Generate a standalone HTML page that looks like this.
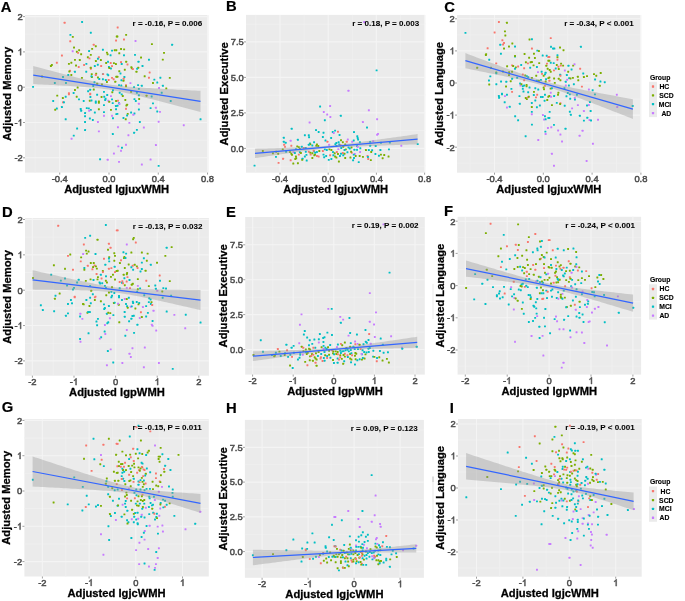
<!DOCTYPE html>
<html><head><meta charset="utf-8"><style>
html,body{margin:0;padding:0;background:#fff;width:685px;height:601px;overflow:hidden}
svg{display:block;font-family:"Liberation Sans",sans-serif;will-change:transform;-webkit-font-smoothing:antialiased}
</style></head><body>
<svg width="685" height="601" viewBox="0 0 685 601">
<rect width="685" height="601" fill="#ffffff"/>
<rect x="25" y="15" width="183.4" height="157.6" fill="#EBEBEB"/>
<line x1="35.08" y1="15" x2="35.08" y2="172.6" stroke="#F0F0F0" stroke-width="0.8"/>
<line x1="84.36" y1="15" x2="84.36" y2="172.6" stroke="#F0F0F0" stroke-width="0.8"/>
<line x1="133.64" y1="15" x2="133.64" y2="172.6" stroke="#F0F0F0" stroke-width="0.8"/>
<line x1="182.92" y1="15" x2="182.92" y2="172.6" stroke="#F0F0F0" stroke-width="0.8"/>
<line x1="25" y1="140.15" x2="208.4" y2="140.15" stroke="#F0F0F0" stroke-width="0.8"/>
<line x1="25" y1="104.85" x2="208.4" y2="104.85" stroke="#F0F0F0" stroke-width="0.8"/>
<line x1="25" y1="69.55" x2="208.4" y2="69.55" stroke="#F0F0F0" stroke-width="0.8"/>
<line x1="25" y1="34.25" x2="208.4" y2="34.25" stroke="#F0F0F0" stroke-width="0.8"/>
<line x1="59.72" y1="15" x2="59.72" y2="172.6" stroke="#F4F4F4" stroke-width="1.1"/>
<line x1="109" y1="15" x2="109" y2="172.6" stroke="#F4F4F4" stroke-width="1.1"/>
<line x1="158.28" y1="15" x2="158.28" y2="172.6" stroke="#F4F4F4" stroke-width="1.1"/>
<line x1="207.56" y1="15" x2="207.56" y2="172.6" stroke="#F4F4F4" stroke-width="1.1"/>
<line x1="25" y1="157.8" x2="208.4" y2="157.8" stroke="#F4F4F4" stroke-width="1.1"/>
<line x1="25" y1="122.5" x2="208.4" y2="122.5" stroke="#F4F4F4" stroke-width="1.1"/>
<line x1="25" y1="87.2" x2="208.4" y2="87.2" stroke="#F4F4F4" stroke-width="1.1"/>
<line x1="25" y1="51.9" x2="208.4" y2="51.9" stroke="#F4F4F4" stroke-width="1.1"/>
<line x1="25" y1="16.6" x2="208.4" y2="16.6" stroke="#F4F4F4" stroke-width="1.1"/>
<line x1="59.72" y1="172.6" x2="59.72" y2="174.6" stroke="#777" stroke-width="0.7"/>
<text x="59.72" y="182" font-size="9.4" fill="#4D4D4D" stroke="#4D4D4D" stroke-width="0.5" text-anchor="middle" font-family="Liberation Sans, sans-serif">-0.4</text>
<line x1="109" y1="172.6" x2="109" y2="174.6" stroke="#777" stroke-width="0.7"/>
<text x="109" y="182" font-size="9.4" fill="#4D4D4D" stroke="#4D4D4D" stroke-width="0.5" text-anchor="middle" font-family="Liberation Sans, sans-serif">0.0</text>
<line x1="158.28" y1="172.6" x2="158.28" y2="174.6" stroke="#777" stroke-width="0.7"/>
<text x="158.28" y="182" font-size="9.4" fill="#4D4D4D" stroke="#4D4D4D" stroke-width="0.5" text-anchor="middle" font-family="Liberation Sans, sans-serif">0.4</text>
<line x1="207.56" y1="172.6" x2="207.56" y2="174.6" stroke="#777" stroke-width="0.7"/>
<text x="207.56" y="182" font-size="9.4" fill="#4D4D4D" stroke="#4D4D4D" stroke-width="0.5" text-anchor="middle" font-family="Liberation Sans, sans-serif">0.8</text>
<line x1="23" y1="157.8" x2="25" y2="157.8" stroke="#777" stroke-width="0.7"/>
<text x="22.8" y="161.1" font-size="9.4" fill="#4D4D4D" stroke="#4D4D4D" stroke-width="0.5" text-anchor="end" font-family="Liberation Sans, sans-serif">-2</text>
<line x1="23" y1="122.5" x2="25" y2="122.5" stroke="#777" stroke-width="0.7"/>
<text x="22.8" y="125.8" font-size="9.4" fill="#4D4D4D" stroke="#4D4D4D" stroke-width="0.5" text-anchor="end" font-family="Liberation Sans, sans-serif">-&#8199;</text><path transform="translate(17.57,125.8) scale(9.4)" d="M0.283,0L0.373,0L0.373,-0.716L0.315,-0.716C0.29,-0.65 0.22,-0.57 0.109,-0.52L0.109,-0.445C0.18,-0.47 0.24,-0.51 0.283,-0.55Z" fill="#4D4D4D" stroke="#4D4D4D" stroke-width="0.0532"/>
<line x1="23" y1="87.2" x2="25" y2="87.2" stroke="#777" stroke-width="0.7"/>
<text x="22.8" y="90.5" font-size="9.4" fill="#4D4D4D" stroke="#4D4D4D" stroke-width="0.5" text-anchor="end" font-family="Liberation Sans, sans-serif">0</text>
<line x1="23" y1="51.9" x2="25" y2="51.9" stroke="#777" stroke-width="0.7"/>
<text x="22.8" y="55.2" font-size="9.4" fill="#4D4D4D" stroke="#4D4D4D" stroke-width="0.5" text-anchor="end" font-family="Liberation Sans, sans-serif">&#8199;</text><path transform="translate(17.57,55.2) scale(9.4)" d="M0.283,0L0.373,0L0.373,-0.716L0.315,-0.716C0.29,-0.65 0.22,-0.57 0.109,-0.52L0.109,-0.445C0.18,-0.47 0.24,-0.51 0.283,-0.55Z" fill="#4D4D4D" stroke="#4D4D4D" stroke-width="0.0532"/>
<line x1="23" y1="16.6" x2="25" y2="16.6" stroke="#777" stroke-width="0.7"/>
<text x="22.8" y="19.9" font-size="9.4" fill="#4D4D4D" stroke="#4D4D4D" stroke-width="0.5" text-anchor="end" font-family="Liberation Sans, sans-serif">2</text>
<g><rect x="56.26" y="94.64" width="1.94" height="1.94" rx="0.35" fill="#7CAE00"/><rect x="67.95" y="93.3" width="1.94" height="1.94" rx="0.35" fill="#F8766D"/><rect x="64.72" y="95.72" width="1.94" height="1.94" rx="0.35" fill="#00BFC4"/><rect x="61.9" y="97.06" width="1.94" height="1.94" rx="0.35" fill="#7CAE00"/><rect x="75.74" y="95.72" width="1.94" height="1.94" rx="0.35" fill="#7CAE00"/><rect x="78.02" y="98.4" width="1.94" height="1.94" rx="0.35" fill="#00BFC4"/><rect x="52.23" y="100.02" width="1.94" height="1.94" rx="0.35" fill="#00BFC4"/><rect x="62.04" y="101.36" width="1.94" height="1.94" rx="0.35" fill="#F8766D"/><rect x="62.98" y="101.36" width="1.94" height="1.94" rx="0.35" fill="#00BFC4"/><rect x="82.72" y="100.02" width="1.94" height="1.94" rx="0.35" fill="#00BFC4"/><rect x="89.17" y="93.43" width="1.94" height="1.94" rx="0.35" fill="#F8766D"/><rect x="89.44" y="95.99" width="1.94" height="1.94" rx="0.35" fill="#00BFC4"/><rect x="88.77" y="99.75" width="1.94" height="1.94" rx="0.35" fill="#7CAE00"/><rect x="90.51" y="99.48" width="1.94" height="1.94" rx="0.35" fill="#00BFC4"/><rect x="96.15" y="93.7" width="1.94" height="1.94" rx="0.35" fill="#00BFC4"/><rect x="100.58" y="95.99" width="1.94" height="1.94" rx="0.35" fill="#7CAE00"/><rect x="103.27" y="95.72" width="1.94" height="1.94" rx="0.35" fill="#00BFC4"/><rect x="104.61" y="97.73" width="1.94" height="1.94" rx="0.35" fill="#00BFC4"/><rect x="106.23" y="94.1" width="1.94" height="1.94" rx="0.35" fill="#00BFC4"/><rect x="109.99" y="95.18" width="1.94" height="1.94" rx="0.35" fill="#C77CFF"/><rect x="104.21" y="99.08" width="1.94" height="1.94" rx="0.35" fill="#00BFC4"/><rect x="107.3" y="99.75" width="1.94" height="1.94" rx="0.35" fill="#C77CFF"/><rect x="108.24" y="100.82" width="1.94" height="1.94" rx="0.35" fill="#7CAE00"/><rect x="111.06" y="98.4" width="1.94" height="1.94" rx="0.35" fill="#00BFC4"/><rect x="111.73" y="102.17" width="1.94" height="1.94" rx="0.35" fill="#00BFC4"/><rect x="115.09" y="100.02" width="1.94" height="1.94" rx="0.35" fill="#7CAE00"/><rect x="94.81" y="100.42" width="1.94" height="1.94" rx="0.35" fill="#00BFC4"/><rect x="94.81" y="101.76" width="1.94" height="1.94" rx="0.35" fill="#00BFC4"/><rect x="97.9" y="100.42" width="1.94" height="1.94" rx="0.35" fill="#7CAE00"/><rect x="97.9" y="101.76" width="1.94" height="1.94" rx="0.35" fill="#7CAE00"/><rect x="103" y="104.18" width="1.94" height="1.94" rx="0.35" fill="#00BFC4"/><rect x="55.86" y="107.54" width="1.94" height="1.94" rx="0.35" fill="#00BFC4"/><rect x="54.25" y="108.75" width="1.94" height="1.94" rx="0.35" fill="#7CAE00"/><rect x="60.96" y="106.06" width="1.94" height="1.94" rx="0.35" fill="#00BFC4"/><rect x="79.77" y="108.08" width="1.94" height="1.94" rx="0.35" fill="#00BFC4"/><rect x="80.17" y="109.82" width="1.94" height="1.94" rx="0.35" fill="#00BFC4"/><rect x="85.81" y="107.14" width="1.94" height="1.94" rx="0.35" fill="#00BFC4"/><rect x="87.83" y="107.41" width="1.94" height="1.94" rx="0.35" fill="#00BFC4"/><rect x="89.84" y="108.88" width="1.94" height="1.94" rx="0.35" fill="#00BFC4"/><rect x="88.23" y="109.82" width="1.94" height="1.94" rx="0.35" fill="#C77CFF"/><rect x="84.07" y="112.11" width="1.94" height="1.94" rx="0.35" fill="#00BFC4"/><rect x="93.87" y="111.57" width="1.94" height="1.94" rx="0.35" fill="#00BFC4"/><rect x="97.9" y="108.35" width="1.94" height="1.94" rx="0.35" fill="#7CAE00"/><rect x="103" y="111.17" width="1.94" height="1.94" rx="0.35" fill="#00BFC4"/><rect x="109.99" y="108.88" width="1.94" height="1.94" rx="0.35" fill="#7CAE00"/><rect x="114.96" y="105.12" width="1.94" height="1.94" rx="0.35" fill="#00BFC4"/><rect x="115.09" y="108.21" width="1.94" height="1.94" rx="0.35" fill="#00BFC4"/><rect x="84.07" y="115.2" width="1.94" height="1.94" rx="0.35" fill="#00BFC4"/><rect x="103" y="114.8" width="1.94" height="1.94" rx="0.35" fill="#C77CFF"/><rect x="111.06" y="114.8" width="1.94" height="1.94" rx="0.35" fill="#C77CFF"/><rect x="115.36" y="113.18" width="1.94" height="1.94" rx="0.35" fill="#00BFC4"/><rect x="112" y="117.21" width="1.94" height="1.94" rx="0.35" fill="#00BFC4"/><rect x="64.72" y="118.29" width="1.94" height="1.94" rx="0.35" fill="#00BFC4"/><rect x="88.9" y="117.48" width="1.94" height="1.94" rx="0.35" fill="#00BFC4"/><rect x="91.85" y="118.96" width="1.94" height="1.94" rx="0.35" fill="#00BFC4"/><rect x="84.07" y="120.98" width="1.94" height="1.94" rx="0.35" fill="#00BFC4"/><rect x="96.96" y="120.98" width="1.94" height="1.94" rx="0.35" fill="#C77CFF"/><rect x="76.14" y="127.56" width="1.94" height="1.94" rx="0.35" fill="#00BFC4"/><rect x="84.07" y="129.04" width="1.94" height="1.94" rx="0.35" fill="#00BFC4"/><rect x="97.9" y="130.38" width="1.94" height="1.94" rx="0.35" fill="#C77CFF"/><rect x="72.78" y="134.68" width="1.94" height="1.94" rx="0.35" fill="#00BFC4"/><rect x="70.63" y="137.77" width="1.94" height="1.94" rx="0.35" fill="#C77CFF"/><rect x="111.87" y="133.07" width="1.94" height="1.94" rx="0.35" fill="#00BFC4"/><rect x="112.94" y="152.55" width="1.94" height="1.94" rx="0.35" fill="#C77CFF"/><rect x="99.11" y="158.33" width="1.94" height="1.94" rx="0.35" fill="#00BFC4"/><rect x="106.76" y="158.86" width="1.94" height="1.94" rx="0.35" fill="#C77CFF"/><rect x="120.73" y="93.43" width="1.94" height="1.94" rx="0.35" fill="#00BFC4"/><rect x="121.81" y="95.05" width="1.94" height="1.94" rx="0.35" fill="#7CAE00"/><rect x="124.36" y="98.94" width="1.94" height="1.94" rx="0.35" fill="#7CAE00"/><rect x="116.97" y="99.75" width="1.94" height="1.94" rx="0.35" fill="#F8766D"/><rect x="118.04" y="102.17" width="1.94" height="1.94" rx="0.35" fill="#00BFC4"/><rect x="118.45" y="103.11" width="1.94" height="1.94" rx="0.35" fill="#C77CFF"/><rect x="116.43" y="104.85" width="1.94" height="1.94" rx="0.35" fill="#00BFC4"/><rect x="125.43" y="104.45" width="1.94" height="1.94" rx="0.35" fill="#7CAE00"/><rect x="126.1" y="103.78" width="1.94" height="1.94" rx="0.35" fill="#7CAE00"/><rect x="125.03" y="107.81" width="1.94" height="1.94" rx="0.35" fill="#F8766D"/><rect x="133.49" y="98.14" width="1.94" height="1.94" rx="0.35" fill="#00BFC4"/><rect x="134.83" y="100.02" width="1.94" height="1.94" rx="0.35" fill="#00BFC4"/><rect x="138.19" y="98" width="1.94" height="1.94" rx="0.35" fill="#7CAE00"/><rect x="137.92" y="94.37" width="1.94" height="1.94" rx="0.35" fill="#00BFC4"/><rect x="145.58" y="94.78" width="1.94" height="1.94" rx="0.35" fill="#7CAE00"/><rect x="150.68" y="95.45" width="1.94" height="1.94" rx="0.35" fill="#00BFC4"/><rect x="169.75" y="100.02" width="1.94" height="1.94" rx="0.35" fill="#00BFC4"/><rect x="137.92" y="102.84" width="1.94" height="1.94" rx="0.35" fill="#C77CFF"/><rect x="152.02" y="102.43" width="1.94" height="1.94" rx="0.35" fill="#00BFC4"/><rect x="137.92" y="108.48" width="1.94" height="1.94" rx="0.35" fill="#00BFC4"/><rect x="149.61" y="107.14" width="1.94" height="1.94" rx="0.35" fill="#00BFC4"/><rect x="154.98" y="106.87" width="1.94" height="1.94" rx="0.35" fill="#C77CFF"/><rect x="156.32" y="110.5" width="1.94" height="1.94" rx="0.35" fill="#00BFC4"/><rect x="159.01" y="110.9" width="1.94" height="1.94" rx="0.35" fill="#C77CFF"/><rect x="130.13" y="111.57" width="1.94" height="1.94" rx="0.35" fill="#00BFC4"/><rect x="133.49" y="112.51" width="1.94" height="1.94" rx="0.35" fill="#00BFC4"/><rect x="132.42" y="113.85" width="1.94" height="1.94" rx="0.35" fill="#C77CFF"/><rect x="126.77" y="112.91" width="1.94" height="1.94" rx="0.35" fill="#7CAE00"/><rect x="126.1" y="114.53" width="1.94" height="1.94" rx="0.35" fill="#00BFC4"/><rect x="116.43" y="112.91" width="1.94" height="1.94" rx="0.35" fill="#00BFC4"/><rect x="122.48" y="116.94" width="1.94" height="1.94" rx="0.35" fill="#00BFC4"/><rect x="124.76" y="118.29" width="1.94" height="1.94" rx="0.35" fill="#7CAE00"/><rect x="199.57" y="118.29" width="1.94" height="1.94" rx="0.35" fill="#00BFC4"/><rect x="128.39" y="121.92" width="1.94" height="1.94" rx="0.35" fill="#C77CFF"/><rect x="138.86" y="120.98" width="1.94" height="1.94" rx="0.35" fill="#00BFC4"/><rect x="157.67" y="120.71" width="1.94" height="1.94" rx="0.35" fill="#C77CFF"/><rect x="182.78" y="124.2" width="1.94" height="1.94" rx="0.35" fill="#C77CFF"/><rect x="116.97" y="126.22" width="1.94" height="1.94" rx="0.35" fill="#C77CFF"/><rect x="142.89" y="126.62" width="1.94" height="1.94" rx="0.35" fill="#C77CFF"/><rect x="135.91" y="128.9" width="1.94" height="1.94" rx="0.35" fill="#00BFC4"/><rect x="133.09" y="131.86" width="1.94" height="1.94" rx="0.35" fill="#00BFC4"/><rect x="127.45" y="134.28" width="1.94" height="1.94" rx="0.35" fill="#C77CFF"/><rect x="125.03" y="143.82" width="1.94" height="1.94" rx="0.35" fill="#C77CFF"/><rect x="154.98" y="144.08" width="1.94" height="1.94" rx="0.35" fill="#C77CFF"/><rect x="117.37" y="145.43" width="1.94" height="1.94" rx="0.35" fill="#C77CFF"/><rect x="121" y="146.77" width="1.94" height="1.94" rx="0.35" fill="#00BFC4"/><rect x="120.06" y="149.86" width="1.94" height="1.94" rx="0.35" fill="#C77CFF"/><rect x="149.61" y="158.59" width="1.94" height="1.94" rx="0.35" fill="#C77CFF"/><rect x="118.04" y="160.88" width="1.94" height="1.94" rx="0.35" fill="#C77CFF"/><rect x="140.88" y="163.57" width="1.94" height="1.94" rx="0.35" fill="#C77CFF"/><rect x="157.67" y="164.91" width="1.94" height="1.94" rx="0.35" fill="#00BFC4"/><rect x="63.65" y="21.82" width="1.94" height="1.94" rx="0.35" fill="#F8766D"/><rect x="81.11" y="21.02" width="1.94" height="1.94" rx="0.35" fill="#00BFC4"/><rect x="89.84" y="31.76" width="1.94" height="1.94" rx="0.35" fill="#00BFC4"/><rect x="69.43" y="33.91" width="1.94" height="1.94" rx="0.35" fill="#00BFC4"/><rect x="71.84" y="35.93" width="1.94" height="1.94" rx="0.35" fill="#7CAE00"/><rect x="69.29" y="40.36" width="1.94" height="1.94" rx="0.35" fill="#F8766D"/><rect x="92.79" y="43.86" width="1.94" height="1.94" rx="0.35" fill="#F8766D"/><rect x="94.81" y="45.2" width="1.94" height="1.94" rx="0.35" fill="#7CAE00"/><rect x="73.05" y="46.54" width="1.94" height="1.94" rx="0.35" fill="#7CAE00"/><rect x="91.18" y="47.89" width="1.94" height="1.94" rx="0.35" fill="#7CAE00"/><rect x="71.71" y="50.31" width="1.94" height="1.94" rx="0.35" fill="#C77CFF"/><rect x="75.87" y="50.71" width="1.94" height="1.94" rx="0.35" fill="#7CAE00"/><rect x="77.08" y="51.92" width="1.94" height="1.94" rx="0.35" fill="#F8766D"/><rect x="78.16" y="49.23" width="1.94" height="1.94" rx="0.35" fill="#7CAE00"/><rect x="80.17" y="53.26" width="1.94" height="1.94" rx="0.35" fill="#7CAE00"/><rect x="88.09" y="50.04" width="1.94" height="1.94" rx="0.35" fill="#00BFC4"/><rect x="101.93" y="48.69" width="1.94" height="1.94" rx="0.35" fill="#00BFC4"/><rect x="105.96" y="51.65" width="1.94" height="1.94" rx="0.35" fill="#7CAE00"/><rect x="106.63" y="53.26" width="1.94" height="1.94" rx="0.35" fill="#7CAE00"/><rect x="111.06" y="49.63" width="1.94" height="1.94" rx="0.35" fill="#00BFC4"/><rect x="113.75" y="49.23" width="1.94" height="1.94" rx="0.35" fill="#7CAE00"/><rect x="115.36" y="49.23" width="1.94" height="1.94" rx="0.35" fill="#7CAE00"/><rect x="115.09" y="39.56" width="1.94" height="1.94" rx="0.35" fill="#F8766D"/><rect x="115.76" y="35.53" width="1.94" height="1.94" rx="0.35" fill="#7CAE00"/><rect x="60.96" y="54.6" width="1.94" height="1.94" rx="0.35" fill="#F8766D"/><rect x="89.84" y="53.93" width="1.94" height="1.94" rx="0.35" fill="#7CAE00"/><rect x="86.89" y="56.35" width="1.94" height="1.94" rx="0.35" fill="#7CAE00"/><rect x="88.5" y="57.43" width="1.94" height="1.94" rx="0.35" fill="#F8766D"/><rect x="97.9" y="56.35" width="1.94" height="1.94" rx="0.35" fill="#F8766D"/><rect x="96.96" y="57.69" width="1.94" height="1.94" rx="0.35" fill="#00BFC4"/><rect x="99.91" y="59.04" width="1.94" height="1.94" rx="0.35" fill="#7CAE00"/><rect x="94.94" y="60.11" width="1.94" height="1.94" rx="0.35" fill="#7CAE00"/><rect x="109.58" y="54.34" width="1.94" height="1.94" rx="0.35" fill="#00BFC4"/><rect x="55.86" y="61.73" width="1.94" height="1.94" rx="0.35" fill="#F8766D"/><rect x="50.89" y="64.01" width="1.94" height="1.94" rx="0.35" fill="#7CAE00"/><rect x="49.95" y="65.08" width="1.94" height="1.94" rx="0.35" fill="#7CAE00"/><rect x="67.95" y="62.93" width="1.94" height="1.94" rx="0.35" fill="#7CAE00"/><rect x="70.37" y="61.73" width="1.94" height="1.94" rx="0.35" fill="#7CAE00"/><rect x="73.99" y="58.9" width="1.94" height="1.94" rx="0.35" fill="#7CAE00"/><rect x="78.83" y="59.04" width="1.94" height="1.94" rx="0.35" fill="#7CAE00"/><rect x="75.07" y="64.55" width="1.94" height="1.94" rx="0.35" fill="#7CAE00"/><rect x="77.75" y="66.02" width="1.94" height="1.94" rx="0.35" fill="#F8766D"/><rect x="83.12" y="64.01" width="1.94" height="1.94" rx="0.35" fill="#F8766D"/><rect x="85.41" y="62.93" width="1.94" height="1.94" rx="0.35" fill="#00BFC4"/><rect x="93.87" y="65.08" width="1.94" height="1.94" rx="0.35" fill="#00BFC4"/><rect x="96.82" y="63.74" width="1.94" height="1.94" rx="0.35" fill="#00BFC4"/><rect x="100.18" y="65.08" width="1.94" height="1.94" rx="0.35" fill="#F8766D"/><rect x="105.15" y="61.99" width="1.94" height="1.94" rx="0.35" fill="#7CAE00"/><rect x="107.03" y="60.79" width="1.94" height="1.94" rx="0.35" fill="#00BFC4"/><rect x="109.72" y="61.99" width="1.94" height="1.94" rx="0.35" fill="#F8766D"/><rect x="112.94" y="62.13" width="1.94" height="1.94" rx="0.35" fill="#7CAE00"/><rect x="114.96" y="63.07" width="1.94" height="1.94" rx="0.35" fill="#7CAE00"/><rect x="107.97" y="66.02" width="1.94" height="1.94" rx="0.35" fill="#00BFC4"/><rect x="109.99" y="67.5" width="1.94" height="1.94" rx="0.35" fill="#00BFC4"/><rect x="108.37" y="67.1" width="1.94" height="1.94" rx="0.35" fill="#7CAE00"/><rect x="111.06" y="65.08" width="1.94" height="1.94" rx="0.35" fill="#F8766D"/><rect x="69.02" y="69.79" width="1.94" height="1.94" rx="0.35" fill="#F8766D"/><rect x="73.99" y="70.86" width="1.94" height="1.94" rx="0.35" fill="#00BFC4"/><rect x="68.35" y="70.46" width="1.94" height="1.94" rx="0.35" fill="#7CAE00"/><rect x="67.28" y="74.09" width="1.94" height="1.94" rx="0.35" fill="#00BFC4"/><rect x="70.37" y="73.95" width="1.94" height="1.94" rx="0.35" fill="#7CAE00"/><rect x="89.84" y="67.77" width="1.94" height="1.94" rx="0.35" fill="#F8766D"/><rect x="89.84" y="66.83" width="1.94" height="1.94" rx="0.35" fill="#7CAE00"/><rect x="85.27" y="70.73" width="1.94" height="1.94" rx="0.35" fill="#00BFC4"/><rect x="90.78" y="73.15" width="1.94" height="1.94" rx="0.35" fill="#7CAE00"/><rect x="95.21" y="72.74" width="1.94" height="1.94" rx="0.35" fill="#7CAE00"/><rect x="101.93" y="73.15" width="1.94" height="1.94" rx="0.35" fill="#00BFC4"/><rect x="102.2" y="73.15" width="1.94" height="1.94" rx="0.35" fill="#F8766D"/><rect x="106.49" y="73.41" width="1.94" height="1.94" rx="0.35" fill="#00BFC4"/><rect x="107.3" y="74.22" width="1.94" height="1.94" rx="0.35" fill="#00BFC4"/><rect x="115.36" y="75.83" width="1.94" height="1.94" rx="0.35" fill="#7CAE00"/><rect x="90.91" y="76.1" width="1.94" height="1.94" rx="0.35" fill="#7CAE00"/><rect x="90.51" y="75.3" width="1.94" height="1.94" rx="0.35" fill="#00BFC4"/><rect x="94.81" y="74.09" width="1.94" height="1.94" rx="0.35" fill="#F8766D"/><rect x="96.96" y="76.5" width="1.94" height="1.94" rx="0.35" fill="#7CAE00"/><rect x="98.3" y="78.12" width="1.94" height="1.94" rx="0.35" fill="#00BFC4"/><rect x="101.93" y="78.25" width="1.94" height="1.94" rx="0.35" fill="#00BFC4"/><rect x="104.88" y="79.06" width="1.94" height="1.94" rx="0.35" fill="#00BFC4"/><rect x="107.7" y="79.06" width="1.94" height="1.94" rx="0.35" fill="#F8766D"/><rect x="111.06" y="76.91" width="1.94" height="1.94" rx="0.35" fill="#F8766D"/><rect x="112.67" y="78.25" width="1.94" height="1.94" rx="0.35" fill="#F8766D"/><rect x="105.96" y="80.94" width="1.94" height="1.94" rx="0.35" fill="#7CAE00"/><rect x="114.28" y="80.8" width="1.94" height="1.94" rx="0.35" fill="#7CAE00"/><rect x="93.47" y="81.21" width="1.94" height="1.94" rx="0.35" fill="#00BFC4"/><rect x="96.15" y="82.82" width="1.94" height="1.94" rx="0.35" fill="#7CAE00"/><rect x="100.99" y="83.49" width="1.94" height="1.94" rx="0.35" fill="#7CAE00"/><rect x="92.26" y="84.97" width="1.94" height="1.94" rx="0.35" fill="#00BFC4"/><rect x="80.98" y="76.91" width="1.94" height="1.94" rx="0.35" fill="#7CAE00"/><rect x="62.04" y="75.97" width="1.94" height="1.94" rx="0.35" fill="#00BFC4"/><rect x="53.85" y="82.01" width="1.94" height="1.94" rx="0.35" fill="#00BFC4"/><rect x="64.99" y="82.01" width="1.94" height="1.94" rx="0.35" fill="#00BFC4"/><rect x="41.09" y="75.56" width="1.94" height="1.94" rx="0.35" fill="#7CAE00"/><rect x="32.09" y="85.91" width="1.94" height="1.94" rx="0.35" fill="#00BFC4"/><rect x="76.68" y="86.58" width="1.94" height="1.94" rx="0.35" fill="#7CAE00"/><rect x="73.99" y="89" width="1.94" height="1.94" rx="0.35" fill="#7CAE00"/><rect x="92.79" y="88.6" width="1.94" height="1.94" rx="0.35" fill="#7CAE00"/><rect x="89.17" y="88.87" width="1.94" height="1.94" rx="0.35" fill="#00BFC4"/><rect x="87.15" y="90.21" width="1.94" height="1.94" rx="0.35" fill="#00BFC4"/><rect x="67.95" y="92.22" width="1.94" height="1.94" rx="0.35" fill="#F8766D"/><rect x="72.65" y="91.96" width="1.94" height="1.94" rx="0.35" fill="#00BFC4"/><rect x="89.3" y="92.63" width="1.94" height="1.94" rx="0.35" fill="#F8766D"/><rect x="103" y="90.88" width="1.94" height="1.94" rx="0.35" fill="#00BFC4"/><rect x="111.33" y="91.28" width="1.94" height="1.94" rx="0.35" fill="#7CAE00"/><rect x="112" y="89.27" width="1.94" height="1.94" rx="0.35" fill="#00BFC4"/><rect x="116.7" y="26.52" width="1.94" height="1.94" rx="0.35" fill="#F8766D"/><rect x="125.16" y="33.91" width="1.94" height="1.94" rx="0.35" fill="#7CAE00"/><rect x="116.43" y="35.53" width="1.94" height="1.94" rx="0.35" fill="#7CAE00"/><rect x="123.01" y="38.48" width="1.94" height="1.94" rx="0.35" fill="#F8766D"/><rect x="134.56" y="39.96" width="1.94" height="1.94" rx="0.35" fill="#C77CFF"/><rect x="150.95" y="43.18" width="1.94" height="1.94" rx="0.35" fill="#7CAE00"/><rect x="171.1" y="43.86" width="1.94" height="1.94" rx="0.35" fill="#00BFC4"/><rect x="120.06" y="48.02" width="1.94" height="1.94" rx="0.35" fill="#7CAE00"/><rect x="123.15" y="48.42" width="1.94" height="1.94" rx="0.35" fill="#7CAE00"/><rect x="118.31" y="52.32" width="1.94" height="1.94" rx="0.35" fill="#7CAE00"/><rect x="123.01" y="54.34" width="1.94" height="1.94" rx="0.35" fill="#00BFC4"/><rect x="134.03" y="53.93" width="1.94" height="1.94" rx="0.35" fill="#00BFC4"/><rect x="163.04" y="51.92" width="1.94" height="1.94" rx="0.35" fill="#7CAE00"/><rect x="140.07" y="56.62" width="1.94" height="1.94" rx="0.35" fill="#7CAE00"/><rect x="147.99" y="58.77" width="1.94" height="1.94" rx="0.35" fill="#00BFC4"/><rect x="161.83" y="58.64" width="1.94" height="1.94" rx="0.35" fill="#7CAE00"/><rect x="120.06" y="61.05" width="1.94" height="1.94" rx="0.35" fill="#F8766D"/><rect x="125.16" y="60.79" width="1.94" height="1.94" rx="0.35" fill="#7CAE00"/><rect x="120.73" y="63.07" width="1.94" height="1.94" rx="0.35" fill="#00BFC4"/><rect x="126.51" y="63.47" width="1.94" height="1.94" rx="0.35" fill="#F8766D"/><rect x="137.52" y="60.79" width="1.94" height="1.94" rx="0.35" fill="#00BFC4"/><rect x="141.55" y="65.08" width="1.94" height="1.94" rx="0.35" fill="#00BFC4"/><rect x="130.4" y="66.16" width="1.94" height="1.94" rx="0.35" fill="#7CAE00"/><rect x="130.8" y="67.37" width="1.94" height="1.94" rx="0.35" fill="#7CAE00"/><rect x="131.88" y="68.04" width="1.94" height="1.94" rx="0.35" fill="#F8766D"/><rect x="137.25" y="66.83" width="1.94" height="1.94" rx="0.35" fill="#7CAE00"/><rect x="136.18" y="67.77" width="1.94" height="1.94" rx="0.35" fill="#00BFC4"/><rect x="118.31" y="70.19" width="1.94" height="1.94" rx="0.35" fill="#7CAE00"/><rect x="123.82" y="68.71" width="1.94" height="1.94" rx="0.35" fill="#7CAE00"/><rect x="119.52" y="72.47" width="1.94" height="1.94" rx="0.35" fill="#00BFC4"/><rect x="135.5" y="70.86" width="1.94" height="1.94" rx="0.35" fill="#7CAE00"/><rect x="148.67" y="71.53" width="1.94" height="1.94" rx="0.35" fill="#F8766D"/><rect x="116.43" y="75.83" width="1.94" height="1.94" rx="0.35" fill="#7CAE00"/><rect x="123.42" y="76.1" width="1.94" height="1.94" rx="0.35" fill="#00BFC4"/><rect x="122.75" y="77.85" width="1.94" height="1.94" rx="0.35" fill="#F8766D"/><rect x="122.48" y="79.86" width="1.94" height="1.94" rx="0.35" fill="#7CAE00"/><rect x="120.46" y="79.19" width="1.94" height="1.94" rx="0.35" fill="#00BFC4"/><rect x="143.7" y="75.3" width="1.94" height="1.94" rx="0.35" fill="#7CAE00"/><rect x="147.99" y="76.77" width="1.94" height="1.94" rx="0.35" fill="#F8766D"/><rect x="153.37" y="78.65" width="1.94" height="1.94" rx="0.35" fill="#00BFC4"/><rect x="159.41" y="76.77" width="1.94" height="1.94" rx="0.35" fill="#00BFC4"/><rect x="168.81" y="76.91" width="1.94" height="1.94" rx="0.35" fill="#7CAE00"/><rect x="156.32" y="81.61" width="1.94" height="1.94" rx="0.35" fill="#00BFC4"/><rect x="152.02" y="82.01" width="1.94" height="1.94" rx="0.35" fill="#7CAE00"/><rect x="129.46" y="82.15" width="1.94" height="1.94" rx="0.35" fill="#C77CFF"/><rect x="118.04" y="84.16" width="1.94" height="1.94" rx="0.35" fill="#00BFC4"/><rect x="120.33" y="84.57" width="1.94" height="1.94" rx="0.35" fill="#00BFC4"/><rect x="125.03" y="84.16" width="1.94" height="1.94" rx="0.35" fill="#F8766D"/><rect x="125.03" y="85.24" width="1.94" height="1.94" rx="0.35" fill="#7CAE00"/><rect x="137.12" y="84.16" width="1.94" height="1.94" rx="0.35" fill="#00BFC4"/><rect x="140.88" y="84.83" width="1.94" height="1.94" rx="0.35" fill="#00BFC4"/><rect x="133.09" y="86.18" width="1.94" height="1.94" rx="0.35" fill="#00BFC4"/><rect x="158.07" y="86.98" width="1.94" height="1.94" rx="0.35" fill="#C77CFF"/><rect x="161.96" y="84.83" width="1.94" height="1.94" rx="0.35" fill="#00BFC4"/><rect x="165.32" y="87.39" width="1.94" height="1.94" rx="0.35" fill="#7CAE00"/><rect x="137.92" y="87.92" width="1.94" height="1.94" rx="0.35" fill="#00BFC4"/><rect x="130.13" y="90.88" width="1.94" height="1.94" rx="0.35" fill="#7CAE00"/><rect x="135.91" y="91.69" width="1.94" height="1.94" rx="0.35" fill="#00BFC4"/><rect x="160.75" y="91.69" width="1.94" height="1.94" rx="0.35" fill="#00BFC4"/><rect x="118.72" y="91.69" width="1.94" height="1.94" rx="0.35" fill="#00BFC4"/></g>
<polygon points="33.2,66.1 36.04,66.85 38.87,67.61 41.71,68.36 44.54,69.11 47.38,69.86 50.21,70.6 53.05,71.35 55.88,72.09 58.72,72.83 61.56,73.57 64.39,74.3 67.23,75.03 70.06,75.75 72.9,76.47 75.73,77.19 78.57,77.89 81.41,78.59 84.24,79.28 87.08,79.95 89.91,80.61 92.75,81.25 95.58,81.86 98.42,82.45 101.25,83.02 104.09,83.54 106.93,84.04 109.76,84.49 112.6,84.9 115.43,85.28 118.27,85.62 121.1,85.94 123.94,86.22 126.77,86.49 129.61,86.73 132.45,86.96 135.28,87.17 138.12,87.38 140.95,87.57 143.79,87.76 146.62,87.94 149.46,88.11 152.29,88.28 155.13,88.45 157.97,88.61 160.8,88.77 163.64,88.92 166.47,89.07 169.31,89.23 172.14,89.37 174.98,89.52 177.82,89.67 180.65,89.81 183.49,89.96 186.32,90.1 189.16,90.24 191.99,90.38 194.83,90.52 197.66,90.66 200.5,90.8 200.5,112 197.66,111.25 194.83,110.5 191.99,109.74 189.16,108.99 186.32,108.24 183.49,107.49 180.65,106.75 177.82,106 174.98,105.25 172.14,104.51 169.31,103.77 166.47,103.03 163.64,102.29 160.8,101.55 157.97,100.82 155.13,100.09 152.29,99.36 149.46,98.64 146.62,97.92 143.79,97.21 140.95,96.51 138.12,95.81 135.28,95.12 132.45,94.44 129.61,93.78 126.77,93.13 123.94,92.51 121.1,91.9 118.27,91.32 115.43,90.78 112.6,90.26 109.76,89.78 106.93,89.34 104.09,88.94 101.25,88.58 98.42,88.25 95.58,87.95 92.75,87.68 89.91,87.42 87.08,87.19 84.24,86.97 81.41,86.77 78.57,86.57 75.73,86.39 72.9,86.21 70.06,86.04 67.23,85.87 64.39,85.71 61.56,85.55 58.72,85.39 55.88,85.24 53.05,85.09 50.21,84.95 47.38,84.8 44.54,84.66 41.71,84.52 38.87,84.38 36.04,84.24 33.2,84.1" fill="#999999" fill-opacity="0.4"/>
<line x1="33.2" y1="75.1" x2="200.5" y2="101.4" stroke="#3366FF" stroke-width="1.2"/>
<text x="202.2" y="26.3" font-size="8.05" font-weight="bold" text-anchor="end" fill="#000" stroke="#000" stroke-width="0.05" font-family="Liberation Sans, sans-serif">r = -0.16, P = 0.006</text>
<text x="116.7" y="192.8" font-size="11.2" font-weight="bold" text-anchor="middle" fill="#000" stroke="#000" stroke-width="0.28" font-family="Liberation Sans, sans-serif">Adjusted IgjuxWMH</text>
<text transform="translate(10.9,93.8) rotate(-90)" font-size="11.2" font-weight="bold" text-anchor="middle" fill="#000" stroke="#000" stroke-width="0.28" font-family="Liberation Sans, sans-serif">Adjusted Memory</text>
<text x="0.8" y="12" font-size="14.8" font-weight="bold" fill="#000" stroke="#000" stroke-width="0.18" font-family="Liberation Sans, sans-serif">A</text>
<rect x="246" y="14.9" width="179.3" height="157.8" fill="#EBEBEB"/>
<line x1="255.9" y1="14.9" x2="255.9" y2="172.7" stroke="#F0F0F0" stroke-width="0.8"/>
<line x1="304.1" y1="14.9" x2="304.1" y2="172.7" stroke="#F0F0F0" stroke-width="0.8"/>
<line x1="352.3" y1="14.9" x2="352.3" y2="172.7" stroke="#F0F0F0" stroke-width="0.8"/>
<line x1="400.5" y1="14.9" x2="400.5" y2="172.7" stroke="#F0F0F0" stroke-width="0.8"/>
<line x1="246" y1="166.15" x2="425.3" y2="166.15" stroke="#F0F0F0" stroke-width="0.8"/>
<line x1="246" y1="130.65" x2="425.3" y2="130.65" stroke="#F0F0F0" stroke-width="0.8"/>
<line x1="246" y1="95.15" x2="425.3" y2="95.15" stroke="#F0F0F0" stroke-width="0.8"/>
<line x1="246" y1="59.65" x2="425.3" y2="59.65" stroke="#F0F0F0" stroke-width="0.8"/>
<line x1="246" y1="24.15" x2="425.3" y2="24.15" stroke="#F0F0F0" stroke-width="0.8"/>
<line x1="280" y1="14.9" x2="280" y2="172.7" stroke="#F4F4F4" stroke-width="1.1"/>
<line x1="328.2" y1="14.9" x2="328.2" y2="172.7" stroke="#F4F4F4" stroke-width="1.1"/>
<line x1="376.4" y1="14.9" x2="376.4" y2="172.7" stroke="#F4F4F4" stroke-width="1.1"/>
<line x1="424.6" y1="14.9" x2="424.6" y2="172.7" stroke="#F4F4F4" stroke-width="1.1"/>
<line x1="246" y1="148.4" x2="425.3" y2="148.4" stroke="#F4F4F4" stroke-width="1.1"/>
<line x1="246" y1="112.9" x2="425.3" y2="112.9" stroke="#F4F4F4" stroke-width="1.1"/>
<line x1="246" y1="77.4" x2="425.3" y2="77.4" stroke="#F4F4F4" stroke-width="1.1"/>
<line x1="246" y1="41.9" x2="425.3" y2="41.9" stroke="#F4F4F4" stroke-width="1.1"/>
<line x1="280" y1="172.7" x2="280" y2="174.7" stroke="#777" stroke-width="0.7"/>
<text x="280" y="182.1" font-size="9.4" fill="#4D4D4D" stroke="#4D4D4D" stroke-width="0.5" text-anchor="middle" font-family="Liberation Sans, sans-serif">-0.4</text>
<line x1="328.2" y1="172.7" x2="328.2" y2="174.7" stroke="#777" stroke-width="0.7"/>
<text x="328.2" y="182.1" font-size="9.4" fill="#4D4D4D" stroke="#4D4D4D" stroke-width="0.5" text-anchor="middle" font-family="Liberation Sans, sans-serif">0.0</text>
<line x1="376.4" y1="172.7" x2="376.4" y2="174.7" stroke="#777" stroke-width="0.7"/>
<text x="376.4" y="182.1" font-size="9.4" fill="#4D4D4D" stroke="#4D4D4D" stroke-width="0.5" text-anchor="middle" font-family="Liberation Sans, sans-serif">0.4</text>
<line x1="424.6" y1="172.7" x2="424.6" y2="174.7" stroke="#777" stroke-width="0.7"/>
<text x="424.6" y="182.1" font-size="9.4" fill="#4D4D4D" stroke="#4D4D4D" stroke-width="0.5" text-anchor="middle" font-family="Liberation Sans, sans-serif">0.8</text>
<line x1="244" y1="148.4" x2="246" y2="148.4" stroke="#777" stroke-width="0.7"/>
<text x="243.8" y="151.7" font-size="9.4" fill="#4D4D4D" stroke="#4D4D4D" stroke-width="0.5" text-anchor="end" font-family="Liberation Sans, sans-serif">0.0</text>
<line x1="244" y1="112.9" x2="246" y2="112.9" stroke="#777" stroke-width="0.7"/>
<text x="243.8" y="116.2" font-size="9.4" fill="#4D4D4D" stroke="#4D4D4D" stroke-width="0.5" text-anchor="end" font-family="Liberation Sans, sans-serif">2.5</text>
<line x1="244" y1="77.4" x2="246" y2="77.4" stroke="#777" stroke-width="0.7"/>
<text x="243.8" y="80.7" font-size="9.4" fill="#4D4D4D" stroke="#4D4D4D" stroke-width="0.5" text-anchor="end" font-family="Liberation Sans, sans-serif">5.0</text>
<line x1="244" y1="41.9" x2="246" y2="41.9" stroke="#777" stroke-width="0.7"/>
<text x="243.8" y="45.2" font-size="9.4" fill="#4D4D4D" stroke="#4D4D4D" stroke-width="0.5" text-anchor="end" font-family="Liberation Sans, sans-serif">7.5</text>
<g><rect x="322.81" y="111" width="1.94" height="1.94" rx="0.35" fill="#C77CFF"/><rect x="326.23" y="113.62" width="1.94" height="1.94" rx="0.35" fill="#C77CFF"/><rect x="329.38" y="115.99" width="1.94" height="1.94" rx="0.35" fill="#C77CFF"/><rect x="323.86" y="119.27" width="1.94" height="1.94" rx="0.35" fill="#00BFC4"/><rect x="308.62" y="121.5" width="1.94" height="1.94" rx="0.35" fill="#C77CFF"/><rect x="290.75" y="127.8" width="1.94" height="1.94" rx="0.35" fill="#00BFC4"/><rect x="315.06" y="129.11" width="1.94" height="1.94" rx="0.35" fill="#00BFC4"/><rect x="317.69" y="130.95" width="1.94" height="1.94" rx="0.35" fill="#00BFC4"/><rect x="322.55" y="131.74" width="1.94" height="1.94" rx="0.35" fill="#00BFC4"/><rect x="331.75" y="130.95" width="1.94" height="1.94" rx="0.35" fill="#00BFC4"/><rect x="334.11" y="129.64" width="1.94" height="1.94" rx="0.35" fill="#00BFC4"/><rect x="332.8" y="132" width="1.94" height="1.94" rx="0.35" fill="#C77CFF"/><rect x="303.89" y="134.23" width="1.94" height="1.94" rx="0.35" fill="#00BFC4"/><rect x="307.83" y="134.36" width="1.94" height="1.94" rx="0.35" fill="#00BFC4"/><rect x="308.1" y="136.2" width="1.94" height="1.94" rx="0.35" fill="#00BFC4"/><rect x="321.89" y="135.94" width="1.94" height="1.94" rx="0.35" fill="#00BFC4"/><rect x="330.17" y="136.99" width="1.94" height="1.94" rx="0.35" fill="#00BFC4"/><rect x="282.87" y="136.85" width="1.94" height="1.94" rx="0.35" fill="#00BFC4"/><rect x="296.93" y="138.82" width="1.94" height="1.94" rx="0.35" fill="#00BFC4"/><rect x="289.7" y="139.87" width="1.94" height="1.94" rx="0.35" fill="#C77CFF"/><rect x="282.87" y="140.79" width="1.94" height="1.94" rx="0.35" fill="#00BFC4"/><rect x="284.71" y="141.84" width="1.94" height="1.94" rx="0.35" fill="#00BFC4"/><rect x="324.52" y="139.61" width="1.94" height="1.94" rx="0.35" fill="#00BFC4"/><rect x="326.49" y="140.79" width="1.94" height="1.94" rx="0.35" fill="#F8766D"/><rect x="313.09" y="141.19" width="1.94" height="1.94" rx="0.35" fill="#00BFC4"/><rect x="309.02" y="142.5" width="1.94" height="1.94" rx="0.35" fill="#00BFC4"/><rect x="309.41" y="143.42" width="1.94" height="1.94" rx="0.35" fill="#7CAE00"/><rect x="311.38" y="144.47" width="1.94" height="1.94" rx="0.35" fill="#00BFC4"/><rect x="315.98" y="143.42" width="1.94" height="1.94" rx="0.35" fill="#7CAE00"/><rect x="317.29" y="145.12" width="1.94" height="1.94" rx="0.35" fill="#7CAE00"/><rect x="315.32" y="144.73" width="1.94" height="1.94" rx="0.35" fill="#7CAE00"/><rect x="307.83" y="143.81" width="1.94" height="1.94" rx="0.35" fill="#00BFC4"/><rect x="328.07" y="143.81" width="1.94" height="1.94" rx="0.35" fill="#C77CFF"/><rect x="334.37" y="143.16" width="1.94" height="1.94" rx="0.35" fill="#00BFC4"/><rect x="283.13" y="143.81" width="1.94" height="1.94" rx="0.35" fill="#F8766D"/><rect x="284.05" y="145.78" width="1.94" height="1.94" rx="0.35" fill="#F8766D"/><rect x="290.36" y="144.73" width="1.94" height="1.94" rx="0.35" fill="#F8766D"/><rect x="296.27" y="145.39" width="1.94" height="1.94" rx="0.35" fill="#7CAE00"/><rect x="297.85" y="146.17" width="1.94" height="1.94" rx="0.35" fill="#7CAE00"/><rect x="300.87" y="145.78" width="1.94" height="1.94" rx="0.35" fill="#00BFC4"/><rect x="302.84" y="147.09" width="1.94" height="1.94" rx="0.35" fill="#F8766D"/><rect x="304.81" y="147.09" width="1.94" height="1.94" rx="0.35" fill="#00BFC4"/><rect x="298.9" y="148.01" width="1.94" height="1.94" rx="0.35" fill="#7CAE00"/><rect x="294.96" y="148.14" width="1.94" height="1.94" rx="0.35" fill="#00BFC4"/><rect x="281.82" y="148.41" width="1.94" height="1.94" rx="0.35" fill="#7CAE00"/><rect x="271.96" y="152.34" width="1.94" height="1.94" rx="0.35" fill="#7CAE00"/><rect x="275.25" y="150.77" width="1.94" height="1.94" rx="0.35" fill="#7CAE00"/><rect x="277.22" y="152.74" width="1.94" height="1.94" rx="0.35" fill="#7CAE00"/><rect x="261.85" y="149.98" width="1.94" height="1.94" rx="0.35" fill="#7CAE00"/><rect x="285.1" y="150.77" width="1.94" height="1.94" rx="0.35" fill="#00BFC4"/><rect x="289.04" y="151.03" width="1.94" height="1.94" rx="0.35" fill="#7CAE00"/><rect x="290.36" y="152.74" width="1.94" height="1.94" rx="0.35" fill="#7CAE00"/><rect x="292.59" y="151.29" width="1.94" height="1.94" rx="0.35" fill="#C77CFF"/><rect x="293.91" y="151.95" width="1.94" height="1.94" rx="0.35" fill="#00BFC4"/><rect x="291.02" y="153.92" width="1.94" height="1.94" rx="0.35" fill="#7CAE00"/><rect x="298.9" y="151.29" width="1.94" height="1.94" rx="0.35" fill="#00BFC4"/><rect x="299.95" y="151.95" width="1.94" height="1.94" rx="0.35" fill="#7CAE00"/><rect x="297.85" y="153.66" width="1.94" height="1.94" rx="0.35" fill="#F8766D"/><rect x="304.81" y="150.77" width="1.94" height="1.94" rx="0.35" fill="#00BFC4"/><rect x="307.83" y="150.77" width="1.94" height="1.94" rx="0.35" fill="#F8766D"/><rect x="309.41" y="151.69" width="1.94" height="1.94" rx="0.35" fill="#7CAE00"/><rect x="312.96" y="150.37" width="1.94" height="1.94" rx="0.35" fill="#00BFC4"/><rect x="312.69" y="149.72" width="1.94" height="1.94" rx="0.35" fill="#F8766D"/><rect x="311.38" y="152.34" width="1.94" height="1.94" rx="0.35" fill="#7CAE00"/><rect x="314.01" y="153.66" width="1.94" height="1.94" rx="0.35" fill="#7CAE00"/><rect x="309.67" y="153.66" width="1.94" height="1.94" rx="0.35" fill="#F8766D"/><rect x="314.27" y="151.69" width="1.94" height="1.94" rx="0.35" fill="#00BFC4"/><rect x="315.98" y="151.03" width="1.94" height="1.94" rx="0.35" fill="#00BFC4"/><rect x="318.34" y="150.11" width="1.94" height="1.94" rx="0.35" fill="#7CAE00"/><rect x="321.89" y="150.11" width="1.94" height="1.94" rx="0.35" fill="#F8766D"/><rect x="323.86" y="148.41" width="1.94" height="1.94" rx="0.35" fill="#00BFC4"/><rect x="325.83" y="149.06" width="1.94" height="1.94" rx="0.35" fill="#00BFC4"/><rect x="328.46" y="148.41" width="1.94" height="1.94" rx="0.35" fill="#7CAE00"/><rect x="330.43" y="149.06" width="1.94" height="1.94" rx="0.35" fill="#7CAE00"/><rect x="332.01" y="151.03" width="1.94" height="1.94" rx="0.35" fill="#00BFC4"/><rect x="333.72" y="152.34" width="1.94" height="1.94" rx="0.35" fill="#7CAE00"/><rect x="329.12" y="154.31" width="1.94" height="1.94" rx="0.35" fill="#F8766D"/><rect x="332.4" y="154.31" width="1.94" height="1.94" rx="0.35" fill="#00BFC4"/><rect x="334.11" y="155.62" width="1.94" height="1.94" rx="0.35" fill="#7CAE00"/><rect x="322.55" y="153.66" width="1.94" height="1.94" rx="0.35" fill="#00BFC4"/><rect x="325.18" y="154.97" width="1.94" height="1.94" rx="0.35" fill="#00BFC4"/><rect x="323.21" y="156.28" width="1.94" height="1.94" rx="0.35" fill="#00BFC4"/><rect x="317.69" y="155.62" width="1.94" height="1.94" rx="0.35" fill="#F8766D"/><rect x="315.98" y="154.97" width="1.94" height="1.94" rx="0.35" fill="#F8766D"/><rect x="313.35" y="154.31" width="1.94" height="1.94" rx="0.35" fill="#7CAE00"/><rect x="305.47" y="153.92" width="1.94" height="1.94" rx="0.35" fill="#00BFC4"/><rect x="303.89" y="155.62" width="1.94" height="1.94" rx="0.35" fill="#00BFC4"/><rect x="311.38" y="156.94" width="1.94" height="1.94" rx="0.35" fill="#7CAE00"/><rect x="301.53" y="157.85" width="1.94" height="1.94" rx="0.35" fill="#00BFC4"/><rect x="301.26" y="158.91" width="1.94" height="1.94" rx="0.35" fill="#7CAE00"/><rect x="305.73" y="159.56" width="1.94" height="1.94" rx="0.35" fill="#00BFC4"/><rect x="294.96" y="155.62" width="1.94" height="1.94" rx="0.35" fill="#7CAE00"/><rect x="295.22" y="157.33" width="1.94" height="1.94" rx="0.35" fill="#7CAE00"/><rect x="294.3" y="157.99" width="1.94" height="1.94" rx="0.35" fill="#7CAE00"/><rect x="274.99" y="155.89" width="1.94" height="1.94" rx="0.35" fill="#00BFC4"/><rect x="282.08" y="157.85" width="1.94" height="1.94" rx="0.35" fill="#F8766D"/><rect x="289.7" y="159.3" width="1.94" height="1.94" rx="0.35" fill="#F8766D"/><rect x="277.61" y="161.92" width="1.94" height="1.94" rx="0.35" fill="#F8766D"/><rect x="292.33" y="162.58" width="1.94" height="1.94" rx="0.35" fill="#7CAE00"/><rect x="296.93" y="162.19" width="1.94" height="1.94" rx="0.35" fill="#7CAE00"/><rect x="327.8" y="158.91" width="1.94" height="1.94" rx="0.35" fill="#00BFC4"/><rect x="330.43" y="157.99" width="1.94" height="1.94" rx="0.35" fill="#00BFC4"/><rect x="253.57" y="164.68" width="1.94" height="1.94" rx="0.35" fill="#00BFC4"/><rect x="367.88" y="109.29" width="1.94" height="1.94" rx="0.35" fill="#C77CFF"/><rect x="339.89" y="114.81" width="1.94" height="1.94" rx="0.35" fill="#00BFC4"/><rect x="376.15" y="118.22" width="1.94" height="1.94" rx="0.35" fill="#C77CFF"/><rect x="361.96" y="121.11" width="1.94" height="1.94" rx="0.35" fill="#C77CFF"/><rect x="366.04" y="126.62" width="1.94" height="1.94" rx="0.35" fill="#00BFC4"/><rect x="337" y="130.69" width="1.94" height="1.94" rx="0.35" fill="#F8766D"/><rect x="353.03" y="131.08" width="1.94" height="1.94" rx="0.35" fill="#00BFC4"/><rect x="338.58" y="133.97" width="1.94" height="1.94" rx="0.35" fill="#00BFC4"/><rect x="376.15" y="133.71" width="1.94" height="1.94" rx="0.35" fill="#C77CFF"/><rect x="377.07" y="132.92" width="1.94" height="1.94" rx="0.35" fill="#C77CFF"/><rect x="356.31" y="135.28" width="1.94" height="1.94" rx="0.35" fill="#00BFC4"/><rect x="356.71" y="136.99" width="1.94" height="1.94" rx="0.35" fill="#00BFC4"/><rect x="357.1" y="138.56" width="1.94" height="1.94" rx="0.35" fill="#00BFC4"/><rect x="346.85" y="138.56" width="1.94" height="1.94" rx="0.35" fill="#C77CFF"/><rect x="340.02" y="139.22" width="1.94" height="1.94" rx="0.35" fill="#7CAE00"/><rect x="341.86" y="141.19" width="1.94" height="1.94" rx="0.35" fill="#7CAE00"/><rect x="345.8" y="140.79" width="1.94" height="1.94" rx="0.35" fill="#F8766D"/><rect x="337.66" y="141.19" width="1.94" height="1.94" rx="0.35" fill="#00BFC4"/><rect x="351.19" y="140.79" width="1.94" height="1.94" rx="0.35" fill="#C77CFF"/><rect x="352.77" y="139.48" width="1.94" height="1.94" rx="0.35" fill="#00BFC4"/><rect x="358.94" y="141.19" width="1.94" height="1.94" rx="0.35" fill="#00BFC4"/><rect x="372.21" y="140.14" width="1.94" height="1.94" rx="0.35" fill="#C77CFF"/><rect x="369.19" y="140.92" width="1.94" height="1.94" rx="0.35" fill="#00BFC4"/><rect x="335.42" y="142.1" width="1.94" height="1.94" rx="0.35" fill="#00BFC4"/><rect x="338.31" y="143.42" width="1.94" height="1.94" rx="0.35" fill="#00BFC4"/><rect x="344.23" y="143.42" width="1.94" height="1.94" rx="0.35" fill="#7CAE00"/><rect x="335.42" y="145.12" width="1.94" height="1.94" rx="0.35" fill="#00BFC4"/><rect x="339.63" y="144.21" width="1.94" height="1.94" rx="0.35" fill="#F8766D"/><rect x="342.26" y="145.78" width="1.94" height="1.94" rx="0.35" fill="#7CAE00"/><rect x="340.29" y="147.09" width="1.94" height="1.94" rx="0.35" fill="#00BFC4"/><rect x="337.39" y="148.14" width="1.94" height="1.94" rx="0.35" fill="#C77CFF"/><rect x="344.88" y="148.41" width="1.94" height="1.94" rx="0.35" fill="#7CAE00"/><rect x="343.57" y="149.06" width="1.94" height="1.94" rx="0.35" fill="#00BFC4"/><rect x="347.51" y="146.44" width="1.94" height="1.94" rx="0.35" fill="#00BFC4"/><rect x="350.53" y="146.44" width="1.94" height="1.94" rx="0.35" fill="#7CAE00"/><rect x="348.83" y="147.49" width="1.94" height="1.94" rx="0.35" fill="#00BFC4"/><rect x="359.34" y="147.35" width="1.94" height="1.94" rx="0.35" fill="#00BFC4"/><rect x="356.05" y="145.12" width="1.94" height="1.94" rx="0.35" fill="#00BFC4"/><rect x="356.71" y="146.04" width="1.94" height="1.94" rx="0.35" fill="#C77CFF"/><rect x="369.19" y="144.86" width="1.94" height="1.94" rx="0.35" fill="#00BFC4"/><rect x="374.71" y="145.12" width="1.94" height="1.94" rx="0.35" fill="#00BFC4"/><rect x="379.96" y="141.84" width="1.94" height="1.94" rx="0.35" fill="#00BFC4"/><rect x="388.9" y="141.58" width="1.94" height="1.94" rx="0.35" fill="#00BFC4"/><rect x="400.33" y="144.73" width="1.94" height="1.94" rx="0.35" fill="#C77CFF"/><rect x="416.75" y="143.16" width="1.94" height="1.94" rx="0.35" fill="#00BFC4"/><rect x="364.99" y="149.06" width="1.94" height="1.94" rx="0.35" fill="#7CAE00"/><rect x="367.88" y="149.06" width="1.94" height="1.94" rx="0.35" fill="#00BFC4"/><rect x="371.16" y="149.32" width="1.94" height="1.94" rx="0.35" fill="#00BFC4"/><rect x="370.24" y="151.03" width="1.94" height="1.94" rx="0.35" fill="#7CAE00"/><rect x="379.44" y="149.06" width="1.94" height="1.94" rx="0.35" fill="#00BFC4"/><rect x="387.98" y="148.41" width="1.94" height="1.94" rx="0.35" fill="#00BFC4"/><rect x="353.42" y="148.8" width="1.94" height="1.94" rx="0.35" fill="#00BFC4"/><rect x="356.05" y="148.8" width="1.94" height="1.94" rx="0.35" fill="#00BFC4"/><rect x="335.95" y="151.03" width="1.94" height="1.94" rx="0.35" fill="#F8766D"/><rect x="346.46" y="151.29" width="1.94" height="1.94" rx="0.35" fill="#00BFC4"/><rect x="350.8" y="151.69" width="1.94" height="1.94" rx="0.35" fill="#F8766D"/><rect x="350.14" y="150.77" width="1.94" height="1.94" rx="0.35" fill="#7CAE00"/><rect x="359.07" y="151.03" width="1.94" height="1.94" rx="0.35" fill="#C77CFF"/><rect x="341.86" y="152.08" width="1.94" height="1.94" rx="0.35" fill="#F8766D"/><rect x="343.57" y="152.74" width="1.94" height="1.94" rx="0.35" fill="#7CAE00"/><rect x="340.02" y="152.74" width="1.94" height="1.94" rx="0.35" fill="#00BFC4"/><rect x="337" y="153" width="1.94" height="1.94" rx="0.35" fill="#7CAE00"/><rect x="338.97" y="154.97" width="1.94" height="1.94" rx="0.35" fill="#00BFC4"/><rect x="342.26" y="154.31" width="1.94" height="1.94" rx="0.35" fill="#00BFC4"/><rect x="353.82" y="153" width="1.94" height="1.94" rx="0.35" fill="#C77CFF"/><rect x="352.77" y="153.66" width="1.94" height="1.94" rx="0.35" fill="#00BFC4"/><rect x="354.74" y="154.97" width="1.94" height="1.94" rx="0.35" fill="#7CAE00"/><rect x="358.68" y="154.97" width="1.94" height="1.94" rx="0.35" fill="#7CAE00"/><rect x="361.96" y="155.89" width="1.94" height="1.94" rx="0.35" fill="#7CAE00"/><rect x="374.45" y="153" width="1.94" height="1.94" rx="0.35" fill="#00BFC4"/><rect x="377.99" y="154.71" width="1.94" height="1.94" rx="0.35" fill="#00BFC4"/><rect x="379.96" y="153.66" width="1.94" height="1.94" rx="0.35" fill="#7CAE00"/><rect x="383.25" y="154.05" width="1.94" height="1.94" rx="0.35" fill="#7CAE00"/><rect x="381.67" y="157.2" width="1.94" height="1.94" rx="0.35" fill="#7CAE00"/><rect x="387.58" y="155.62" width="1.94" height="1.94" rx="0.35" fill="#7CAE00"/><rect x="366.56" y="154.97" width="1.94" height="1.94" rx="0.35" fill="#F8766D"/><rect x="366.96" y="156.02" width="1.94" height="1.94" rx="0.35" fill="#00BFC4"/><rect x="367.22" y="157.99" width="1.94" height="1.94" rx="0.35" fill="#F8766D"/><rect x="369.85" y="159.17" width="1.94" height="1.94" rx="0.35" fill="#7CAE00"/><rect x="353.03" y="156.94" width="1.94" height="1.94" rx="0.35" fill="#00BFC4"/><rect x="349.48" y="156.54" width="1.94" height="1.94" rx="0.35" fill="#7CAE00"/><rect x="344.23" y="156.94" width="1.94" height="1.94" rx="0.35" fill="#7CAE00"/><rect x="335.42" y="156.54" width="1.94" height="1.94" rx="0.35" fill="#7CAE00"/><rect x="352.11" y="159.3" width="1.94" height="1.94" rx="0.35" fill="#00BFC4"/><rect x="357.76" y="161.14" width="1.94" height="1.94" rx="0.35" fill="#00BFC4"/><rect x="337.92" y="160.61" width="1.94" height="1.94" rx="0.35" fill="#7CAE00"/><rect x="363.28" y="21.12" width="1.94" height="1.94" rx="0.35" fill="#C77CFF"/><rect x="375.63" y="69.4" width="1.94" height="1.94" rx="0.35" fill="#00BFC4"/><rect x="347.51" y="89.87" width="1.94" height="1.94" rx="0.35" fill="#C77CFF"/><rect x="319.13" y="105.62" width="1.94" height="1.94" rx="0.35" fill="#00BFC4"/><rect x="329.12" y="105.09" width="1.94" height="1.94" rx="0.35" fill="#C77CFF"/></g>
<polygon points="255,148.7 257.76,148.62 260.51,148.54 263.27,148.46 266.02,148.38 268.78,148.3 271.54,148.22 274.29,148.14 277.05,148.06 279.8,147.97 282.56,147.89 285.32,147.8 288.07,147.71 290.83,147.62 293.58,147.52 296.34,147.42 299.09,147.32 301.85,147.21 304.61,147.1 307.36,146.98 310.12,146.86 312.87,146.72 315.63,146.57 318.39,146.41 321.14,146.23 323.9,146.03 326.65,145.82 329.41,145.58 332.17,145.32 334.92,145.05 337.68,144.76 340.43,144.45 343.19,144.14 345.95,143.81 348.7,143.48 351.46,143.13 354.21,142.79 356.97,142.43 359.73,142.07 362.48,141.71 365.24,141.34 367.99,140.97 370.75,140.6 373.51,140.23 376.26,139.85 379.02,139.47 381.77,139.09 384.53,138.71 387.28,138.33 390.04,137.95 392.8,137.57 395.55,137.19 398.31,136.8 401.06,136.42 403.82,136.03 406.58,135.65 409.33,135.26 412.09,134.87 414.84,134.49 417.6,134.1 417.6,144.3 414.84,144.39 412.09,144.49 409.33,144.58 406.58,144.68 403.82,144.77 401.06,144.87 398.31,144.97 395.55,145.06 392.8,145.16 390.04,145.26 387.28,145.36 384.53,145.46 381.77,145.56 379.02,145.67 376.26,145.77 373.51,145.88 370.75,145.98 367.99,146.09 365.24,146.2 362.48,146.32 359.73,146.44 356.97,146.56 354.21,146.69 351.46,146.82 348.7,146.96 345.95,147.1 343.19,147.26 340.43,147.42 337.68,147.6 334.92,147.79 332.17,148 329.41,148.23 326.65,148.47 323.9,148.73 321.14,149.02 318.39,149.32 315.63,149.64 312.87,149.97 310.12,150.32 307.36,150.67 304.61,151.03 301.85,151.4 299.09,151.78 296.34,152.16 293.58,152.54 290.83,152.93 288.07,153.32 285.32,153.71 282.56,154.1 279.8,154.5 277.05,154.89 274.29,155.29 271.54,155.69 268.78,156.09 266.02,156.49 263.27,156.89 260.51,157.29 257.76,157.7 255,158.1" fill="#999999" fill-opacity="0.4"/>
<line x1="255" y1="153.4" x2="417.6" y2="139.2" stroke="#3366FF" stroke-width="1.2"/>
<text x="419.2" y="26.2" font-size="8.05" font-weight="bold" text-anchor="end" fill="#000" stroke="#000" stroke-width="0.05" font-family="Liberation Sans, sans-serif">r = 0.18, P = 0.003</text>
<text x="335.65" y="192.9" font-size="11.2" font-weight="bold" text-anchor="middle" fill="#000" stroke="#000" stroke-width="0.28" font-family="Liberation Sans, sans-serif">Adjusted IgjuxWMH</text>
<text transform="translate(228.1,93.8) rotate(-90)" font-size="11.2" font-weight="bold" text-anchor="middle" fill="#000" stroke="#000" stroke-width="0.28" font-family="Liberation Sans, sans-serif">Adjusted Executive</text>
<text x="226" y="10.7" font-size="14.8" font-weight="bold" fill="#000" stroke="#000" stroke-width="0.18" font-family="Liberation Sans, sans-serif">B</text>
<rect x="457" y="15" width="183.6" height="157.7" fill="#EBEBEB"/>
<line x1="470.1" y1="15" x2="470.1" y2="172.7" stroke="#F0F0F0" stroke-width="0.8"/>
<line x1="518.9" y1="15" x2="518.9" y2="172.7" stroke="#F0F0F0" stroke-width="0.8"/>
<line x1="567.7" y1="15" x2="567.7" y2="172.7" stroke="#F0F0F0" stroke-width="0.8"/>
<line x1="616.5" y1="15" x2="616.5" y2="172.7" stroke="#F0F0F0" stroke-width="0.8"/>
<line x1="457" y1="163.25" x2="640.6" y2="163.25" stroke="#F0F0F0" stroke-width="0.8"/>
<line x1="457" y1="131.15" x2="640.6" y2="131.15" stroke="#F0F0F0" stroke-width="0.8"/>
<line x1="457" y1="99.05" x2="640.6" y2="99.05" stroke="#F0F0F0" stroke-width="0.8"/>
<line x1="457" y1="66.95" x2="640.6" y2="66.95" stroke="#F0F0F0" stroke-width="0.8"/>
<line x1="457" y1="34.85" x2="640.6" y2="34.85" stroke="#F0F0F0" stroke-width="0.8"/>
<line x1="494.5" y1="15" x2="494.5" y2="172.7" stroke="#F4F4F4" stroke-width="1.1"/>
<line x1="543.3" y1="15" x2="543.3" y2="172.7" stroke="#F4F4F4" stroke-width="1.1"/>
<line x1="592.1" y1="15" x2="592.1" y2="172.7" stroke="#F4F4F4" stroke-width="1.1"/>
<line x1="640.9" y1="15" x2="640.9" y2="172.7" stroke="#F4F4F4" stroke-width="1.1"/>
<line x1="457" y1="147.2" x2="640.6" y2="147.2" stroke="#F4F4F4" stroke-width="1.1"/>
<line x1="457" y1="115.1" x2="640.6" y2="115.1" stroke="#F4F4F4" stroke-width="1.1"/>
<line x1="457" y1="83" x2="640.6" y2="83" stroke="#F4F4F4" stroke-width="1.1"/>
<line x1="457" y1="50.9" x2="640.6" y2="50.9" stroke="#F4F4F4" stroke-width="1.1"/>
<line x1="457" y1="18.8" x2="640.6" y2="18.8" stroke="#F4F4F4" stroke-width="1.1"/>
<line x1="494.5" y1="172.7" x2="494.5" y2="174.7" stroke="#777" stroke-width="0.7"/>
<text x="494.5" y="182.1" font-size="9.4" fill="#4D4D4D" stroke="#4D4D4D" stroke-width="0.5" text-anchor="middle" font-family="Liberation Sans, sans-serif">-0.4</text>
<line x1="543.3" y1="172.7" x2="543.3" y2="174.7" stroke="#777" stroke-width="0.7"/>
<text x="543.3" y="182.1" font-size="9.4" fill="#4D4D4D" stroke="#4D4D4D" stroke-width="0.5" text-anchor="middle" font-family="Liberation Sans, sans-serif">0.0</text>
<line x1="592.1" y1="172.7" x2="592.1" y2="174.7" stroke="#777" stroke-width="0.7"/>
<text x="592.1" y="182.1" font-size="9.4" fill="#4D4D4D" stroke="#4D4D4D" stroke-width="0.5" text-anchor="middle" font-family="Liberation Sans, sans-serif">0.4</text>
<line x1="640.9" y1="172.7" x2="640.9" y2="174.7" stroke="#777" stroke-width="0.7"/>
<text x="640.9" y="182.1" font-size="9.4" fill="#4D4D4D" stroke="#4D4D4D" stroke-width="0.5" text-anchor="middle" font-family="Liberation Sans, sans-serif">0.8</text>
<line x1="455" y1="147.2" x2="457" y2="147.2" stroke="#777" stroke-width="0.7"/>
<text x="454.8" y="150.5" font-size="9.4" fill="#4D4D4D" stroke="#4D4D4D" stroke-width="0.5" text-anchor="end" font-family="Liberation Sans, sans-serif">-2</text>
<line x1="455" y1="115.1" x2="457" y2="115.1" stroke="#777" stroke-width="0.7"/>
<text x="454.8" y="118.4" font-size="9.4" fill="#4D4D4D" stroke="#4D4D4D" stroke-width="0.5" text-anchor="end" font-family="Liberation Sans, sans-serif">-&#8199;</text><path transform="translate(449.57,118.4) scale(9.4)" d="M0.283,0L0.373,0L0.373,-0.716L0.315,-0.716C0.29,-0.65 0.22,-0.57 0.109,-0.52L0.109,-0.445C0.18,-0.47 0.24,-0.51 0.283,-0.55Z" fill="#4D4D4D" stroke="#4D4D4D" stroke-width="0.0532"/>
<line x1="455" y1="83" x2="457" y2="83" stroke="#777" stroke-width="0.7"/>
<text x="454.8" y="86.3" font-size="9.4" fill="#4D4D4D" stroke="#4D4D4D" stroke-width="0.5" text-anchor="end" font-family="Liberation Sans, sans-serif">0</text>
<line x1="455" y1="50.9" x2="457" y2="50.9" stroke="#777" stroke-width="0.7"/>
<text x="454.8" y="54.2" font-size="9.4" fill="#4D4D4D" stroke="#4D4D4D" stroke-width="0.5" text-anchor="end" font-family="Liberation Sans, sans-serif">&#8199;</text><path transform="translate(449.57,54.2) scale(9.4)" d="M0.283,0L0.373,0L0.373,-0.716L0.315,-0.716C0.29,-0.65 0.22,-0.57 0.109,-0.52L0.109,-0.445C0.18,-0.47 0.24,-0.51 0.283,-0.55Z" fill="#4D4D4D" stroke="#4D4D4D" stroke-width="0.0532"/>
<line x1="455" y1="18.8" x2="457" y2="18.8" stroke="#777" stroke-width="0.7"/>
<text x="454.8" y="22.1" font-size="9.4" fill="#4D4D4D" stroke="#4D4D4D" stroke-width="0.5" text-anchor="end" font-family="Liberation Sans, sans-serif">2</text>
<g><rect x="497.93" y="95.05" width="1.94" height="1.94" rx="0.35" fill="#00BFC4"/><rect x="498.07" y="96.79" width="1.94" height="1.94" rx="0.35" fill="#00BFC4"/><rect x="501.02" y="93.43" width="1.94" height="1.94" rx="0.35" fill="#00BFC4"/><rect x="503.98" y="95.18" width="1.94" height="1.94" rx="0.35" fill="#C77CFF"/><rect x="505.99" y="93.7" width="1.94" height="1.94" rx="0.35" fill="#00BFC4"/><rect x="518.48" y="95.18" width="1.94" height="1.94" rx="0.35" fill="#00BFC4"/><rect x="524.79" y="97.06" width="1.94" height="1.94" rx="0.35" fill="#7CAE00"/><rect x="525.87" y="98.14" width="1.94" height="1.94" rx="0.35" fill="#7CAE00"/><rect x="526.94" y="96.39" width="1.94" height="1.94" rx="0.35" fill="#F8766D"/><rect x="527.88" y="95.72" width="1.94" height="1.94" rx="0.35" fill="#7CAE00"/><rect x="532.85" y="94.1" width="1.94" height="1.94" rx="0.35" fill="#00BFC4"/><rect x="536.21" y="93.7" width="1.94" height="1.94" rx="0.35" fill="#F8766D"/><rect x="535" y="96.39" width="1.94" height="1.94" rx="0.35" fill="#F8766D"/><rect x="534.33" y="99.48" width="1.94" height="1.94" rx="0.35" fill="#00BFC4"/><rect x="539.97" y="95.99" width="1.94" height="1.94" rx="0.35" fill="#00BFC4"/><rect x="541.72" y="95.99" width="1.94" height="1.94" rx="0.35" fill="#00BFC4"/><rect x="544" y="93.7" width="1.94" height="1.94" rx="0.35" fill="#00BFC4"/><rect x="547.36" y="95.72" width="1.94" height="1.94" rx="0.35" fill="#7CAE00"/><rect x="543.6" y="99.75" width="1.94" height="1.94" rx="0.35" fill="#00BFC4"/><rect x="546.28" y="99.08" width="1.94" height="1.94" rx="0.35" fill="#7CAE00"/><rect x="503.71" y="101.36" width="1.94" height="1.94" rx="0.35" fill="#00BFC4"/><rect x="518.89" y="102.84" width="1.94" height="1.94" rx="0.35" fill="#00BFC4"/><rect x="530.84" y="102.03" width="1.94" height="1.94" rx="0.35" fill="#00BFC4"/><rect x="530.84" y="106.06" width="1.94" height="1.94" rx="0.35" fill="#7CAE00"/><rect x="535.94" y="106.2" width="1.94" height="1.94" rx="0.35" fill="#00BFC4"/><rect x="538.9" y="104.45" width="1.94" height="1.94" rx="0.35" fill="#00BFC4"/><rect x="505.99" y="106.6" width="1.94" height="1.94" rx="0.35" fill="#C77CFF"/><rect x="508.81" y="105.79" width="1.94" height="1.94" rx="0.35" fill="#00BFC4"/><rect x="530.84" y="110.9" width="1.94" height="1.94" rx="0.35" fill="#00BFC4"/><rect x="530.84" y="113.32" width="1.94" height="1.94" rx="0.35" fill="#C77CFF"/><rect x="541.99" y="114.12" width="1.94" height="1.94" rx="0.35" fill="#C77CFF"/><rect x="544" y="115.2" width="1.94" height="1.94" rx="0.35" fill="#00BFC4"/><rect x="547.36" y="116.94" width="1.94" height="1.94" rx="0.35" fill="#00BFC4"/><rect x="514.18" y="115.33" width="1.94" height="1.94" rx="0.35" fill="#00BFC4"/><rect x="517.14" y="119.36" width="1.94" height="1.94" rx="0.35" fill="#00BFC4"/><rect x="543.06" y="118.56" width="1.94" height="1.94" rx="0.35" fill="#C77CFF"/><rect x="544.67" y="118.29" width="1.94" height="1.94" rx="0.35" fill="#00BFC4"/><rect x="530.97" y="123.66" width="1.94" height="1.94" rx="0.35" fill="#00BFC4"/><rect x="546.96" y="127.02" width="1.94" height="1.94" rx="0.35" fill="#C77CFF"/><rect x="544.4" y="130.65" width="1.94" height="1.94" rx="0.35" fill="#00BFC4"/><rect x="544.67" y="133.07" width="1.94" height="1.94" rx="0.35" fill="#C77CFF"/><rect x="524.66" y="135.22" width="1.94" height="1.94" rx="0.35" fill="#00BFC4"/><rect x="537.29" y="139.11" width="1.94" height="1.94" rx="0.35" fill="#C77CFF"/><rect x="548.43" y="95.05" width="1.94" height="1.94" rx="0.35" fill="#7CAE00"/><rect x="550.04" y="95.72" width="1.94" height="1.94" rx="0.35" fill="#C77CFF"/><rect x="553.13" y="95.05" width="1.94" height="1.94" rx="0.35" fill="#00BFC4"/><rect x="557.03" y="93.7" width="1.94" height="1.94" rx="0.35" fill="#7CAE00"/><rect x="565.49" y="95.31" width="1.94" height="1.94" rx="0.35" fill="#00BFC4"/><rect x="568.85" y="93.43" width="1.94" height="1.94" rx="0.35" fill="#00BFC4"/><rect x="575.97" y="93.7" width="1.94" height="1.94" rx="0.35" fill="#00BFC4"/><rect x="593.96" y="93.43" width="1.94" height="1.94" rx="0.35" fill="#00BFC4"/><rect x="615.85" y="93.7" width="1.94" height="1.94" rx="0.35" fill="#C77CFF"/><rect x="569.25" y="97.73" width="1.94" height="1.94" rx="0.35" fill="#00BFC4"/><rect x="573.82" y="97.06" width="1.94" height="1.94" rx="0.35" fill="#C77CFF"/><rect x="573.95" y="98.67" width="1.94" height="1.94" rx="0.35" fill="#00BFC4"/><rect x="555.82" y="101.9" width="1.94" height="1.94" rx="0.35" fill="#00BFC4"/><rect x="559.45" y="102.17" width="1.94" height="1.94" rx="0.35" fill="#F8766D"/><rect x="559.18" y="103.11" width="1.94" height="1.94" rx="0.35" fill="#7CAE00"/><rect x="550.98" y="104.18" width="1.94" height="1.94" rx="0.35" fill="#7CAE00"/><rect x="563.74" y="104.72" width="1.94" height="1.94" rx="0.35" fill="#00BFC4"/><rect x="576.91" y="104.18" width="1.94" height="1.94" rx="0.35" fill="#C77CFF"/><rect x="586.04" y="104.45" width="1.94" height="1.94" rx="0.35" fill="#00BFC4"/><rect x="587.92" y="104.05" width="1.94" height="1.94" rx="0.35" fill="#C77CFF"/><rect x="588.99" y="101.09" width="1.94" height="1.94" rx="0.35" fill="#00BFC4"/><rect x="616.26" y="106.06" width="1.94" height="1.94" rx="0.35" fill="#C77CFF"/><rect x="631.7" y="105.12" width="1.94" height="1.94" rx="0.35" fill="#00BFC4"/><rect x="571.13" y="107.41" width="1.94" height="1.94" rx="0.35" fill="#C77CFF"/><rect x="548.7" y="110.9" width="1.94" height="1.94" rx="0.35" fill="#00BFC4"/><rect x="568.85" y="110.76" width="1.94" height="1.94" rx="0.35" fill="#00BFC4"/><rect x="569.92" y="113.85" width="1.94" height="1.94" rx="0.35" fill="#00BFC4"/><rect x="582.95" y="110.09" width="1.94" height="1.94" rx="0.35" fill="#C77CFF"/><rect x="589.67" y="110.09" width="1.94" height="1.94" rx="0.35" fill="#00BFC4"/><rect x="548.43" y="116.94" width="1.94" height="1.94" rx="0.35" fill="#00BFC4"/><rect x="578.92" y="114.8" width="1.94" height="1.94" rx="0.35" fill="#00BFC4"/><rect x="586.31" y="116.81" width="1.94" height="1.94" rx="0.35" fill="#00BFC4"/><rect x="582.95" y="119.63" width="1.94" height="1.94" rx="0.35" fill="#00BFC4"/><rect x="588.59" y="119.09" width="1.94" height="1.94" rx="0.35" fill="#C77CFF"/><rect x="590.07" y="119.5" width="1.94" height="1.94" rx="0.35" fill="#00BFC4"/><rect x="597.05" y="118.69" width="1.94" height="1.94" rx="0.35" fill="#C77CFF"/><rect x="553" y="123.93" width="1.94" height="1.94" rx="0.35" fill="#00BFC4"/><rect x="550.31" y="126.35" width="1.94" height="1.94" rx="0.35" fill="#C77CFF"/><rect x="564.55" y="127.83" width="1.94" height="1.94" rx="0.35" fill="#00BFC4"/><rect x="557.16" y="129.44" width="1.94" height="1.94" rx="0.35" fill="#C77CFF"/><rect x="581.61" y="129.84" width="1.94" height="1.94" rx="0.35" fill="#C77CFF"/><rect x="559.45" y="133.6" width="1.94" height="1.94" rx="0.35" fill="#C77CFF"/><rect x="578.65" y="134.81" width="1.94" height="1.94" rx="0.35" fill="#C77CFF"/><rect x="561.06" y="140.46" width="1.94" height="1.94" rx="0.35" fill="#C77CFF"/><rect x="591.95" y="142.74" width="1.94" height="1.94" rx="0.35" fill="#C77CFF"/><rect x="550.98" y="152.82" width="1.94" height="1.94" rx="0.35" fill="#C77CFF"/><rect x="585.64" y="159.94" width="1.94" height="1.94" rx="0.35" fill="#C77CFF"/><rect x="553" y="164.77" width="1.94" height="1.94" rx="0.35" fill="#C77CFF"/><rect x="497.93" y="21.02" width="1.94" height="1.94" rx="0.35" fill="#F8766D"/><rect x="505.99" y="21.82" width="1.94" height="1.94" rx="0.35" fill="#7CAE00"/><rect x="464.49" y="31.9" width="1.94" height="1.94" rx="0.35" fill="#00BFC4"/><rect x="493.64" y="31.5" width="1.94" height="1.94" rx="0.35" fill="#F8766D"/><rect x="503.98" y="30.42" width="1.94" height="1.94" rx="0.35" fill="#7CAE00"/><rect x="504.38" y="34.45" width="1.94" height="1.94" rx="0.35" fill="#7CAE00"/><rect x="501.43" y="39.29" width="1.94" height="1.94" rx="0.35" fill="#F8766D"/><rect x="503.04" y="41.98" width="1.94" height="1.94" rx="0.35" fill="#F8766D"/><rect x="502.1" y="43.59" width="1.94" height="1.94" rx="0.35" fill="#F8766D"/><rect x="499.28" y="43.86" width="1.94" height="1.94" rx="0.35" fill="#00BFC4"/><rect x="511.36" y="42.51" width="1.94" height="1.94" rx="0.35" fill="#7CAE00"/><rect x="508.01" y="45.6" width="1.94" height="1.94" rx="0.35" fill="#7CAE00"/><rect x="514.05" y="45.6" width="1.94" height="1.94" rx="0.35" fill="#00BFC4"/><rect x="503.04" y="47.62" width="1.94" height="1.94" rx="0.35" fill="#7CAE00"/><rect x="486.65" y="47.35" width="1.94" height="1.94" rx="0.35" fill="#F8766D"/><rect x="528.56" y="38.48" width="1.94" height="1.94" rx="0.35" fill="#7CAE00"/><rect x="530.97" y="38.21" width="1.94" height="1.94" rx="0.35" fill="#00BFC4"/><rect x="530.97" y="47.62" width="1.94" height="1.94" rx="0.35" fill="#F8766D"/><rect x="536.35" y="49.63" width="1.94" height="1.94" rx="0.35" fill="#00BFC4"/><rect x="537.96" y="50.04" width="1.94" height="1.94" rx="0.35" fill="#7CAE00"/><rect x="499.95" y="52.72" width="1.94" height="1.94" rx="0.35" fill="#00BFC4"/><rect x="485.17" y="53.26" width="1.94" height="1.94" rx="0.35" fill="#7CAE00"/><rect x="484.91" y="54.07" width="1.94" height="1.94" rx="0.35" fill="#7CAE00"/><rect x="514.05" y="55.68" width="1.94" height="1.94" rx="0.35" fill="#00BFC4"/><rect x="514.05" y="55.01" width="1.94" height="1.94" rx="0.35" fill="#7CAE00"/><rect x="523.59" y="52.99" width="1.94" height="1.94" rx="0.35" fill="#7CAE00"/><rect x="532.99" y="52.72" width="1.94" height="1.94" rx="0.35" fill="#7CAE00"/><rect x="528.15" y="56.75" width="1.94" height="1.94" rx="0.35" fill="#7CAE00"/><rect x="533.93" y="57.02" width="1.94" height="1.94" rx="0.35" fill="#7CAE00"/><rect x="541.72" y="54.6" width="1.94" height="1.94" rx="0.35" fill="#00BFC4"/><rect x="545.75" y="54.74" width="1.94" height="1.94" rx="0.35" fill="#00BFC4"/><rect x="547.36" y="56.08" width="1.94" height="1.94" rx="0.35" fill="#F8766D"/><rect x="488.26" y="58.77" width="1.94" height="1.94" rx="0.35" fill="#00BFC4"/><rect x="495.25" y="62.4" width="1.94" height="1.94" rx="0.35" fill="#F8766D"/><rect x="524.93" y="61.32" width="1.94" height="1.94" rx="0.35" fill="#7CAE00"/><rect x="529.63" y="61.32" width="1.94" height="1.94" rx="0.35" fill="#7CAE00"/><rect x="530.97" y="61.05" width="1.94" height="1.94" rx="0.35" fill="#7CAE00"/><rect x="526.94" y="62.4" width="1.94" height="1.94" rx="0.35" fill="#F8766D"/><rect x="538.23" y="62.13" width="1.94" height="1.94" rx="0.35" fill="#7CAE00"/><rect x="546.02" y="62.67" width="1.94" height="1.94" rx="0.35" fill="#F8766D"/><rect x="547.36" y="59.71" width="1.94" height="1.94" rx="0.35" fill="#7CAE00"/><rect x="476.18" y="66.83" width="1.94" height="1.94" rx="0.35" fill="#7CAE00"/><rect x="490.01" y="66.83" width="1.94" height="1.94" rx="0.35" fill="#7CAE00"/><rect x="506.13" y="65.35" width="1.94" height="1.94" rx="0.35" fill="#7CAE00"/><rect x="511.1" y="64.41" width="1.94" height="1.94" rx="0.35" fill="#F8766D"/><rect x="512.17" y="65.08" width="1.94" height="1.94" rx="0.35" fill="#7CAE00"/><rect x="517.14" y="65.49" width="1.94" height="1.94" rx="0.35" fill="#F8766D"/><rect x="520.23" y="64.01" width="1.94" height="1.94" rx="0.35" fill="#00BFC4"/><rect x="514.86" y="66.43" width="1.94" height="1.94" rx="0.35" fill="#7CAE00"/><rect x="514.05" y="67.77" width="1.94" height="1.94" rx="0.35" fill="#00BFC4"/><rect x="523.18" y="67.37" width="1.94" height="1.94" rx="0.35" fill="#F8766D"/><rect x="529.23" y="66.7" width="1.94" height="1.94" rx="0.35" fill="#00BFC4"/><rect x="532.58" y="64.41" width="1.94" height="1.94" rx="0.35" fill="#7CAE00"/><rect x="535.94" y="66.02" width="1.94" height="1.94" rx="0.35" fill="#00BFC4"/><rect x="545.34" y="64.82" width="1.94" height="1.94" rx="0.35" fill="#7CAE00"/><rect x="546.69" y="67.77" width="1.94" height="1.94" rx="0.35" fill="#7CAE00"/><rect x="540.64" y="70.73" width="1.94" height="1.94" rx="0.35" fill="#00BFC4"/><rect x="537.02" y="71.13" width="1.94" height="1.94" rx="0.35" fill="#C77CFF"/><rect x="541.05" y="72.88" width="1.94" height="1.94" rx="0.35" fill="#F8766D"/><rect x="544.67" y="71.8" width="1.94" height="1.94" rx="0.35" fill="#00BFC4"/><rect x="544" y="73.41" width="1.94" height="1.94" rx="0.35" fill="#00BFC4"/><rect x="542.66" y="74.76" width="1.94" height="1.94" rx="0.35" fill="#7CAE00"/><rect x="495.25" y="71.53" width="1.94" height="1.94" rx="0.35" fill="#7CAE00"/><rect x="495.38" y="72.21" width="1.94" height="1.94" rx="0.35" fill="#00BFC4"/><rect x="501.96" y="70.46" width="1.94" height="1.94" rx="0.35" fill="#7CAE00"/><rect x="508.14" y="71.13" width="1.94" height="1.94" rx="0.35" fill="#7CAE00"/><rect x="511.1" y="70.73" width="1.94" height="1.94" rx="0.35" fill="#7CAE00"/><rect x="508.01" y="74.09" width="1.94" height="1.94" rx="0.35" fill="#7CAE00"/><rect x="521.84" y="73.55" width="1.94" height="1.94" rx="0.35" fill="#F8766D"/><rect x="524.26" y="74.49" width="1.94" height="1.94" rx="0.35" fill="#7CAE00"/><rect x="525.87" y="75.16" width="1.94" height="1.94" rx="0.35" fill="#00BFC4"/><rect x="527.21" y="76.24" width="1.94" height="1.94" rx="0.35" fill="#00BFC4"/><rect x="530.97" y="76.91" width="1.94" height="1.94" rx="0.35" fill="#7CAE00"/><rect x="535.27" y="74.76" width="1.94" height="1.94" rx="0.35" fill="#7CAE00"/><rect x="516.2" y="76.77" width="1.94" height="1.94" rx="0.35" fill="#00BFC4"/><rect x="511.1" y="77.85" width="1.94" height="1.94" rx="0.35" fill="#00BFC4"/><rect x="489.34" y="75.43" width="1.94" height="1.94" rx="0.35" fill="#00BFC4"/><rect x="487.99" y="79.46" width="1.94" height="1.94" rx="0.35" fill="#00BFC4"/><rect x="500.08" y="80.54" width="1.94" height="1.94" rx="0.35" fill="#00BFC4"/><rect x="505.32" y="80.8" width="1.94" height="1.94" rx="0.35" fill="#00BFC4"/><rect x="509.75" y="80.27" width="1.94" height="1.94" rx="0.35" fill="#7CAE00"/><rect x="523.18" y="79.19" width="1.94" height="1.94" rx="0.35" fill="#F8766D"/><rect x="535.94" y="79.86" width="1.94" height="1.94" rx="0.35" fill="#00BFC4"/><rect x="539.97" y="78.92" width="1.94" height="1.94" rx="0.35" fill="#00BFC4"/><rect x="537.96" y="79.86" width="1.94" height="1.94" rx="0.35" fill="#7CAE00"/><rect x="545.08" y="78.25" width="1.94" height="1.94" rx="0.35" fill="#00BFC4"/><rect x="547.36" y="77.18" width="1.94" height="1.94" rx="0.35" fill="#7CAE00"/><rect x="544.67" y="80.54" width="1.94" height="1.94" rx="0.35" fill="#7CAE00"/><rect x="488.26" y="83.49" width="1.94" height="1.94" rx="0.35" fill="#7CAE00"/><rect x="495.38" y="83.22" width="1.94" height="1.94" rx="0.35" fill="#00BFC4"/><rect x="519.56" y="84.57" width="1.94" height="1.94" rx="0.35" fill="#C77CFF"/><rect x="519.15" y="82.55" width="1.94" height="1.94" rx="0.35" fill="#00BFC4"/><rect x="520.5" y="83.22" width="1.94" height="1.94" rx="0.35" fill="#7CAE00"/><rect x="523.18" y="84.57" width="1.94" height="1.94" rx="0.35" fill="#00BFC4"/><rect x="521.84" y="85.24" width="1.94" height="1.94" rx="0.35" fill="#00BFC4"/><rect x="525.6" y="83.89" width="1.94" height="1.94" rx="0.35" fill="#7CAE00"/><rect x="525.6" y="85.24" width="1.94" height="1.94" rx="0.35" fill="#7CAE00"/><rect x="521.84" y="87.92" width="1.94" height="1.94" rx="0.35" fill="#00BFC4"/><rect x="528.56" y="86.58" width="1.94" height="1.94" rx="0.35" fill="#00BFC4"/><rect x="534.33" y="87.25" width="1.94" height="1.94" rx="0.35" fill="#00BFC4"/><rect x="537.29" y="88.6" width="1.94" height="1.94" rx="0.35" fill="#00BFC4"/><rect x="542.66" y="86.58" width="1.94" height="1.94" rx="0.35" fill="#7CAE00"/><rect x="543.06" y="88.19" width="1.94" height="1.94" rx="0.35" fill="#7CAE00"/><rect x="544" y="84.83" width="1.94" height="1.94" rx="0.35" fill="#F8766D"/><rect x="505.05" y="85.51" width="1.94" height="1.94" rx="0.35" fill="#7CAE00"/><rect x="510.42" y="87.92" width="1.94" height="1.94" rx="0.35" fill="#00BFC4"/><rect x="511.1" y="90.88" width="1.94" height="1.94" rx="0.35" fill="#F8766D"/><rect x="522.51" y="90.61" width="1.94" height="1.94" rx="0.35" fill="#00BFC4"/><rect x="527.21" y="91.28" width="1.94" height="1.94" rx="0.35" fill="#00BFC4"/><rect x="532.99" y="90.88" width="1.94" height="1.94" rx="0.35" fill="#7CAE00"/><rect x="501.02" y="92.63" width="1.94" height="1.94" rx="0.35" fill="#00BFC4"/><rect x="549.78" y="37.14" width="1.94" height="1.94" rx="0.35" fill="#F8766D"/><rect x="550.04" y="45.87" width="1.94" height="1.94" rx="0.35" fill="#00BFC4"/><rect x="552.06" y="47.62" width="1.94" height="1.94" rx="0.35" fill="#00BFC4"/><rect x="553.4" y="47.62" width="1.94" height="1.94" rx="0.35" fill="#00BFC4"/><rect x="559.04" y="46.54" width="1.94" height="1.94" rx="0.35" fill="#7CAE00"/><rect x="562.54" y="49.23" width="1.94" height="1.94" rx="0.35" fill="#7CAE00"/><rect x="579.99" y="45.87" width="1.94" height="1.94" rx="0.35" fill="#00BFC4"/><rect x="556.49" y="54.34" width="1.94" height="1.94" rx="0.35" fill="#00BFC4"/><rect x="556.49" y="56.35" width="1.94" height="1.94" rx="0.35" fill="#7CAE00"/><rect x="556.49" y="58.77" width="1.94" height="1.94" rx="0.35" fill="#F8766D"/><rect x="548.43" y="55.95" width="1.94" height="1.94" rx="0.35" fill="#F8766D"/><rect x="548.43" y="59.71" width="1.94" height="1.94" rx="0.35" fill="#7CAE00"/><rect x="549.78" y="61.73" width="1.94" height="1.94" rx="0.35" fill="#00BFC4"/><rect x="552.73" y="62.13" width="1.94" height="1.94" rx="0.35" fill="#00BFC4"/><rect x="555.82" y="64.01" width="1.94" height="1.94" rx="0.35" fill="#7CAE00"/><rect x="557.43" y="65.76" width="1.94" height="1.94" rx="0.35" fill="#F8766D"/><rect x="559.85" y="64.68" width="1.94" height="1.94" rx="0.35" fill="#F8766D"/><rect x="560.12" y="62.67" width="1.94" height="1.94" rx="0.35" fill="#7CAE00"/><rect x="562.13" y="64.68" width="1.94" height="1.94" rx="0.35" fill="#7CAE00"/><rect x="567.5" y="64.82" width="1.94" height="1.94" rx="0.35" fill="#00BFC4"/><rect x="572.21" y="64.68" width="1.94" height="1.94" rx="0.35" fill="#7CAE00"/><rect x="573.55" y="63.34" width="1.94" height="1.94" rx="0.35" fill="#C77CFF"/><rect x="548.7" y="69.12" width="1.94" height="1.94" rx="0.35" fill="#7CAE00"/><rect x="549.78" y="70.73" width="1.94" height="1.94" rx="0.35" fill="#7CAE00"/><rect x="553" y="69.38" width="1.94" height="1.94" rx="0.35" fill="#F8766D"/><rect x="554.75" y="67.5" width="1.94" height="1.94" rx="0.35" fill="#00BFC4"/><rect x="557.83" y="68.04" width="1.94" height="1.94" rx="0.35" fill="#7CAE00"/><rect x="563.88" y="69.52" width="1.94" height="1.94" rx="0.35" fill="#C77CFF"/><rect x="567.24" y="70.73" width="1.94" height="1.94" rx="0.35" fill="#7CAE00"/><rect x="570.59" y="68.44" width="1.94" height="1.94" rx="0.35" fill="#00BFC4"/><rect x="579.19" y="67.77" width="1.94" height="1.94" rx="0.35" fill="#F8766D"/><rect x="582.28" y="72.47" width="1.94" height="1.94" rx="0.35" fill="#00BFC4"/><rect x="593.02" y="73.15" width="1.94" height="1.94" rx="0.35" fill="#7CAE00"/><rect x="595.31" y="74.76" width="1.94" height="1.94" rx="0.35" fill="#7CAE00"/><rect x="599.74" y="72.07" width="1.94" height="1.94" rx="0.35" fill="#7CAE00"/><rect x="559.18" y="73.82" width="1.94" height="1.94" rx="0.35" fill="#00BFC4"/><rect x="559.45" y="74.76" width="1.94" height="1.94" rx="0.35" fill="#F8766D"/><rect x="565.89" y="74.09" width="1.94" height="1.94" rx="0.35" fill="#00BFC4"/><rect x="568.18" y="77.18" width="1.94" height="1.94" rx="0.35" fill="#00BFC4"/><rect x="569.52" y="77.44" width="1.94" height="1.94" rx="0.35" fill="#7CAE00"/><rect x="571.94" y="76.91" width="1.94" height="1.94" rx="0.35" fill="#7CAE00"/><rect x="576.91" y="75.83" width="1.94" height="1.94" rx="0.35" fill="#7CAE00"/><rect x="582.95" y="76.1" width="1.94" height="1.94" rx="0.35" fill="#7CAE00"/><rect x="586.04" y="75.16" width="1.94" height="1.94" rx="0.35" fill="#7CAE00"/><rect x="548.43" y="76.5" width="1.94" height="1.94" rx="0.35" fill="#7CAE00"/><rect x="553.13" y="77.44" width="1.94" height="1.94" rx="0.35" fill="#7CAE00"/><rect x="557.83" y="77.85" width="1.94" height="1.94" rx="0.35" fill="#7CAE00"/><rect x="559.45" y="79.19" width="1.94" height="1.94" rx="0.35" fill="#7CAE00"/><rect x="564.82" y="80.8" width="1.94" height="1.94" rx="0.35" fill="#00BFC4"/><rect x="566.16" y="78.79" width="1.94" height="1.94" rx="0.35" fill="#C77CFF"/><rect x="577.31" y="79.33" width="1.94" height="1.94" rx="0.35" fill="#7CAE00"/><rect x="594.1" y="78.52" width="1.94" height="1.94" rx="0.35" fill="#00BFC4"/><rect x="599.47" y="80.54" width="1.94" height="1.94" rx="0.35" fill="#00BFC4"/><rect x="603.77" y="81.21" width="1.94" height="1.94" rx="0.35" fill="#00BFC4"/><rect x="553.81" y="81.88" width="1.94" height="1.94" rx="0.35" fill="#7CAE00"/><rect x="548.43" y="79.86" width="1.94" height="1.94" rx="0.35" fill="#F8766D"/><rect x="567.91" y="84.57" width="1.94" height="1.94" rx="0.35" fill="#00BFC4"/><rect x="572.88" y="83.22" width="1.94" height="1.94" rx="0.35" fill="#00BFC4"/><rect x="564.82" y="84.57" width="1.94" height="1.94" rx="0.35" fill="#C77CFF"/><rect x="580.94" y="85.64" width="1.94" height="1.94" rx="0.35" fill="#F8766D"/><rect x="563.48" y="87.25" width="1.94" height="1.94" rx="0.35" fill="#00BFC4"/><rect x="598.8" y="84.83" width="1.94" height="1.94" rx="0.35" fill="#7CAE00"/><rect x="587.92" y="88.6" width="1.94" height="1.94" rx="0.35" fill="#C77CFF"/><rect x="591.68" y="89.27" width="1.94" height="1.94" rx="0.35" fill="#00BFC4"/><rect x="549.64" y="87.66" width="1.94" height="1.94" rx="0.35" fill="#7CAE00"/><rect x="550.98" y="87.25" width="1.94" height="1.94" rx="0.35" fill="#00BFC4"/><rect x="549.78" y="91.69" width="1.94" height="1.94" rx="0.35" fill="#C77CFF"/><rect x="557.43" y="91.69" width="1.94" height="1.94" rx="0.35" fill="#7CAE00"/><rect x="566.83" y="91.96" width="1.94" height="1.94" rx="0.35" fill="#00BFC4"/></g>
<polygon points="465.4,53.1 468.24,54.17 471.08,55.24 473.92,56.31 476.76,57.38 479.59,58.45 482.43,59.51 485.27,60.58 488.11,61.64 490.95,62.7 493.79,63.76 496.63,64.81 499.47,65.86 502.31,66.91 505.15,67.95 507.98,68.99 510.82,70.02 513.66,71.05 516.5,72.06 519.34,73.07 522.18,74.07 525.02,75.05 527.86,76.01 530.7,76.96 533.54,77.88 536.37,78.78 539.21,79.65 542.05,80.5 544.89,81.31 547.73,82.09 550.57,82.83 553.41,83.53 556.25,84.21 559.09,84.87 561.93,85.5 564.76,86.12 567.6,86.72 570.44,87.31 573.28,87.89 576.12,88.47 578.96,89.04 581.8,89.6 584.64,90.16 587.48,90.71 590.32,91.26 593.15,91.81 595.99,92.35 598.83,92.89 601.67,93.43 604.51,93.97 607.35,94.51 610.19,95.05 613.03,95.58 615.87,96.11 618.71,96.65 621.54,97.18 624.38,97.71 627.22,98.24 630.06,98.77 632.9,99.3 632.9,118.9 630.06,117.79 627.22,116.68 624.38,115.57 621.54,114.46 618.71,113.35 615.87,112.24 613.03,111.13 610.19,110.03 607.35,108.92 604.51,107.82 601.67,106.72 598.83,105.62 595.99,104.52 593.15,103.42 590.32,102.33 587.48,101.24 584.64,100.15 581.8,99.07 578.96,97.99 576.12,96.92 573.28,95.85 570.44,94.79 567.6,93.74 564.76,92.71 561.93,91.68 559.09,90.68 556.25,89.69 553.41,88.73 550.57,87.8 547.73,86.89 544.89,86.03 542.05,85.2 539.21,84.4 536.37,83.64 533.54,82.89 530.7,82.18 527.86,81.48 525.02,80.81 522.18,80.15 519.34,79.5 516.5,78.87 513.66,78.24 510.82,77.63 507.98,77.02 505.15,76.42 502.31,75.82 499.47,75.23 496.63,74.64 493.79,74.05 490.95,73.47 488.11,72.89 485.27,72.31 482.43,71.73 479.59,71.16 476.76,70.58 473.92,70.01 471.08,69.44 468.24,68.87 465.4,68.3" fill="#999999" fill-opacity="0.4"/>
<line x1="465.4" y1="60.7" x2="632.9" y2="109.1" stroke="#3366FF" stroke-width="1.2"/>
<text x="633.8" y="26.3" font-size="8.05" font-weight="bold" text-anchor="end" fill="#000" stroke="#000" stroke-width="0.05" font-family="Liberation Sans, sans-serif">r = -0.34, P < 0.001</text>
<text x="548.8" y="192.9" font-size="11.2" font-weight="bold" text-anchor="middle" fill="#000" stroke="#000" stroke-width="0.28" font-family="Liberation Sans, sans-serif">Adjusted IgjuxWMH</text>
<text transform="translate(442.9,93.85) rotate(-90)" font-size="11.2" font-weight="bold" text-anchor="middle" fill="#000" stroke="#000" stroke-width="0.28" font-family="Liberation Sans, sans-serif">Adjusted Language</text>
<text x="444.3" y="11.5" font-size="14.8" font-weight="bold" fill="#000" stroke="#000" stroke-width="0.18" font-family="Liberation Sans, sans-serif">C</text>
<text x="649.9" y="79.6" font-size="6.8" font-weight="bold" fill="#000" stroke="#000" stroke-width="0.12" font-family="Liberation Sans, sans-serif">Group</text>
<rect x="649.0" y="81.8" width="8.0" height="35.3" fill="#EBEBEB"/>
<rect x="651.85" y="85.35" width="2.3" height="2.3" rx="0.5" fill="#F8766D"/>
<text x="659.4" y="88.95" font-size="6.8" font-weight="bold" fill="#000" stroke="#000" stroke-width="0.12" font-family="Liberation Sans, sans-serif">HC</text>
<rect x="651.85" y="94.2" width="2.3" height="2.3" rx="0.5" fill="#7CAE00"/>
<text x="659.2" y="97.8" font-size="6.8" font-weight="bold" fill="#000" stroke="#000" stroke-width="0.12" font-family="Liberation Sans, sans-serif">SCD</text>
<rect x="651.85" y="103.05" width="2.3" height="2.3" rx="0.5" fill="#00BFC4"/>
<text x="658.8" y="106.65" font-size="6.8" font-weight="bold" fill="#000" stroke="#000" stroke-width="0.12" font-family="Liberation Sans, sans-serif">MCI</text>
<rect x="651.85" y="111.9" width="2.3" height="2.3" rx="0.5" fill="#C77CFF"/>
<text x="661.4" y="115.5" font-size="6.8" font-weight="bold" fill="#000" stroke="#000" stroke-width="0.12" font-family="Liberation Sans, sans-serif">AD</text>
<rect x="25" y="218" width="183.9" height="157.7" fill="#EBEBEB"/>
<line x1="53.2" y1="218" x2="53.2" y2="375.7" stroke="#F0F0F0" stroke-width="0.8"/>
<line x1="94.8" y1="218" x2="94.8" y2="375.7" stroke="#F0F0F0" stroke-width="0.8"/>
<line x1="136.4" y1="218" x2="136.4" y2="375.7" stroke="#F0F0F0" stroke-width="0.8"/>
<line x1="178" y1="218" x2="178" y2="375.7" stroke="#F0F0F0" stroke-width="0.8"/>
<line x1="25" y1="343.23" x2="208.9" y2="343.23" stroke="#F0F0F0" stroke-width="0.8"/>
<line x1="25" y1="307.88" x2="208.9" y2="307.88" stroke="#F0F0F0" stroke-width="0.8"/>
<line x1="25" y1="272.52" x2="208.9" y2="272.52" stroke="#F0F0F0" stroke-width="0.8"/>
<line x1="25" y1="237.17" x2="208.9" y2="237.17" stroke="#F0F0F0" stroke-width="0.8"/>
<line x1="32.4" y1="218" x2="32.4" y2="375.7" stroke="#F4F4F4" stroke-width="1.1"/>
<line x1="74" y1="218" x2="74" y2="375.7" stroke="#F4F4F4" stroke-width="1.1"/>
<line x1="115.6" y1="218" x2="115.6" y2="375.7" stroke="#F4F4F4" stroke-width="1.1"/>
<line x1="157.2" y1="218" x2="157.2" y2="375.7" stroke="#F4F4F4" stroke-width="1.1"/>
<line x1="198.8" y1="218" x2="198.8" y2="375.7" stroke="#F4F4F4" stroke-width="1.1"/>
<line x1="25" y1="360.9" x2="208.9" y2="360.9" stroke="#F4F4F4" stroke-width="1.1"/>
<line x1="25" y1="325.55" x2="208.9" y2="325.55" stroke="#F4F4F4" stroke-width="1.1"/>
<line x1="25" y1="290.2" x2="208.9" y2="290.2" stroke="#F4F4F4" stroke-width="1.1"/>
<line x1="25" y1="254.85" x2="208.9" y2="254.85" stroke="#F4F4F4" stroke-width="1.1"/>
<line x1="25" y1="219.5" x2="208.9" y2="219.5" stroke="#F4F4F4" stroke-width="1.1"/>
<line x1="32.4" y1="375.7" x2="32.4" y2="377.7" stroke="#777" stroke-width="0.7"/>
<text x="32.4" y="385.1" font-size="9.4" fill="#4D4D4D" stroke="#4D4D4D" stroke-width="0.5" text-anchor="middle" font-family="Liberation Sans, sans-serif">-2</text>
<line x1="74" y1="375.7" x2="74" y2="377.7" stroke="#777" stroke-width="0.7"/>
<text x="74" y="385.1" font-size="9.4" fill="#4D4D4D" stroke="#4D4D4D" stroke-width="0.5" text-anchor="middle" font-family="Liberation Sans, sans-serif">-&#8199;</text><path transform="translate(72.95,385.1) scale(9.4)" d="M0.283,0L0.373,0L0.373,-0.716L0.315,-0.716C0.29,-0.65 0.22,-0.57 0.109,-0.52L0.109,-0.445C0.18,-0.47 0.24,-0.51 0.283,-0.55Z" fill="#4D4D4D" stroke="#4D4D4D" stroke-width="0.0532"/>
<line x1="115.6" y1="375.7" x2="115.6" y2="377.7" stroke="#777" stroke-width="0.7"/>
<text x="115.6" y="385.1" font-size="9.4" fill="#4D4D4D" stroke="#4D4D4D" stroke-width="0.5" text-anchor="middle" font-family="Liberation Sans, sans-serif">0</text>
<line x1="157.2" y1="375.7" x2="157.2" y2="377.7" stroke="#777" stroke-width="0.7"/>
<text x="157.2" y="385.1" font-size="9.4" fill="#4D4D4D" stroke="#4D4D4D" stroke-width="0.5" text-anchor="middle" font-family="Liberation Sans, sans-serif">&#8199;</text><path transform="translate(154.59,385.1) scale(9.4)" d="M0.283,0L0.373,0L0.373,-0.716L0.315,-0.716C0.29,-0.65 0.22,-0.57 0.109,-0.52L0.109,-0.445C0.18,-0.47 0.24,-0.51 0.283,-0.55Z" fill="#4D4D4D" stroke="#4D4D4D" stroke-width="0.0532"/>
<line x1="198.8" y1="375.7" x2="198.8" y2="377.7" stroke="#777" stroke-width="0.7"/>
<text x="198.8" y="385.1" font-size="9.4" fill="#4D4D4D" stroke="#4D4D4D" stroke-width="0.5" text-anchor="middle" font-family="Liberation Sans, sans-serif">2</text>
<line x1="23" y1="360.9" x2="25" y2="360.9" stroke="#777" stroke-width="0.7"/>
<text x="22.8" y="364.2" font-size="9.4" fill="#4D4D4D" stroke="#4D4D4D" stroke-width="0.5" text-anchor="end" font-family="Liberation Sans, sans-serif">-2</text>
<line x1="23" y1="325.55" x2="25" y2="325.55" stroke="#777" stroke-width="0.7"/>
<text x="22.8" y="328.85" font-size="9.4" fill="#4D4D4D" stroke="#4D4D4D" stroke-width="0.5" text-anchor="end" font-family="Liberation Sans, sans-serif">-&#8199;</text><path transform="translate(17.57,328.85) scale(9.4)" d="M0.283,0L0.373,0L0.373,-0.716L0.315,-0.716C0.29,-0.65 0.22,-0.57 0.109,-0.52L0.109,-0.445C0.18,-0.47 0.24,-0.51 0.283,-0.55Z" fill="#4D4D4D" stroke="#4D4D4D" stroke-width="0.0532"/>
<line x1="23" y1="290.2" x2="25" y2="290.2" stroke="#777" stroke-width="0.7"/>
<text x="22.8" y="293.5" font-size="9.4" fill="#4D4D4D" stroke="#4D4D4D" stroke-width="0.5" text-anchor="end" font-family="Liberation Sans, sans-serif">0</text>
<line x1="23" y1="254.85" x2="25" y2="254.85" stroke="#777" stroke-width="0.7"/>
<text x="22.8" y="258.15" font-size="9.4" fill="#4D4D4D" stroke="#4D4D4D" stroke-width="0.5" text-anchor="end" font-family="Liberation Sans, sans-serif">&#8199;</text><path transform="translate(17.57,258.15) scale(9.4)" d="M0.283,0L0.373,0L0.373,-0.716L0.315,-0.716C0.29,-0.65 0.22,-0.57 0.109,-0.52L0.109,-0.445C0.18,-0.47 0.24,-0.51 0.283,-0.55Z" fill="#4D4D4D" stroke="#4D4D4D" stroke-width="0.0532"/>
<line x1="23" y1="219.5" x2="25" y2="219.5" stroke="#777" stroke-width="0.7"/>
<text x="22.8" y="222.8" font-size="9.4" fill="#4D4D4D" stroke="#4D4D4D" stroke-width="0.5" text-anchor="end" font-family="Liberation Sans, sans-serif">2</text>
<g><rect x="53.98" y="297.78" width="1.94" height="1.94" rx="0.35" fill="#7CAE00"/><rect x="73.72" y="296.3" width="1.94" height="1.94" rx="0.35" fill="#F8766D"/><rect x="69.96" y="298.99" width="1.94" height="1.94" rx="0.35" fill="#00BFC4"/><rect x="67.01" y="303.02" width="1.94" height="1.94" rx="0.35" fill="#00BFC4"/><rect x="71.04" y="302.34" width="1.94" height="1.94" rx="0.35" fill="#00BFC4"/><rect x="89.17" y="296.7" width="1.94" height="1.94" rx="0.35" fill="#00BFC4"/><rect x="93.87" y="296.43" width="1.94" height="1.94" rx="0.35" fill="#F8766D"/><rect x="93.87" y="298.99" width="1.94" height="1.94" rx="0.35" fill="#7CAE00"/><rect x="85.41" y="299.12" width="1.94" height="1.94" rx="0.35" fill="#00BFC4"/><rect x="82.05" y="303.02" width="1.94" height="1.94" rx="0.35" fill="#7CAE00"/><rect x="82.72" y="303.42" width="1.94" height="1.94" rx="0.35" fill="#7CAE00"/><rect x="89.84" y="302.21" width="1.94" height="1.94" rx="0.35" fill="#00BFC4"/><rect x="88.5" y="305.03" width="1.94" height="1.94" rx="0.35" fill="#7CAE00"/><rect x="99.91" y="300.33" width="1.94" height="1.94" rx="0.35" fill="#7CAE00"/><rect x="103" y="303.42" width="1.94" height="1.94" rx="0.35" fill="#00BFC4"/><rect x="110.39" y="296.3" width="1.94" height="1.94" rx="0.35" fill="#00BFC4"/><rect x="107.97" y="305.03" width="1.94" height="1.94" rx="0.35" fill="#00BFC4"/><rect x="112.94" y="302.08" width="1.94" height="1.94" rx="0.35" fill="#7CAE00"/><rect x="113.75" y="301.67" width="1.94" height="1.94" rx="0.35" fill="#00BFC4"/><rect x="39.88" y="304.36" width="1.94" height="1.94" rx="0.35" fill="#00BFC4"/><rect x="41.89" y="309.06" width="1.94" height="1.94" rx="0.35" fill="#00BFC4"/><rect x="53.17" y="310.27" width="1.94" height="1.94" rx="0.35" fill="#00BFC4"/><rect x="67.01" y="312.42" width="1.94" height="1.94" rx="0.35" fill="#00BFC4"/><rect x="64.99" y="314.84" width="1.94" height="1.94" rx="0.35" fill="#00BFC4"/><rect x="79.36" y="312.82" width="1.94" height="1.94" rx="0.35" fill="#C77CFF"/><rect x="79.1" y="315.51" width="1.94" height="1.94" rx="0.35" fill="#00BFC4"/><rect x="81.38" y="317.93" width="1.94" height="1.94" rx="0.35" fill="#C77CFF"/><rect x="86.48" y="311.75" width="1.94" height="1.94" rx="0.35" fill="#7CAE00"/><rect x="87.15" y="311.08" width="1.94" height="1.94" rx="0.35" fill="#00BFC4"/><rect x="88.9" y="311.08" width="1.94" height="1.94" rx="0.35" fill="#00BFC4"/><rect x="103.94" y="307.05" width="1.94" height="1.94" rx="0.35" fill="#00BFC4"/><rect x="103.27" y="308.12" width="1.94" height="1.94" rx="0.35" fill="#00BFC4"/><rect x="105.96" y="312.82" width="1.94" height="1.94" rx="0.35" fill="#00BFC4"/><rect x="107.3" y="311.75" width="1.94" height="1.94" rx="0.35" fill="#7CAE00"/><rect x="109.31" y="312.15" width="1.94" height="1.94" rx="0.35" fill="#7CAE00"/><rect x="112.4" y="314.17" width="1.94" height="1.94" rx="0.35" fill="#00BFC4"/><rect x="108.91" y="317.26" width="1.94" height="1.94" rx="0.35" fill="#C77CFF"/><rect x="96.96" y="317.93" width="1.94" height="1.94" rx="0.35" fill="#00BFC4"/><rect x="95.48" y="320.62" width="1.94" height="1.94" rx="0.35" fill="#00BFC4"/><rect x="96.15" y="324.24" width="1.94" height="1.94" rx="0.35" fill="#00BFC4"/><rect x="103.94" y="323.98" width="1.94" height="1.94" rx="0.35" fill="#C77CFF"/><rect x="106.36" y="322.23" width="1.94" height="1.94" rx="0.35" fill="#00BFC4"/><rect x="107.3" y="321.29" width="1.94" height="1.94" rx="0.35" fill="#00BFC4"/><rect x="87.56" y="332.31" width="1.94" height="1.94" rx="0.35" fill="#00BFC4"/><rect x="103.67" y="330.56" width="1.94" height="1.94" rx="0.35" fill="#00BFC4"/><rect x="104.35" y="332.98" width="1.94" height="1.94" rx="0.35" fill="#C77CFF"/><rect x="100.18" y="336.34" width="1.94" height="1.94" rx="0.35" fill="#00BFC4"/><rect x="98.84" y="337.68" width="1.94" height="1.94" rx="0.35" fill="#C77CFF"/><rect x="79.1" y="337.95" width="1.94" height="1.94" rx="0.35" fill="#00BFC4"/><rect x="79.5" y="340.77" width="1.94" height="1.94" rx="0.35" fill="#C77CFF"/><rect x="106.9" y="350.04" width="1.94" height="1.94" rx="0.35" fill="#00BFC4"/><rect x="109.72" y="348.43" width="1.94" height="1.94" rx="0.35" fill="#C77CFF"/><rect x="112.27" y="361.46" width="1.94" height="1.94" rx="0.35" fill="#00BFC4"/><rect x="105.96" y="364.28" width="1.94" height="1.94" rx="0.35" fill="#C77CFF"/><rect x="118.04" y="296.3" width="1.94" height="1.94" rx="0.35" fill="#00BFC4"/><rect x="121" y="298.99" width="1.94" height="1.94" rx="0.35" fill="#00BFC4"/><rect x="123.82" y="298.05" width="1.94" height="1.94" rx="0.35" fill="#C77CFF"/><rect x="125.83" y="298.05" width="1.94" height="1.94" rx="0.35" fill="#7CAE00"/><rect x="127.85" y="296.7" width="1.94" height="1.94" rx="0.35" fill="#00BFC4"/><rect x="117.78" y="303.82" width="1.94" height="1.94" rx="0.35" fill="#7CAE00"/><rect x="117.1" y="302.75" width="1.94" height="1.94" rx="0.35" fill="#C77CFF"/><rect x="125.03" y="303.02" width="1.94" height="1.94" rx="0.35" fill="#00BFC4"/><rect x="126.1" y="305.17" width="1.94" height="1.94" rx="0.35" fill="#00BFC4"/><rect x="129.86" y="305.84" width="1.94" height="1.94" rx="0.35" fill="#C77CFF"/><rect x="130.8" y="305.43" width="1.94" height="1.94" rx="0.35" fill="#00BFC4"/><rect x="126.77" y="306.78" width="1.94" height="1.94" rx="0.35" fill="#7CAE00"/><rect x="131.88" y="300.73" width="1.94" height="1.94" rx="0.35" fill="#00BFC4"/><rect x="132.15" y="302.08" width="1.94" height="1.94" rx="0.35" fill="#00BFC4"/><rect x="135.77" y="301" width="1.94" height="1.94" rx="0.35" fill="#00BFC4"/><rect x="138.19" y="302.08" width="1.94" height="1.94" rx="0.35" fill="#00BFC4"/><rect x="137.52" y="303.42" width="1.94" height="1.94" rx="0.35" fill="#7CAE00"/><rect x="134.43" y="307.45" width="1.94" height="1.94" rx="0.35" fill="#7CAE00"/><rect x="141.95" y="306.11" width="1.94" height="1.94" rx="0.35" fill="#C77CFF"/><rect x="145.17" y="305.17" width="1.94" height="1.94" rx="0.35" fill="#00BFC4"/><rect x="147.86" y="301.14" width="1.94" height="1.94" rx="0.35" fill="#00BFC4"/><rect x="150.55" y="301.14" width="1.94" height="1.94" rx="0.35" fill="#7CAE00"/><rect x="149.88" y="303.02" width="1.94" height="1.94" rx="0.35" fill="#00BFC4"/><rect x="151.22" y="304.09" width="1.94" height="1.94" rx="0.35" fill="#F8766D"/><rect x="148.26" y="297.37" width="1.94" height="1.94" rx="0.35" fill="#00BFC4"/><rect x="149.61" y="298.45" width="1.94" height="1.94" rx="0.35" fill="#00BFC4"/><rect x="161.69" y="296.7" width="1.94" height="1.94" rx="0.35" fill="#00BFC4"/><rect x="152.56" y="309.87" width="1.94" height="1.94" rx="0.35" fill="#C77CFF"/><rect x="165.72" y="310.54" width="1.94" height="1.94" rx="0.35" fill="#00BFC4"/><rect x="173.38" y="313.9" width="1.94" height="1.94" rx="0.35" fill="#C77CFF"/><rect x="184.79" y="313.76" width="1.94" height="1.94" rx="0.35" fill="#00BFC4"/><rect x="123.69" y="311.08" width="1.94" height="1.94" rx="0.35" fill="#00BFC4"/><rect x="139.94" y="311.21" width="1.94" height="1.94" rx="0.35" fill="#F8766D"/><rect x="146.92" y="311.88" width="1.94" height="1.94" rx="0.35" fill="#00BFC4"/><rect x="123.82" y="315.78" width="1.94" height="1.94" rx="0.35" fill="#00BFC4"/><rect x="131.48" y="315.11" width="1.94" height="1.94" rx="0.35" fill="#00BFC4"/><rect x="132.82" y="314.84" width="1.94" height="1.94" rx="0.35" fill="#00BFC4"/><rect x="130.4" y="317.8" width="1.94" height="1.94" rx="0.35" fill="#00BFC4"/><rect x="138.86" y="317.12" width="1.94" height="1.94" rx="0.35" fill="#C77CFF"/><rect x="140.88" y="316.05" width="1.94" height="1.94" rx="0.35" fill="#7CAE00"/><rect x="145.17" y="315.51" width="1.94" height="1.94" rx="0.35" fill="#00BFC4"/><rect x="128.12" y="320.35" width="1.94" height="1.94" rx="0.35" fill="#00BFC4"/><rect x="151.62" y="319.94" width="1.94" height="1.94" rx="0.35" fill="#00BFC4"/><rect x="118.31" y="321.29" width="1.94" height="1.94" rx="0.35" fill="#7CAE00"/><rect x="136.44" y="323.84" width="1.94" height="1.94" rx="0.35" fill="#00BFC4"/><rect x="150.95" y="323.84" width="1.94" height="1.94" rx="0.35" fill="#C77CFF"/><rect x="151.62" y="324.92" width="1.94" height="1.94" rx="0.35" fill="#C77CFF"/><rect x="199.57" y="321.56" width="1.94" height="1.94" rx="0.35" fill="#00BFC4"/><rect x="125.83" y="328.95" width="1.94" height="1.94" rx="0.35" fill="#C77CFF"/><rect x="155.25" y="329.62" width="1.94" height="1.94" rx="0.35" fill="#C77CFF"/><rect x="184.26" y="327.33" width="1.94" height="1.94" rx="0.35" fill="#C77CFF"/><rect x="133.09" y="331.9" width="1.94" height="1.94" rx="0.35" fill="#00BFC4"/><rect x="124.36" y="334.72" width="1.94" height="1.94" rx="0.35" fill="#00BFC4"/><rect x="131.48" y="347.22" width="1.94" height="1.94" rx="0.35" fill="#C77CFF"/><rect x="143.83" y="346.55" width="1.94" height="1.94" rx="0.35" fill="#C77CFF"/><rect x="128.52" y="352.86" width="1.94" height="1.94" rx="0.35" fill="#C77CFF"/><rect x="129.86" y="355.95" width="1.94" height="1.94" rx="0.35" fill="#C77CFF"/><rect x="121.4" y="362" width="1.94" height="1.94" rx="0.35" fill="#C77CFF"/><rect x="157.93" y="362" width="1.94" height="1.94" rx="0.35" fill="#C77CFF"/><rect x="142.89" y="366.3" width="1.94" height="1.94" rx="0.35" fill="#C77CFF"/><rect x="171.77" y="367.91" width="1.94" height="1.94" rx="0.35" fill="#00BFC4"/><rect x="57.2" y="224.82" width="1.94" height="1.94" rx="0.35" fill="#F8766D"/><rect x="104.88" y="224.02" width="1.94" height="1.94" rx="0.35" fill="#00BFC4"/><rect x="115.76" y="229.39" width="1.94" height="1.94" rx="0.35" fill="#F8766D"/><rect x="89.17" y="234.76" width="1.94" height="1.94" rx="0.35" fill="#00BFC4"/><rect x="84.2" y="236.91" width="1.94" height="1.94" rx="0.35" fill="#00BFC4"/><rect x="96.56" y="238.8" width="1.94" height="1.94" rx="0.35" fill="#7CAE00"/><rect x="82.86" y="243.5" width="1.94" height="1.94" rx="0.35" fill="#F8766D"/><rect x="107.97" y="242.83" width="1.94" height="1.94" rx="0.35" fill="#F8766D"/><rect x="109.58" y="246.86" width="1.94" height="1.94" rx="0.35" fill="#F8766D"/><rect x="107.03" y="248.74" width="1.94" height="1.94" rx="0.35" fill="#7CAE00"/><rect x="85.14" y="249.68" width="1.94" height="1.94" rx="0.35" fill="#7CAE00"/><rect x="87.56" y="250.62" width="1.94" height="1.94" rx="0.35" fill="#7CAE00"/><rect x="85.81" y="252.63" width="1.94" height="1.94" rx="0.35" fill="#7CAE00"/><rect x="82.18" y="253.04" width="1.94" height="1.94" rx="0.35" fill="#C77CFF"/><rect x="94.54" y="253.04" width="1.94" height="1.94" rx="0.35" fill="#00BFC4"/><rect x="69.29" y="253.57" width="1.94" height="1.94" rx="0.35" fill="#7CAE00"/><rect x="67.01" y="254.92" width="1.94" height="1.94" rx="0.35" fill="#F8766D"/><rect x="80.17" y="256.4" width="1.94" height="1.94" rx="0.35" fill="#7CAE00"/><rect x="113.34" y="252.23" width="1.94" height="1.94" rx="0.35" fill="#7CAE00"/><rect x="114.02" y="254.92" width="1.94" height="1.94" rx="0.35" fill="#7CAE00"/><rect x="108.24" y="256.26" width="1.94" height="1.94" rx="0.35" fill="#7CAE00"/><rect x="107.97" y="257.6" width="1.94" height="1.94" rx="0.35" fill="#00BFC4"/><rect x="108.24" y="260.43" width="1.94" height="1.94" rx="0.35" fill="#00BFC4"/><rect x="103" y="257.74" width="1.94" height="1.94" rx="0.35" fill="#F8766D"/><rect x="113.34" y="259.75" width="1.94" height="1.94" rx="0.35" fill="#7CAE00"/><rect x="79.77" y="260.43" width="1.94" height="1.94" rx="0.35" fill="#F8766D"/><rect x="89.84" y="262.04" width="1.94" height="1.94" rx="0.35" fill="#7CAE00"/><rect x="92.79" y="262.04" width="1.94" height="1.94" rx="0.35" fill="#7CAE00"/><rect x="86.89" y="264.86" width="1.94" height="1.94" rx="0.35" fill="#F8766D"/><rect x="93.6" y="264.46" width="1.94" height="1.94" rx="0.35" fill="#F8766D"/><rect x="94.94" y="265.4" width="1.94" height="1.94" rx="0.35" fill="#7CAE00"/><rect x="92.12" y="266.07" width="1.94" height="1.94" rx="0.35" fill="#7CAE00"/><rect x="95.88" y="267.68" width="1.94" height="1.94" rx="0.35" fill="#7CAE00"/><rect x="91.45" y="268.35" width="1.94" height="1.94" rx="0.35" fill="#F8766D"/><rect x="83.39" y="267.01" width="1.94" height="1.94" rx="0.35" fill="#00BFC4"/><rect x="83.39" y="268.76" width="1.94" height="1.94" rx="0.35" fill="#7CAE00"/><rect x="104.35" y="263.79" width="1.94" height="1.94" rx="0.35" fill="#00BFC4"/><rect x="113.75" y="265.8" width="1.94" height="1.94" rx="0.35" fill="#00BFC4"/><rect x="107.97" y="267.82" width="1.94" height="1.94" rx="0.35" fill="#F8766D"/><rect x="110.39" y="267.14" width="1.94" height="1.94" rx="0.35" fill="#F8766D"/><rect x="101.93" y="270.1" width="1.94" height="1.94" rx="0.35" fill="#7CAE00"/><rect x="101.93" y="271.17" width="1.94" height="1.94" rx="0.35" fill="#F8766D"/><rect x="114.02" y="271.04" width="1.94" height="1.94" rx="0.35" fill="#F8766D"/><rect x="115.63" y="270.1" width="1.94" height="1.94" rx="0.35" fill="#7CAE00"/><rect x="52.91" y="264.32" width="1.94" height="1.94" rx="0.35" fill="#7CAE00"/><rect x="64.05" y="267.82" width="1.94" height="1.94" rx="0.35" fill="#7CAE00"/><rect x="71.98" y="268.76" width="1.94" height="1.94" rx="0.35" fill="#F8766D"/><rect x="50.22" y="273.73" width="1.94" height="1.94" rx="0.35" fill="#00BFC4"/><rect x="32.09" y="276.95" width="1.94" height="1.94" rx="0.35" fill="#7CAE00"/><rect x="95.62" y="273.06" width="1.94" height="1.94" rx="0.35" fill="#F8766D"/><rect x="99.91" y="273.86" width="1.94" height="1.94" rx="0.35" fill="#00BFC4"/><rect x="96.96" y="276.15" width="1.94" height="1.94" rx="0.35" fill="#7CAE00"/><rect x="100.58" y="277.49" width="1.94" height="1.94" rx="0.35" fill="#F8766D"/><rect x="105.02" y="275.34" width="1.94" height="1.94" rx="0.35" fill="#00BFC4"/><rect x="109.99" y="275.88" width="1.94" height="1.94" rx="0.35" fill="#7CAE00"/><rect x="112" y="273.73" width="1.94" height="1.94" rx="0.35" fill="#7CAE00"/><rect x="64.05" y="277.49" width="1.94" height="1.94" rx="0.35" fill="#00BFC4"/><rect x="59.89" y="279.64" width="1.94" height="1.94" rx="0.35" fill="#00BFC4"/><rect x="77.75" y="278.83" width="1.94" height="1.94" rx="0.35" fill="#00BFC4"/><rect x="76.14" y="281.52" width="1.94" height="1.94" rx="0.35" fill="#00BFC4"/><rect x="84.87" y="279.91" width="1.94" height="1.94" rx="0.35" fill="#7CAE00"/><rect x="89.57" y="278.43" width="1.94" height="1.94" rx="0.35" fill="#7CAE00"/><rect x="92.53" y="279.1" width="1.94" height="1.94" rx="0.35" fill="#00BFC4"/><rect x="96.56" y="278.43" width="1.94" height="1.94" rx="0.35" fill="#7CAE00"/><rect x="98.57" y="281.52" width="1.94" height="1.94" rx="0.35" fill="#00BFC4"/><rect x="99.24" y="282.59" width="1.94" height="1.94" rx="0.35" fill="#00BFC4"/><rect x="101.26" y="282.19" width="1.94" height="1.94" rx="0.35" fill="#00BFC4"/><rect x="104.88" y="279.77" width="1.94" height="1.94" rx="0.35" fill="#7CAE00"/><rect x="105.96" y="281.52" width="1.94" height="1.94" rx="0.35" fill="#7CAE00"/><rect x="114.02" y="278.56" width="1.94" height="1.94" rx="0.35" fill="#7CAE00"/><rect x="66.07" y="284.48" width="1.94" height="1.94" rx="0.35" fill="#00BFC4"/><rect x="89.17" y="284.88" width="1.94" height="1.94" rx="0.35" fill="#00BFC4"/><rect x="103.94" y="284.88" width="1.94" height="1.94" rx="0.35" fill="#00BFC4"/><rect x="105.02" y="286.89" width="1.94" height="1.94" rx="0.35" fill="#00BFC4"/><rect x="111.06" y="286.22" width="1.94" height="1.94" rx="0.35" fill="#7CAE00"/><rect x="73.05" y="286.89" width="1.94" height="1.94" rx="0.35" fill="#00BFC4"/><rect x="71.98" y="288.51" width="1.94" height="1.94" rx="0.35" fill="#00BFC4"/><rect x="90.24" y="289.85" width="1.94" height="1.94" rx="0.35" fill="#7CAE00"/><rect x="58.68" y="292.54" width="1.94" height="1.94" rx="0.35" fill="#7CAE00"/><rect x="54.52" y="294.69" width="1.94" height="1.94" rx="0.35" fill="#00BFC4"/><rect x="73.72" y="295.63" width="1.94" height="1.94" rx="0.35" fill="#F8766D"/><rect x="91.85" y="293.34" width="1.94" height="1.94" rx="0.35" fill="#00BFC4"/><rect x="94.54" y="295.63" width="1.94" height="1.94" rx="0.35" fill="#F8766D"/><rect x="105.29" y="294.28" width="1.94" height="1.94" rx="0.35" fill="#7CAE00"/><rect x="107.97" y="291.6" width="1.94" height="1.94" rx="0.35" fill="#7CAE00"/><rect x="110.39" y="290.92" width="1.94" height="1.94" rx="0.35" fill="#00BFC4"/><rect x="113.34" y="292" width="1.94" height="1.94" rx="0.35" fill="#00BFC4"/><rect x="111.06" y="294.69" width="1.94" height="1.94" rx="0.35" fill="#00BFC4"/><rect x="116.7" y="229.39" width="1.94" height="1.94" rx="0.35" fill="#F8766D"/><rect x="132.82" y="236.91" width="1.94" height="1.94" rx="0.35" fill="#7CAE00"/><rect x="132.15" y="238.26" width="1.94" height="1.94" rx="0.35" fill="#7CAE00"/><rect x="134.83" y="241.62" width="1.94" height="1.94" rx="0.35" fill="#F8766D"/><rect x="125.83" y="243.5" width="1.94" height="1.94" rx="0.35" fill="#C77CFF"/><rect x="165.72" y="246.86" width="1.94" height="1.94" rx="0.35" fill="#00BFC4"/><rect x="170.69" y="246.18" width="1.94" height="1.94" rx="0.35" fill="#7CAE00"/><rect x="122.48" y="251.29" width="1.94" height="1.94" rx="0.35" fill="#00BFC4"/><rect x="125.16" y="252.63" width="1.94" height="1.94" rx="0.35" fill="#00BFC4"/><rect x="130.4" y="251.56" width="1.94" height="1.94" rx="0.35" fill="#7CAE00"/><rect x="140.88" y="251.56" width="1.94" height="1.94" rx="0.35" fill="#7CAE00"/><rect x="146.65" y="252.63" width="1.94" height="1.94" rx="0.35" fill="#7CAE00"/><rect x="164.38" y="254.92" width="1.94" height="1.94" rx="0.35" fill="#7CAE00"/><rect x="123.42" y="255.99" width="1.94" height="1.94" rx="0.35" fill="#7CAE00"/><rect x="123.01" y="257.07" width="1.94" height="1.94" rx="0.35" fill="#7CAE00"/><rect x="124.49" y="257.07" width="1.94" height="1.94" rx="0.35" fill="#00BFC4"/><rect x="142.89" y="257.34" width="1.94" height="1.94" rx="0.35" fill="#00BFC4"/><rect x="120.06" y="259.35" width="1.94" height="1.94" rx="0.35" fill="#F8766D"/><rect x="118.98" y="262.04" width="1.94" height="1.94" rx="0.35" fill="#7CAE00"/><rect x="145.85" y="259.75" width="1.94" height="1.94" rx="0.35" fill="#7CAE00"/><rect x="140.88" y="261.64" width="1.94" height="1.94" rx="0.35" fill="#00BFC4"/><rect x="149.88" y="263.79" width="1.94" height="1.94" rx="0.35" fill="#00BFC4"/><rect x="156.05" y="261.77" width="1.94" height="1.94" rx="0.35" fill="#7CAE00"/><rect x="127.71" y="263.52" width="1.94" height="1.94" rx="0.35" fill="#7CAE00"/><rect x="133.76" y="263.79" width="1.94" height="1.94" rx="0.35" fill="#7CAE00"/><rect x="131.74" y="264.86" width="1.94" height="1.94" rx="0.35" fill="#F8766D"/><rect x="130.4" y="266.34" width="1.94" height="1.94" rx="0.35" fill="#00BFC4"/><rect x="135.91" y="265.4" width="1.94" height="1.94" rx="0.35" fill="#7CAE00"/><rect x="136.58" y="267.01" width="1.94" height="1.94" rx="0.35" fill="#F8766D"/><rect x="132.15" y="268.76" width="1.94" height="1.94" rx="0.35" fill="#00BFC4"/><rect x="140.88" y="268.08" width="1.94" height="1.94" rx="0.35" fill="#00BFC4"/><rect x="139.53" y="270.5" width="1.94" height="1.94" rx="0.35" fill="#00BFC4"/><rect x="144.64" y="269.83" width="1.94" height="1.94" rx="0.35" fill="#7CAE00"/><rect x="123.82" y="267.01" width="1.94" height="1.94" rx="0.35" fill="#7CAE00"/><rect x="116.7" y="269.83" width="1.94" height="1.94" rx="0.35" fill="#7CAE00"/><rect x="126.1" y="272.12" width="1.94" height="1.94" rx="0.35" fill="#7CAE00"/><rect x="125.83" y="273.19" width="1.94" height="1.94" rx="0.35" fill="#7CAE00"/><rect x="122.75" y="273.86" width="1.94" height="1.94" rx="0.35" fill="#7CAE00"/><rect x="126.51" y="276.15" width="1.94" height="1.94" rx="0.35" fill="#F8766D"/><rect x="123.42" y="277.22" width="1.94" height="1.94" rx="0.35" fill="#00BFC4"/><rect x="128.52" y="279.1" width="1.94" height="1.94" rx="0.35" fill="#00BFC4"/><rect x="158.74" y="274.53" width="1.94" height="1.94" rx="0.35" fill="#F8766D"/><rect x="159.01" y="279.77" width="1.94" height="1.94" rx="0.35" fill="#00BFC4"/><rect x="168.81" y="280.18" width="1.94" height="1.94" rx="0.35" fill="#7CAE00"/><rect x="136.85" y="278.16" width="1.94" height="1.94" rx="0.35" fill="#7CAE00"/><rect x="145.31" y="279.77" width="1.94" height="1.94" rx="0.35" fill="#F8766D"/><rect x="118.72" y="281.12" width="1.94" height="1.94" rx="0.35" fill="#F8766D"/><rect x="121.4" y="280.18" width="1.94" height="1.94" rx="0.35" fill="#F8766D"/><rect x="121" y="281.79" width="1.94" height="1.94" rx="0.35" fill="#00BFC4"/><rect x="122.07" y="282.19" width="1.94" height="1.94" rx="0.35" fill="#F8766D"/><rect x="125.7" y="280.58" width="1.94" height="1.94" rx="0.35" fill="#F8766D"/><rect x="123.82" y="284.21" width="1.94" height="1.94" rx="0.35" fill="#7CAE00"/><rect x="130.8" y="283.8" width="1.94" height="1.94" rx="0.35" fill="#7CAE00"/><rect x="131.88" y="282.86" width="1.94" height="1.94" rx="0.35" fill="#7CAE00"/><rect x="136.85" y="284.88" width="1.94" height="1.94" rx="0.35" fill="#C77CFF"/><rect x="147.86" y="285.15" width="1.94" height="1.94" rx="0.35" fill="#7CAE00"/><rect x="154.31" y="284.48" width="1.94" height="1.94" rx="0.35" fill="#00BFC4"/><rect x="125.83" y="286.89" width="1.94" height="1.94" rx="0.35" fill="#C77CFF"/><rect x="129.06" y="287.16" width="1.94" height="1.94" rx="0.35" fill="#F8766D"/><rect x="118.72" y="287.3" width="1.94" height="1.94" rx="0.35" fill="#00BFC4"/><rect x="139.13" y="287.43" width="1.94" height="1.94" rx="0.35" fill="#00BFC4"/><rect x="136.85" y="288.24" width="1.94" height="1.94" rx="0.35" fill="#7CAE00"/><rect x="154.98" y="287.83" width="1.94" height="1.94" rx="0.35" fill="#00BFC4"/><rect x="162.37" y="287.16" width="1.94" height="1.94" rx="0.35" fill="#00BFC4"/><rect x="165.05" y="287.57" width="1.94" height="1.94" rx="0.35" fill="#00BFC4"/><rect x="156.32" y="289.85" width="1.94" height="1.94" rx="0.35" fill="#C77CFF"/><rect x="161.29" y="290.52" width="1.94" height="1.94" rx="0.35" fill="#7CAE00"/><rect x="136.18" y="290.66" width="1.94" height="1.94" rx="0.35" fill="#00BFC4"/><rect x="143.29" y="294.28" width="1.94" height="1.94" rx="0.35" fill="#00BFC4"/><rect x="170.16" y="294.69" width="1.94" height="1.94" rx="0.35" fill="#00BFC4"/><rect x="118.04" y="294.96" width="1.94" height="1.94" rx="0.35" fill="#00BFC4"/></g>
<polygon points="32.6,270.2 35.45,270.85 38.29,271.5 41.14,272.15 43.98,272.79 46.83,273.44 49.67,274.08 52.52,274.72 55.37,275.37 58.21,276 61.06,276.64 63.9,277.28 66.75,277.91 69.59,278.54 72.44,279.16 75.29,279.78 78.13,280.4 80.98,281.01 83.82,281.61 86.67,282.2 89.52,282.79 92.36,283.36 95.21,283.92 98.05,284.46 100.9,284.99 103.74,285.48 106.59,285.96 109.44,286.4 112.28,286.8 115.13,287.17 117.97,287.5 120.82,287.79 123.66,288.04 126.51,288.26 129.36,288.46 132.2,288.62 135.05,288.77 137.89,288.9 140.74,289.01 143.58,289.11 146.43,289.2 149.28,289.28 152.12,289.35 154.97,289.42 157.81,289.48 160.66,289.54 163.51,289.59 166.35,289.64 169.2,289.69 172.04,289.74 174.89,289.78 177.73,289.82 180.58,289.86 183.43,289.9 186.27,289.93 189.12,289.97 191.96,290 194.81,290.04 197.65,290.07 200.5,290.1 200.5,310.1 197.65,309.45 194.81,308.79 191.96,308.14 189.12,307.49 186.27,306.84 183.43,306.19 180.58,305.55 177.73,304.9 174.89,304.26 172.04,303.61 169.2,302.98 166.35,302.34 163.51,301.7 160.66,301.07 157.81,300.45 154.97,299.82 152.12,299.21 149.28,298.59 146.43,297.99 143.58,297.4 140.74,296.81 137.89,296.24 135.05,295.68 132.2,295.14 129.36,294.62 126.51,294.13 123.66,293.67 120.82,293.24 117.97,292.84 115.13,292.49 112.28,292.17 109.44,291.89 106.59,291.65 103.74,291.43 100.9,291.25 98.05,291.09 95.21,290.94 92.36,290.82 89.52,290.71 86.67,290.61 83.82,290.52 80.98,290.43 78.13,290.36 75.29,290.29 72.44,290.23 69.59,290.17 66.75,290.11 63.9,290.06 61.06,290.01 58.21,289.96 55.37,289.91 52.52,289.87 49.67,289.83 46.83,289.79 43.98,289.75 41.14,289.71 38.29,289.67 35.45,289.64 32.6,289.6" fill="#999999" fill-opacity="0.4"/>
<line x1="32.6" y1="279.9" x2="200.5" y2="300.1" stroke="#3366FF" stroke-width="1.2"/>
<text x="202.5" y="229.3" font-size="8.05" font-weight="bold" text-anchor="end" fill="#000" stroke="#000" stroke-width="0.05" font-family="Liberation Sans, sans-serif">r = -0.13, P = 0.032</text>
<text x="116.95" y="395.9" font-size="11.2" font-weight="bold" text-anchor="middle" fill="#000" stroke="#000" stroke-width="0.28" font-family="Liberation Sans, sans-serif">Adjusted IgpWMH</text>
<text transform="translate(10.9,296.85) rotate(-90)" font-size="11.2" font-weight="bold" text-anchor="middle" fill="#000" stroke="#000" stroke-width="0.28" font-family="Liberation Sans, sans-serif">Adjusted Memory</text>
<text x="2.1" y="216.9" font-size="14.8" font-weight="bold" fill="#000" stroke="#000" stroke-width="0.18" font-family="Liberation Sans, sans-serif">D</text>
<rect x="245.2" y="217" width="179.6" height="157.6" fill="#EBEBEB"/>
<line x1="272.9" y1="217" x2="272.9" y2="374.6" stroke="#F0F0F0" stroke-width="0.8"/>
<line x1="313.5" y1="217" x2="313.5" y2="374.6" stroke="#F0F0F0" stroke-width="0.8"/>
<line x1="354.1" y1="217" x2="354.1" y2="374.6" stroke="#F0F0F0" stroke-width="0.8"/>
<line x1="394.7" y1="217" x2="394.7" y2="374.6" stroke="#F0F0F0" stroke-width="0.8"/>
<line x1="245.2" y1="366.95" x2="424.8" y2="366.95" stroke="#F0F0F0" stroke-width="0.8"/>
<line x1="245.2" y1="332.05" x2="424.8" y2="332.05" stroke="#F0F0F0" stroke-width="0.8"/>
<line x1="245.2" y1="297.15" x2="424.8" y2="297.15" stroke="#F0F0F0" stroke-width="0.8"/>
<line x1="245.2" y1="262.25" x2="424.8" y2="262.25" stroke="#F0F0F0" stroke-width="0.8"/>
<line x1="245.2" y1="227.35" x2="424.8" y2="227.35" stroke="#F0F0F0" stroke-width="0.8"/>
<line x1="252.6" y1="217" x2="252.6" y2="374.6" stroke="#F4F4F4" stroke-width="1.1"/>
<line x1="293.2" y1="217" x2="293.2" y2="374.6" stroke="#F4F4F4" stroke-width="1.1"/>
<line x1="333.8" y1="217" x2="333.8" y2="374.6" stroke="#F4F4F4" stroke-width="1.1"/>
<line x1="374.4" y1="217" x2="374.4" y2="374.6" stroke="#F4F4F4" stroke-width="1.1"/>
<line x1="415" y1="217" x2="415" y2="374.6" stroke="#F4F4F4" stroke-width="1.1"/>
<line x1="245.2" y1="349.5" x2="424.8" y2="349.5" stroke="#F4F4F4" stroke-width="1.1"/>
<line x1="245.2" y1="314.6" x2="424.8" y2="314.6" stroke="#F4F4F4" stroke-width="1.1"/>
<line x1="245.2" y1="279.7" x2="424.8" y2="279.7" stroke="#F4F4F4" stroke-width="1.1"/>
<line x1="245.2" y1="244.8" x2="424.8" y2="244.8" stroke="#F4F4F4" stroke-width="1.1"/>
<line x1="252.6" y1="374.6" x2="252.6" y2="376.6" stroke="#777" stroke-width="0.7"/>
<text x="252.6" y="384" font-size="9.4" fill="#4D4D4D" stroke="#4D4D4D" stroke-width="0.5" text-anchor="middle" font-family="Liberation Sans, sans-serif">-2</text>
<line x1="293.2" y1="374.6" x2="293.2" y2="376.6" stroke="#777" stroke-width="0.7"/>
<text x="293.2" y="384" font-size="9.4" fill="#4D4D4D" stroke="#4D4D4D" stroke-width="0.5" text-anchor="middle" font-family="Liberation Sans, sans-serif">-&#8199;</text><path transform="translate(292.15,384) scale(9.4)" d="M0.283,0L0.373,0L0.373,-0.716L0.315,-0.716C0.29,-0.65 0.22,-0.57 0.109,-0.52L0.109,-0.445C0.18,-0.47 0.24,-0.51 0.283,-0.55Z" fill="#4D4D4D" stroke="#4D4D4D" stroke-width="0.0532"/>
<line x1="333.8" y1="374.6" x2="333.8" y2="376.6" stroke="#777" stroke-width="0.7"/>
<text x="333.8" y="384" font-size="9.4" fill="#4D4D4D" stroke="#4D4D4D" stroke-width="0.5" text-anchor="middle" font-family="Liberation Sans, sans-serif">0</text>
<line x1="374.4" y1="374.6" x2="374.4" y2="376.6" stroke="#777" stroke-width="0.7"/>
<text x="374.4" y="384" font-size="9.4" fill="#4D4D4D" stroke="#4D4D4D" stroke-width="0.5" text-anchor="middle" font-family="Liberation Sans, sans-serif">&#8199;</text><path transform="translate(371.79,384) scale(9.4)" d="M0.283,0L0.373,0L0.373,-0.716L0.315,-0.716C0.29,-0.65 0.22,-0.57 0.109,-0.52L0.109,-0.445C0.18,-0.47 0.24,-0.51 0.283,-0.55Z" fill="#4D4D4D" stroke="#4D4D4D" stroke-width="0.0532"/>
<line x1="415" y1="374.6" x2="415" y2="376.6" stroke="#777" stroke-width="0.7"/>
<text x="415" y="384" font-size="9.4" fill="#4D4D4D" stroke="#4D4D4D" stroke-width="0.5" text-anchor="middle" font-family="Liberation Sans, sans-serif">2</text>
<line x1="243.2" y1="349.5" x2="245.2" y2="349.5" stroke="#777" stroke-width="0.7"/>
<text x="243" y="352.8" font-size="9.4" fill="#4D4D4D" stroke="#4D4D4D" stroke-width="0.5" text-anchor="end" font-family="Liberation Sans, sans-serif">0.0</text>
<line x1="243.2" y1="314.6" x2="245.2" y2="314.6" stroke="#777" stroke-width="0.7"/>
<text x="243" y="317.9" font-size="9.4" fill="#4D4D4D" stroke="#4D4D4D" stroke-width="0.5" text-anchor="end" font-family="Liberation Sans, sans-serif">2.5</text>
<line x1="243.2" y1="279.7" x2="245.2" y2="279.7" stroke="#777" stroke-width="0.7"/>
<text x="243" y="283" font-size="9.4" fill="#4D4D4D" stroke="#4D4D4D" stroke-width="0.5" text-anchor="end" font-family="Liberation Sans, sans-serif">5.0</text>
<line x1="243.2" y1="244.8" x2="245.2" y2="244.8" stroke="#777" stroke-width="0.7"/>
<text x="243" y="248.1" font-size="9.4" fill="#4D4D4D" stroke="#4D4D4D" stroke-width="0.5" text-anchor="end" font-family="Liberation Sans, sans-serif">7.5</text>
<g><rect x="300.53" y="313.39" width="1.94" height="1.94" rx="0.35" fill="#C77CFF"/><rect x="298.95" y="323.76" width="1.94" height="1.94" rx="0.35" fill="#C77CFF"/><rect x="303.81" y="330.06" width="1.94" height="1.94" rx="0.35" fill="#00BFC4"/><rect x="302.89" y="333.6" width="1.94" height="1.94" rx="0.35" fill="#00BFC4"/><rect x="318.92" y="333.08" width="1.94" height="1.94" rx="0.35" fill="#00BFC4"/><rect x="326.41" y="331.64" width="1.94" height="1.94" rx="0.35" fill="#00BFC4"/><rect x="331.01" y="334" width="1.94" height="1.94" rx="0.35" fill="#00BFC4"/><rect x="306.18" y="336.62" width="1.94" height="1.94" rx="0.35" fill="#00BFC4"/><rect x="308.8" y="339.25" width="1.94" height="1.94" rx="0.35" fill="#00BFC4"/><rect x="313.4" y="338.59" width="1.94" height="1.94" rx="0.35" fill="#00BFC4"/><rect x="317.87" y="338.33" width="1.94" height="1.94" rx="0.35" fill="#00BFC4"/><rect x="322.21" y="337.02" width="1.94" height="1.94" rx="0.35" fill="#00BFC4"/><rect x="323.52" y="336.36" width="1.94" height="1.94" rx="0.35" fill="#00BFC4"/><rect x="259.8" y="339.25" width="1.94" height="1.94" rx="0.35" fill="#00BFC4"/><rect x="298.29" y="342.27" width="1.94" height="1.94" rx="0.35" fill="#C77CFF"/><rect x="317.87" y="341.48" width="1.94" height="1.94" rx="0.35" fill="#C77CFF"/><rect x="322.47" y="340.95" width="1.94" height="1.94" rx="0.35" fill="#00BFC4"/><rect x="285.42" y="343.84" width="1.94" height="1.94" rx="0.35" fill="#00BFC4"/><rect x="292.64" y="344.89" width="1.94" height="1.94" rx="0.35" fill="#00BFC4"/><rect x="290.67" y="346.86" width="1.94" height="1.94" rx="0.35" fill="#00BFC4"/><rect x="308.02" y="344.24" width="1.94" height="1.94" rx="0.35" fill="#00BFC4"/><rect x="311.3" y="342.92" width="1.94" height="1.94" rx="0.35" fill="#00BFC4"/><rect x="314.32" y="346.73" width="1.94" height="1.94" rx="0.35" fill="#00BFC4"/><rect x="300.79" y="345.81" width="1.94" height="1.94" rx="0.35" fill="#7CAE00"/><rect x="302.23" y="346.86" width="1.94" height="1.94" rx="0.35" fill="#F8766D"/><rect x="312.35" y="346.73" width="1.94" height="1.94" rx="0.35" fill="#F8766D"/><rect x="304.86" y="348.44" width="1.94" height="1.94" rx="0.35" fill="#7CAE00"/><rect x="308.02" y="347.78" width="1.94" height="1.94" rx="0.35" fill="#7CAE00"/><rect x="309.07" y="348.44" width="1.94" height="1.94" rx="0.35" fill="#7CAE00"/><rect x="276.88" y="348.04" width="1.94" height="1.94" rx="0.35" fill="#F8766D"/><rect x="286.07" y="349.35" width="1.94" height="1.94" rx="0.35" fill="#F8766D"/><rect x="262.03" y="350.8" width="1.94" height="1.94" rx="0.35" fill="#00BFC4"/><rect x="278.45" y="350.67" width="1.94" height="1.94" rx="0.35" fill="#7CAE00"/><rect x="274.91" y="351.72" width="1.94" height="1.94" rx="0.35" fill="#00BFC4"/><rect x="270.96" y="354.08" width="1.94" height="1.94" rx="0.35" fill="#00BFC4"/><rect x="273.2" y="355.26" width="1.94" height="1.94" rx="0.35" fill="#7CAE00"/><rect x="273.99" y="354.6" width="1.94" height="1.94" rx="0.35" fill="#7CAE00"/><rect x="279.77" y="355" width="1.94" height="1.94" rx="0.35" fill="#00BFC4"/><rect x="283.71" y="353.95" width="1.94" height="1.94" rx="0.35" fill="#7CAE00"/><rect x="287.12" y="355.92" width="1.94" height="1.94" rx="0.35" fill="#00BFC4"/><rect x="289.36" y="353.69" width="1.94" height="1.94" rx="0.35" fill="#00BFC4"/><rect x="291.07" y="355.92" width="1.94" height="1.94" rx="0.35" fill="#F8766D"/><rect x="284.1" y="352.37" width="1.94" height="1.94" rx="0.35" fill="#00BFC4"/><rect x="292.91" y="351.72" width="1.94" height="1.94" rx="0.35" fill="#00BFC4"/><rect x="299.21" y="351.72" width="1.94" height="1.94" rx="0.35" fill="#00BFC4"/><rect x="299.21" y="353.69" width="1.94" height="1.94" rx="0.35" fill="#00BFC4"/><rect x="301.84" y="353.69" width="1.94" height="1.94" rx="0.35" fill="#C77CFF"/><rect x="298.56" y="356.7" width="1.94" height="1.94" rx="0.35" fill="#00BFC4"/><rect x="296.98" y="358.54" width="1.94" height="1.94" rx="0.35" fill="#00BFC4"/><rect x="252.57" y="354.08" width="1.94" height="1.94" rx="0.35" fill="#7CAE00"/><rect x="302.5" y="350.14" width="1.94" height="1.94" rx="0.35" fill="#7CAE00"/><rect x="305.78" y="353.03" width="1.94" height="1.94" rx="0.35" fill="#7CAE00"/><rect x="306.83" y="351.72" width="1.94" height="1.94" rx="0.35" fill="#7CAE00"/><rect x="305.12" y="351.06" width="1.94" height="1.94" rx="0.35" fill="#00BFC4"/><rect x="309.07" y="355.39" width="1.94" height="1.94" rx="0.35" fill="#7CAE00"/><rect x="311.04" y="353.03" width="1.94" height="1.94" rx="0.35" fill="#7CAE00"/><rect x="310.38" y="355" width="1.94" height="1.94" rx="0.35" fill="#F8766D"/><rect x="313.67" y="356.31" width="1.94" height="1.94" rx="0.35" fill="#7CAE00"/><rect x="314.98" y="352.37" width="1.94" height="1.94" rx="0.35" fill="#7CAE00"/><rect x="312.35" y="353.69" width="1.94" height="1.94" rx="0.35" fill="#F8766D"/><rect x="316.95" y="355" width="1.94" height="1.94" rx="0.35" fill="#00BFC4"/><rect x="320.23" y="353.03" width="1.94" height="1.94" rx="0.35" fill="#00BFC4"/><rect x="319.97" y="356.31" width="1.94" height="1.94" rx="0.35" fill="#F8766D"/><rect x="319.58" y="357.62" width="1.94" height="1.94" rx="0.35" fill="#F8766D"/><rect x="320.63" y="346.2" width="1.94" height="1.94" rx="0.35" fill="#7CAE00"/><rect x="322.6" y="344.89" width="1.94" height="1.94" rx="0.35" fill="#00BFC4"/><rect x="322.6" y="347.78" width="1.94" height="1.94" rx="0.35" fill="#C77CFF"/><rect x="324.44" y="346.73" width="1.94" height="1.94" rx="0.35" fill="#00BFC4"/><rect x="327.07" y="346.2" width="1.94" height="1.94" rx="0.35" fill="#7CAE00"/><rect x="329.17" y="344.1" width="1.94" height="1.94" rx="0.35" fill="#00BFC4"/><rect x="325.75" y="348.04" width="1.94" height="1.94" rx="0.35" fill="#00BFC4"/><rect x="328.12" y="349.75" width="1.94" height="1.94" rx="0.35" fill="#7CAE00"/><rect x="331.01" y="349.35" width="1.94" height="1.94" rx="0.35" fill="#F8766D"/><rect x="332.32" y="350.4" width="1.94" height="1.94" rx="0.35" fill="#7CAE00"/><rect x="323.52" y="351.06" width="1.94" height="1.94" rx="0.35" fill="#00BFC4"/><rect x="324.18" y="354.34" width="1.94" height="1.94" rx="0.35" fill="#7CAE00"/><rect x="322.86" y="356.97" width="1.94" height="1.94" rx="0.35" fill="#00BFC4"/><rect x="323.52" y="359.85" width="1.94" height="1.94" rx="0.35" fill="#00BFC4"/><rect x="321.55" y="359.99" width="1.94" height="1.94" rx="0.35" fill="#F8766D"/><rect x="326.15" y="355" width="1.94" height="1.94" rx="0.35" fill="#00BFC4"/><rect x="326.15" y="356.97" width="1.94" height="1.94" rx="0.35" fill="#F8766D"/><rect x="328.12" y="353.69" width="1.94" height="1.94" rx="0.35" fill="#7CAE00"/><rect x="329.43" y="356.7" width="1.94" height="1.94" rx="0.35" fill="#00BFC4"/><rect x="332.06" y="352.37" width="1.94" height="1.94" rx="0.35" fill="#7CAE00"/><rect x="333.11" y="353.29" width="1.94" height="1.94" rx="0.35" fill="#00BFC4"/><rect x="317.61" y="351.06" width="1.94" height="1.94" rx="0.35" fill="#7CAE00"/><rect x="314.58" y="357.62" width="1.94" height="1.94" rx="0.35" fill="#7CAE00"/><rect x="315.64" y="358.54" width="1.94" height="1.94" rx="0.35" fill="#7CAE00"/><rect x="308.8" y="359.33" width="1.94" height="1.94" rx="0.35" fill="#7CAE00"/><rect x="311.96" y="359.85" width="1.94" height="1.94" rx="0.35" fill="#7CAE00"/><rect x="314.58" y="361.82" width="1.94" height="1.94" rx="0.35" fill="#F8766D"/><rect x="304.21" y="360.9" width="1.94" height="1.94" rx="0.35" fill="#7CAE00"/><rect x="306.44" y="364.19" width="1.94" height="1.94" rx="0.35" fill="#F8766D"/><rect x="315.64" y="364.84" width="1.94" height="1.94" rx="0.35" fill="#7CAE00"/><rect x="289.1" y="364.58" width="1.94" height="1.94" rx="0.35" fill="#7CAE00"/><rect x="291.72" y="367.07" width="1.94" height="1.94" rx="0.35" fill="#00BFC4"/><rect x="332.06" y="358.94" width="1.94" height="1.94" rx="0.35" fill="#7CAE00"/><rect x="332.98" y="361.95" width="1.94" height="1.94" rx="0.35" fill="#00BFC4"/><rect x="375.02" y="311.42" width="1.94" height="1.94" rx="0.35" fill="#C77CFF"/><rect x="339.29" y="315.89" width="1.94" height="1.94" rx="0.35" fill="#C77CFF"/><rect x="342.18" y="318.64" width="1.94" height="1.94" rx="0.35" fill="#C77CFF"/><rect x="348.48" y="316.94" width="1.94" height="1.94" rx="0.35" fill="#00BFC4"/><rect x="339.94" y="321.79" width="1.94" height="1.94" rx="0.35" fill="#00BFC4"/><rect x="368.85" y="320.87" width="1.94" height="1.94" rx="0.35" fill="#C77CFF"/><rect x="373.05" y="323.5" width="1.94" height="1.94" rx="0.35" fill="#C77CFF"/><rect x="364.51" y="329.01" width="1.94" height="1.94" rx="0.35" fill="#00BFC4"/><rect x="368.19" y="333.08" width="1.94" height="1.94" rx="0.35" fill="#F8766D"/><rect x="349.14" y="332.03" width="1.94" height="1.94" rx="0.35" fill="#00BFC4"/><rect x="355.97" y="333.6" width="1.94" height="1.94" rx="0.35" fill="#00BFC4"/><rect x="347.56" y="334.65" width="1.94" height="1.94" rx="0.35" fill="#C77CFF"/><rect x="373.84" y="335.97" width="1.94" height="1.94" rx="0.35" fill="#C77CFF"/><rect x="379.75" y="337.54" width="1.94" height="1.94" rx="0.35" fill="#00BFC4"/><rect x="390.13" y="335.31" width="1.94" height="1.94" rx="0.35" fill="#C77CFF"/><rect x="367.53" y="338.99" width="1.94" height="1.94" rx="0.35" fill="#00BFC4"/><rect x="364.91" y="340.82" width="1.94" height="1.94" rx="0.35" fill="#00BFC4"/><rect x="365.83" y="341.87" width="1.94" height="1.94" rx="0.35" fill="#00BFC4"/><rect x="354.13" y="340.56" width="1.94" height="1.94" rx="0.35" fill="#C77CFF"/><rect x="349.8" y="342.14" width="1.94" height="1.94" rx="0.35" fill="#00BFC4"/><rect x="343.88" y="341.61" width="1.94" height="1.94" rx="0.35" fill="#7CAE00"/><rect x="339.94" y="342.92" width="1.94" height="1.94" rx="0.35" fill="#F8766D"/><rect x="341.26" y="344.24" width="1.94" height="1.94" rx="0.35" fill="#7CAE00"/><rect x="336.92" y="343.58" width="1.94" height="1.94" rx="0.35" fill="#00BFC4"/><rect x="336" y="346.07" width="1.94" height="1.94" rx="0.35" fill="#C77CFF"/><rect x="354.39" y="343.19" width="1.94" height="1.94" rx="0.35" fill="#F8766D"/><rect x="356.63" y="342.92" width="1.94" height="1.94" rx="0.35" fill="#C77CFF"/><rect x="358.6" y="343.84" width="1.94" height="1.94" rx="0.35" fill="#7CAE00"/><rect x="362.54" y="343.19" width="1.94" height="1.94" rx="0.35" fill="#00BFC4"/><rect x="369.77" y="342.79" width="1.94" height="1.94" rx="0.35" fill="#C77CFF"/><rect x="381.99" y="343.84" width="1.94" height="1.94" rx="0.35" fill="#00BFC4"/><rect x="368.85" y="347.12" width="1.94" height="1.94" rx="0.35" fill="#00BFC4"/><rect x="367.53" y="347.78" width="1.94" height="1.94" rx="0.35" fill="#00BFC4"/><rect x="401.04" y="346.73" width="1.94" height="1.94" rx="0.35" fill="#C77CFF"/><rect x="401.3" y="347.78" width="1.94" height="1.94" rx="0.35" fill="#00BFC4"/><rect x="415.75" y="345.81" width="1.94" height="1.94" rx="0.35" fill="#00BFC4"/><rect x="334.69" y="350.4" width="1.94" height="1.94" rx="0.35" fill="#7CAE00"/><rect x="336.66" y="351.06" width="1.94" height="1.94" rx="0.35" fill="#7CAE00"/><rect x="339.29" y="349.75" width="1.94" height="1.94" rx="0.35" fill="#00BFC4"/><rect x="341.26" y="350.4" width="1.94" height="1.94" rx="0.35" fill="#00BFC4"/><rect x="342.57" y="350.14" width="1.94" height="1.94" rx="0.35" fill="#00BFC4"/><rect x="344.54" y="349.35" width="1.94" height="1.94" rx="0.35" fill="#00BFC4"/><rect x="346.51" y="348.83" width="1.94" height="1.94" rx="0.35" fill="#00BFC4"/><rect x="345.46" y="347.12" width="1.94" height="1.94" rx="0.35" fill="#7CAE00"/><rect x="349.14" y="345.81" width="1.94" height="1.94" rx="0.35" fill="#7CAE00"/><rect x="352.42" y="345.81" width="1.94" height="1.94" rx="0.35" fill="#00BFC4"/><rect x="353.74" y="348.17" width="1.94" height="1.94" rx="0.35" fill="#00BFC4"/><rect x="357.02" y="348.17" width="1.94" height="1.94" rx="0.35" fill="#00BFC4"/><rect x="359.65" y="348.17" width="1.94" height="1.94" rx="0.35" fill="#F8766D"/><rect x="361.62" y="349.35" width="1.94" height="1.94" rx="0.35" fill="#00BFC4"/><rect x="347.83" y="350.4" width="1.94" height="1.94" rx="0.35" fill="#00BFC4"/><rect x="349.8" y="349.09" width="1.94" height="1.94" rx="0.35" fill="#00BFC4"/><rect x="372.39" y="349.75" width="1.94" height="1.94" rx="0.35" fill="#00BFC4"/><rect x="378.96" y="350.01" width="1.94" height="1.94" rx="0.35" fill="#00BFC4"/><rect x="382.64" y="351.72" width="1.94" height="1.94" rx="0.35" fill="#00BFC4"/><rect x="386.98" y="351.32" width="1.94" height="1.94" rx="0.35" fill="#00BFC4"/><rect x="335.34" y="353.03" width="1.94" height="1.94" rx="0.35" fill="#7CAE00"/><rect x="336.92" y="353.29" width="1.94" height="1.94" rx="0.35" fill="#F8766D"/><rect x="339.29" y="354.34" width="1.94" height="1.94" rx="0.35" fill="#7CAE00"/><rect x="339.94" y="351.98" width="1.94" height="1.94" rx="0.35" fill="#00BFC4"/><rect x="343.88" y="352.77" width="1.94" height="1.94" rx="0.35" fill="#F8766D"/><rect x="342.57" y="354.08" width="1.94" height="1.94" rx="0.35" fill="#7CAE00"/><rect x="343.88" y="355.65" width="1.94" height="1.94" rx="0.35" fill="#7CAE00"/><rect x="346.51" y="354.34" width="1.94" height="1.94" rx="0.35" fill="#F8766D"/><rect x="346.91" y="356.05" width="1.94" height="1.94" rx="0.35" fill="#00BFC4"/><rect x="349.14" y="353.03" width="1.94" height="1.94" rx="0.35" fill="#7CAE00"/><rect x="350.45" y="352.37" width="1.94" height="1.94" rx="0.35" fill="#00BFC4"/><rect x="351.11" y="354.34" width="1.94" height="1.94" rx="0.35" fill="#F8766D"/><rect x="354.39" y="351.98" width="1.94" height="1.94" rx="0.35" fill="#7CAE00"/><rect x="355.31" y="352.77" width="1.94" height="1.94" rx="0.35" fill="#7CAE00"/><rect x="354" y="354.74" width="1.94" height="1.94" rx="0.35" fill="#7CAE00"/><rect x="360.96" y="353.29" width="1.94" height="1.94" rx="0.35" fill="#00BFC4"/><rect x="360.7" y="353.03" width="1.94" height="1.94" rx="0.35" fill="#C77CFF"/><rect x="364.51" y="353.42" width="1.94" height="1.94" rx="0.35" fill="#7CAE00"/><rect x="363.2" y="351.06" width="1.94" height="1.94" rx="0.35" fill="#00BFC4"/><rect x="365.56" y="351.45" width="1.94" height="1.94" rx="0.35" fill="#00BFC4"/><rect x="367.8" y="351.06" width="1.94" height="1.94" rx="0.35" fill="#00BFC4"/><rect x="336.66" y="357.62" width="1.94" height="1.94" rx="0.35" fill="#00BFC4"/><rect x="337.97" y="358.54" width="1.94" height="1.94" rx="0.35" fill="#F8766D"/><rect x="339.29" y="356.31" width="1.94" height="1.94" rx="0.35" fill="#F8766D"/><rect x="340.86" y="357.89" width="1.94" height="1.94" rx="0.35" fill="#7CAE00"/><rect x="349.14" y="357.62" width="1.94" height="1.94" rx="0.35" fill="#7CAE00"/><rect x="350.45" y="358.54" width="1.94" height="1.94" rx="0.35" fill="#7CAE00"/><rect x="354.66" y="358.28" width="1.94" height="1.94" rx="0.35" fill="#7CAE00"/><rect x="356.37" y="359.33" width="1.94" height="1.94" rx="0.35" fill="#00BFC4"/><rect x="358.73" y="358.28" width="1.94" height="1.94" rx="0.35" fill="#00BFC4"/><rect x="360.96" y="358.67" width="1.94" height="1.94" rx="0.35" fill="#7CAE00"/><rect x="361.88" y="356.97" width="1.94" height="1.94" rx="0.35" fill="#00BFC4"/><rect x="363.59" y="357.62" width="1.94" height="1.94" rx="0.35" fill="#7CAE00"/><rect x="372.13" y="355.65" width="1.94" height="1.94" rx="0.35" fill="#00BFC4"/><rect x="373.45" y="355.92" width="1.94" height="1.94" rx="0.35" fill="#7CAE00"/><rect x="376.07" y="356.97" width="1.94" height="1.94" rx="0.35" fill="#00BFC4"/><rect x="378.31" y="356.31" width="1.94" height="1.94" rx="0.35" fill="#7CAE00"/><rect x="375.81" y="360.25" width="1.94" height="1.94" rx="0.35" fill="#F8766D"/><rect x="381.59" y="359.59" width="1.94" height="1.94" rx="0.35" fill="#7CAE00"/><rect x="385.93" y="357.89" width="1.94" height="1.94" rx="0.35" fill="#7CAE00"/><rect x="387.9" y="361.56" width="1.94" height="1.94" rx="0.35" fill="#7CAE00"/><rect x="343.23" y="360.25" width="1.94" height="1.94" rx="0.35" fill="#00BFC4"/><rect x="350.06" y="361.3" width="1.94" height="1.94" rx="0.35" fill="#00BFC4"/><rect x="336.66" y="361.82" width="1.94" height="1.94" rx="0.35" fill="#00BFC4"/><rect x="342.18" y="362.87" width="1.94" height="1.94" rx="0.35" fill="#7CAE00"/><rect x="354" y="363.53" width="1.94" height="1.94" rx="0.35" fill="#00BFC4"/><rect x="382.51" y="223.38" width="1.94" height="1.94" rx="0.35" fill="#C77CFF"/><rect x="388.56" y="271.67" width="1.94" height="1.94" rx="0.35" fill="#00BFC4"/><rect x="368.85" y="292.13" width="1.94" height="1.94" rx="0.35" fill="#C77CFF"/><rect x="327.33" y="307.88" width="1.94" height="1.94" rx="0.35" fill="#C77CFF"/><rect x="330.75" y="307.88" width="1.94" height="1.94" rx="0.35" fill="#00BFC4"/></g>
<polygon points="252.9,351.3 255.68,351.22 258.47,351.14 261.25,351.05 264.04,350.97 266.82,350.88 269.61,350.8 272.39,350.71 275.18,350.63 277.96,350.54 280.75,350.45 283.53,350.36 286.32,350.27 289.1,350.18 291.89,350.08 294.67,349.98 297.46,349.88 300.24,349.78 303.03,349.67 305.81,349.56 308.59,349.45 311.38,349.32 314.16,349.19 316.95,349.06 319.73,348.91 322.52,348.75 325.3,348.58 328.09,348.39 330.87,348.19 333.66,347.96 336.44,347.72 339.23,347.46 342.01,347.17 344.8,346.87 347.58,346.55 350.37,346.21 353.15,345.87 355.94,345.51 358.72,345.14 361.51,344.77 364.29,344.39 367.07,344.01 369.86,343.63 372.64,343.24 375.43,342.85 378.21,342.45 381,342.05 383.78,341.66 386.57,341.26 389.35,340.86 392.14,340.45 394.92,340.05 397.71,339.65 400.49,339.24 403.28,338.84 406.06,338.43 408.85,338.02 411.63,337.62 414.42,337.21 417.2,336.8 417.2,347.8 414.42,347.86 411.63,347.93 408.85,347.99 406.06,348.05 403.28,348.12 400.49,348.19 397.71,348.25 394.92,348.32 392.14,348.39 389.35,348.46 386.57,348.53 383.78,348.6 381,348.67 378.21,348.75 375.43,348.82 372.64,348.9 369.86,348.98 367.07,349.07 364.29,349.16 361.51,349.25 358.72,349.35 355.94,349.46 353.15,349.57 350.37,349.7 347.58,349.83 344.8,349.98 342.01,350.15 339.23,350.34 336.44,350.54 333.66,350.77 330.87,351.02 328.09,351.29 325.3,351.57 322.52,351.87 319.73,352.18 316.95,352.51 314.16,352.84 311.38,353.18 308.59,353.53 305.81,353.88 303.03,354.25 300.24,354.61 297.46,354.98 294.67,355.35 291.89,355.72 289.1,356.1 286.32,356.48 283.53,356.86 280.75,357.24 277.96,357.62 275.18,358 272.39,358.39 269.61,358.77 266.82,359.16 264.04,359.55 261.25,359.93 258.47,360.32 255.68,360.71 252.9,361.1" fill="#999999" fill-opacity="0.4"/>
<line x1="252.9" y1="356.2" x2="417.2" y2="342.3" stroke="#3366FF" stroke-width="1.2"/>
<text x="418.6" y="228.3" font-size="8.05" font-weight="bold" text-anchor="end" fill="#000" stroke="#000" stroke-width="0.05" font-family="Liberation Sans, sans-serif">r = 0.19, P = 0.002</text>
<text x="335" y="394.8" font-size="11.2" font-weight="bold" text-anchor="middle" fill="#000" stroke="#000" stroke-width="0.28" font-family="Liberation Sans, sans-serif">Adjusted IgpWMH</text>
<text transform="translate(227.3,295.8) rotate(-90)" font-size="11.2" font-weight="bold" text-anchor="middle" fill="#000" stroke="#000" stroke-width="0.28" font-family="Liberation Sans, sans-serif">Adjusted Executive</text>
<text x="226.1" y="217" font-size="14.8" font-weight="bold" fill="#000" stroke="#000" stroke-width="0.18" font-family="Liberation Sans, sans-serif">E</text>
<rect x="457.6" y="216.8" width="183.5" height="157.8" fill="#EBEBEB"/>
<line x1="486.25" y1="216.8" x2="486.25" y2="374.6" stroke="#F0F0F0" stroke-width="0.8"/>
<line x1="528.15" y1="216.8" x2="528.15" y2="374.6" stroke="#F0F0F0" stroke-width="0.8"/>
<line x1="570.05" y1="216.8" x2="570.05" y2="374.6" stroke="#F0F0F0" stroke-width="0.8"/>
<line x1="611.95" y1="216.8" x2="611.95" y2="374.6" stroke="#F0F0F0" stroke-width="0.8"/>
<line x1="457.6" y1="366.1" x2="641.1" y2="366.1" stroke="#F0F0F0" stroke-width="0.8"/>
<line x1="457.6" y1="333.9" x2="641.1" y2="333.9" stroke="#F0F0F0" stroke-width="0.8"/>
<line x1="457.6" y1="301.7" x2="641.1" y2="301.7" stroke="#F0F0F0" stroke-width="0.8"/>
<line x1="457.6" y1="269.5" x2="641.1" y2="269.5" stroke="#F0F0F0" stroke-width="0.8"/>
<line x1="457.6" y1="237.3" x2="641.1" y2="237.3" stroke="#F0F0F0" stroke-width="0.8"/>
<line x1="465.3" y1="216.8" x2="465.3" y2="374.6" stroke="#F4F4F4" stroke-width="1.1"/>
<line x1="507.2" y1="216.8" x2="507.2" y2="374.6" stroke="#F4F4F4" stroke-width="1.1"/>
<line x1="549.1" y1="216.8" x2="549.1" y2="374.6" stroke="#F4F4F4" stroke-width="1.1"/>
<line x1="591" y1="216.8" x2="591" y2="374.6" stroke="#F4F4F4" stroke-width="1.1"/>
<line x1="632.9" y1="216.8" x2="632.9" y2="374.6" stroke="#F4F4F4" stroke-width="1.1"/>
<line x1="457.6" y1="350" x2="641.1" y2="350" stroke="#F4F4F4" stroke-width="1.1"/>
<line x1="457.6" y1="317.8" x2="641.1" y2="317.8" stroke="#F4F4F4" stroke-width="1.1"/>
<line x1="457.6" y1="285.6" x2="641.1" y2="285.6" stroke="#F4F4F4" stroke-width="1.1"/>
<line x1="457.6" y1="253.4" x2="641.1" y2="253.4" stroke="#F4F4F4" stroke-width="1.1"/>
<line x1="457.6" y1="221.2" x2="641.1" y2="221.2" stroke="#F4F4F4" stroke-width="1.1"/>
<line x1="465.3" y1="374.6" x2="465.3" y2="376.6" stroke="#777" stroke-width="0.7"/>
<text x="465.3" y="384" font-size="9.4" fill="#4D4D4D" stroke="#4D4D4D" stroke-width="0.5" text-anchor="middle" font-family="Liberation Sans, sans-serif">-2</text>
<line x1="507.2" y1="374.6" x2="507.2" y2="376.6" stroke="#777" stroke-width="0.7"/>
<text x="507.2" y="384" font-size="9.4" fill="#4D4D4D" stroke="#4D4D4D" stroke-width="0.5" text-anchor="middle" font-family="Liberation Sans, sans-serif">-&#8199;</text><path transform="translate(506.15,384) scale(9.4)" d="M0.283,0L0.373,0L0.373,-0.716L0.315,-0.716C0.29,-0.65 0.22,-0.57 0.109,-0.52L0.109,-0.445C0.18,-0.47 0.24,-0.51 0.283,-0.55Z" fill="#4D4D4D" stroke="#4D4D4D" stroke-width="0.0532"/>
<line x1="549.1" y1="374.6" x2="549.1" y2="376.6" stroke="#777" stroke-width="0.7"/>
<text x="549.1" y="384" font-size="9.4" fill="#4D4D4D" stroke="#4D4D4D" stroke-width="0.5" text-anchor="middle" font-family="Liberation Sans, sans-serif">0</text>
<line x1="591" y1="374.6" x2="591" y2="376.6" stroke="#777" stroke-width="0.7"/>
<text x="591" y="384" font-size="9.4" fill="#4D4D4D" stroke="#4D4D4D" stroke-width="0.5" text-anchor="middle" font-family="Liberation Sans, sans-serif">&#8199;</text><path transform="translate(588.39,384) scale(9.4)" d="M0.283,0L0.373,0L0.373,-0.716L0.315,-0.716C0.29,-0.65 0.22,-0.57 0.109,-0.52L0.109,-0.445C0.18,-0.47 0.24,-0.51 0.283,-0.55Z" fill="#4D4D4D" stroke="#4D4D4D" stroke-width="0.0532"/>
<line x1="632.9" y1="374.6" x2="632.9" y2="376.6" stroke="#777" stroke-width="0.7"/>
<text x="632.9" y="384" font-size="9.4" fill="#4D4D4D" stroke="#4D4D4D" stroke-width="0.5" text-anchor="middle" font-family="Liberation Sans, sans-serif">2</text>
<line x1="455.6" y1="350" x2="457.6" y2="350" stroke="#777" stroke-width="0.7"/>
<text x="455.4" y="353.3" font-size="9.4" fill="#4D4D4D" stroke="#4D4D4D" stroke-width="0.5" text-anchor="end" font-family="Liberation Sans, sans-serif">-2</text>
<line x1="455.6" y1="317.8" x2="457.6" y2="317.8" stroke="#777" stroke-width="0.7"/>
<text x="455.4" y="321.1" font-size="9.4" fill="#4D4D4D" stroke="#4D4D4D" stroke-width="0.5" text-anchor="end" font-family="Liberation Sans, sans-serif">-&#8199;</text><path transform="translate(450.17,321.1) scale(9.4)" d="M0.283,0L0.373,0L0.373,-0.716L0.315,-0.716C0.29,-0.65 0.22,-0.57 0.109,-0.52L0.109,-0.445C0.18,-0.47 0.24,-0.51 0.283,-0.55Z" fill="#4D4D4D" stroke="#4D4D4D" stroke-width="0.0532"/>
<line x1="455.6" y1="285.6" x2="457.6" y2="285.6" stroke="#777" stroke-width="0.7"/>
<text x="455.4" y="288.9" font-size="9.4" fill="#4D4D4D" stroke="#4D4D4D" stroke-width="0.5" text-anchor="end" font-family="Liberation Sans, sans-serif">0</text>
<line x1="455.6" y1="253.4" x2="457.6" y2="253.4" stroke="#777" stroke-width="0.7"/>
<text x="455.4" y="256.7" font-size="9.4" fill="#4D4D4D" stroke="#4D4D4D" stroke-width="0.5" text-anchor="end" font-family="Liberation Sans, sans-serif">&#8199;</text><path transform="translate(450.17,256.7) scale(9.4)" d="M0.283,0L0.373,0L0.373,-0.716L0.315,-0.716C0.29,-0.65 0.22,-0.57 0.109,-0.52L0.109,-0.445C0.18,-0.47 0.24,-0.51 0.283,-0.55Z" fill="#4D4D4D" stroke="#4D4D4D" stroke-width="0.0532"/>
<line x1="455.6" y1="221.2" x2="457.6" y2="221.2" stroke="#777" stroke-width="0.7"/>
<text x="455.4" y="224.5" font-size="9.4" fill="#4D4D4D" stroke="#4D4D4D" stroke-width="0.5" text-anchor="end" font-family="Liberation Sans, sans-serif">2</text>
<g><rect x="473.22" y="298.39" width="1.94" height="1.94" rx="0.35" fill="#00BFC4"/><rect x="484.5" y="303.09" width="1.94" height="1.94" rx="0.35" fill="#00BFC4"/><rect x="495.92" y="295.3" width="1.94" height="1.94" rx="0.35" fill="#00BFC4"/><rect x="499.01" y="297.45" width="1.94" height="1.94" rx="0.35" fill="#00BFC4"/><rect x="501.69" y="296.37" width="1.94" height="1.94" rx="0.35" fill="#00BFC4"/><rect x="511.1" y="295.43" width="1.94" height="1.94" rx="0.35" fill="#00BFC4"/><rect x="513.38" y="297.05" width="1.94" height="1.94" rx="0.35" fill="#C77CFF"/><rect x="514.72" y="297.45" width="1.94" height="1.94" rx="0.35" fill="#7CAE00"/><rect x="516.74" y="299.87" width="1.94" height="1.94" rx="0.35" fill="#7CAE00"/><rect x="507.74" y="303.49" width="1.94" height="1.94" rx="0.35" fill="#00BFC4"/><rect x="512.84" y="308.47" width="1.94" height="1.94" rx="0.35" fill="#C77CFF"/><rect x="520.9" y="307.93" width="1.94" height="1.94" rx="0.35" fill="#7CAE00"/><rect x="521.84" y="301.48" width="1.94" height="1.94" rx="0.35" fill="#00BFC4"/><rect x="522.78" y="312.76" width="1.94" height="1.94" rx="0.35" fill="#00BFC4"/><rect x="529.9" y="296.37" width="1.94" height="1.94" rx="0.35" fill="#00BFC4"/><rect x="529.63" y="298.12" width="1.94" height="1.94" rx="0.35" fill="#7CAE00"/><rect x="536.35" y="297.99" width="1.94" height="1.94" rx="0.35" fill="#00BFC4"/><rect x="541.31" y="298.12" width="1.94" height="1.94" rx="0.35" fill="#F8766D"/><rect x="542.25" y="297.72" width="1.94" height="1.94" rx="0.35" fill="#F8766D"/><rect x="546.02" y="297.05" width="1.94" height="1.94" rx="0.35" fill="#00BFC4"/><rect x="534.87" y="301.21" width="1.94" height="1.94" rx="0.35" fill="#00BFC4"/><rect x="532.58" y="304.84" width="1.94" height="1.94" rx="0.35" fill="#00BFC4"/><rect x="533.26" y="305.78" width="1.94" height="1.94" rx="0.35" fill="#00BFC4"/><rect x="535.27" y="307.39" width="1.94" height="1.94" rx="0.35" fill="#00BFC4"/><rect x="544.4" y="308.06" width="1.94" height="1.94" rx="0.35" fill="#00BFC4"/><rect x="535.67" y="312.63" width="1.94" height="1.94" rx="0.35" fill="#00BFC4"/><rect x="536.21" y="315.18" width="1.94" height="1.94" rx="0.35" fill="#C77CFF"/><rect x="534.2" y="316.93" width="1.94" height="1.94" rx="0.35" fill="#00BFC4"/><rect x="543.06" y="316.8" width="1.94" height="1.94" rx="0.35" fill="#00BFC4"/><rect x="527.88" y="320.96" width="1.94" height="1.94" rx="0.35" fill="#00BFC4"/><rect x="532.05" y="320.02" width="1.94" height="1.94" rx="0.35" fill="#00BFC4"/><rect x="538.36" y="325.8" width="1.94" height="1.94" rx="0.35" fill="#00BFC4"/><rect x="544" y="325.39" width="1.94" height="1.94" rx="0.35" fill="#00BFC4"/><rect x="530.57" y="335.07" width="1.94" height="1.94" rx="0.35" fill="#C77CFF"/><rect x="538.63" y="336.95" width="1.94" height="1.94" rx="0.35" fill="#00BFC4"/><rect x="541.58" y="334.93" width="1.94" height="1.94" rx="0.35" fill="#C77CFF"/><rect x="514.05" y="340.84" width="1.94" height="1.94" rx="0.35" fill="#C77CFF"/><rect x="542.39" y="354.55" width="1.94" height="1.94" rx="0.35" fill="#C77CFF"/><rect x="550.98" y="295.7" width="1.94" height="1.94" rx="0.35" fill="#00BFC4"/><rect x="555.82" y="297.05" width="1.94" height="1.94" rx="0.35" fill="#00BFC4"/><rect x="557.43" y="297.72" width="1.94" height="1.94" rx="0.35" fill="#C77CFF"/><rect x="559.85" y="296.1" width="1.94" height="1.94" rx="0.35" fill="#7CAE00"/><rect x="560.39" y="297.05" width="1.94" height="1.94" rx="0.35" fill="#7CAE00"/><rect x="561.46" y="297.72" width="1.94" height="1.94" rx="0.35" fill="#00BFC4"/><rect x="563.88" y="296.64" width="1.94" height="1.94" rx="0.35" fill="#7CAE00"/><rect x="574.89" y="295.7" width="1.94" height="1.94" rx="0.35" fill="#00BFC4"/><rect x="593.69" y="295.43" width="1.94" height="1.94" rx="0.35" fill="#00BFC4"/><rect x="616.93" y="295.43" width="1.94" height="1.94" rx="0.35" fill="#C77CFF"/><rect x="571.94" y="299.46" width="1.94" height="1.94" rx="0.35" fill="#00BFC4"/><rect x="578.65" y="300.81" width="1.94" height="1.94" rx="0.35" fill="#7CAE00"/><rect x="586.31" y="299.06" width="1.94" height="1.94" rx="0.35" fill="#C77CFF"/><rect x="587.25" y="300.4" width="1.94" height="1.94" rx="0.35" fill="#00BFC4"/><rect x="573.82" y="303.76" width="1.94" height="1.94" rx="0.35" fill="#F8766D"/><rect x="569.92" y="304.84" width="1.94" height="1.94" rx="0.35" fill="#7CAE00"/><rect x="565.89" y="306.05" width="1.94" height="1.94" rx="0.35" fill="#7CAE00"/><rect x="565.22" y="306.32" width="1.94" height="1.94" rx="0.35" fill="#00BFC4"/><rect x="578.92" y="306.18" width="1.94" height="1.94" rx="0.35" fill="#00BFC4"/><rect x="584.02" y="303.76" width="1.94" height="1.94" rx="0.35" fill="#00BFC4"/><rect x="586.98" y="302.82" width="1.94" height="1.94" rx="0.35" fill="#00BFC4"/><rect x="585.9" y="306.05" width="1.94" height="1.94" rx="0.35" fill="#C77CFF"/><rect x="593.96" y="307.79" width="1.94" height="1.94" rx="0.35" fill="#C77CFF"/><rect x="597.45" y="306.05" width="1.94" height="1.94" rx="0.35" fill="#C77CFF"/><rect x="574.89" y="308.87" width="1.94" height="1.94" rx="0.35" fill="#C77CFF"/><rect x="591.01" y="311.56" width="1.94" height="1.94" rx="0.35" fill="#C77CFF"/><rect x="617.87" y="311.82" width="1.94" height="1.94" rx="0.35" fill="#00BFC4"/><rect x="632.24" y="306.85" width="1.94" height="1.94" rx="0.35" fill="#00BFC4"/><rect x="578.25" y="312.09" width="1.94" height="1.94" rx="0.35" fill="#00BFC4"/><rect x="581.61" y="313.44" width="1.94" height="1.94" rx="0.35" fill="#00BFC4"/><rect x="567.24" y="315.18" width="1.94" height="1.94" rx="0.35" fill="#00BFC4"/><rect x="575.56" y="315.59" width="1.94" height="1.94" rx="0.35" fill="#00BFC4"/><rect x="578.52" y="316.8" width="1.94" height="1.94" rx="0.35" fill="#00BFC4"/><rect x="555.01" y="315.59" width="1.94" height="1.94" rx="0.35" fill="#C77CFF"/><rect x="553.67" y="318.14" width="1.94" height="1.94" rx="0.35" fill="#00BFC4"/><rect x="563.07" y="318.81" width="1.94" height="1.94" rx="0.35" fill="#00BFC4"/><rect x="556.09" y="320.29" width="1.94" height="1.94" rx="0.35" fill="#C77CFF"/><rect x="582.55" y="320.96" width="1.94" height="1.94" rx="0.35" fill="#00BFC4"/><rect x="587.65" y="320.96" width="1.94" height="1.94" rx="0.35" fill="#C77CFF"/><rect x="588.72" y="320.42" width="1.94" height="1.94" rx="0.35" fill="#C77CFF"/><rect x="603.77" y="321.23" width="1.94" height="1.94" rx="0.35" fill="#00BFC4"/><rect x="558.51" y="328.22" width="1.94" height="1.94" rx="0.35" fill="#C77CFF"/><rect x="562.54" y="328.35" width="1.94" height="1.94" rx="0.35" fill="#C77CFF"/><rect x="569.12" y="329.56" width="1.94" height="1.94" rx="0.35" fill="#00BFC4"/><rect x="549.1" y="332.25" width="1.94" height="1.94" rx="0.35" fill="#00BFC4"/><rect x="575.56" y="331.31" width="1.94" height="1.94" rx="0.35" fill="#C77CFF"/><rect x="580.94" y="331.44" width="1.94" height="1.94" rx="0.35" fill="#C77CFF"/><rect x="569.52" y="336.28" width="1.94" height="1.94" rx="0.35" fill="#C77CFF"/><rect x="583.35" y="342.05" width="1.94" height="1.94" rx="0.35" fill="#C77CFF"/><rect x="606.05" y="344.47" width="1.94" height="1.94" rx="0.35" fill="#C77CFF"/><rect x="562.54" y="361.8" width="1.94" height="1.94" rx="0.35" fill="#C77CFF"/><rect x="560.79" y="366.64" width="1.94" height="1.94" rx="0.35" fill="#C77CFF"/><rect x="489.61" y="222.75" width="1.94" height="1.94" rx="0.35" fill="#F8766D"/><rect x="517.14" y="223.42" width="1.94" height="1.94" rx="0.35" fill="#7CAE00"/><rect x="484.91" y="232.15" width="1.94" height="1.94" rx="0.35" fill="#7CAE00"/><rect x="502.77" y="233.9" width="1.94" height="1.94" rx="0.35" fill="#00BFC4"/><rect x="534.33" y="233.09" width="1.94" height="1.94" rx="0.35" fill="#F8766D"/><rect x="527.88" y="236.18" width="1.94" height="1.94" rx="0.35" fill="#7CAE00"/><rect x="526.94" y="241.02" width="1.94" height="1.94" rx="0.35" fill="#F8766D"/><rect x="539.03" y="240.48" width="1.94" height="1.94" rx="0.35" fill="#7CAE00"/><rect x="540.91" y="239.94" width="1.94" height="1.94" rx="0.35" fill="#00BFC4"/><rect x="514.86" y="243.84" width="1.94" height="1.94" rx="0.35" fill="#F8766D"/><rect x="517.81" y="243.98" width="1.94" height="1.94" rx="0.35" fill="#7CAE00"/><rect x="505.99" y="245.32" width="1.94" height="1.94" rx="0.35" fill="#F8766D"/><rect x="499.95" y="247.6" width="1.94" height="1.94" rx="0.35" fill="#7CAE00"/><rect x="516.87" y="248.95" width="1.94" height="1.94" rx="0.35" fill="#F8766D"/><rect x="525.47" y="249.35" width="1.94" height="1.94" rx="0.35" fill="#7CAE00"/><rect x="531.91" y="251.23" width="1.94" height="1.94" rx="0.35" fill="#00BFC4"/><rect x="536.35" y="247.6" width="1.94" height="1.94" rx="0.35" fill="#00BFC4"/><rect x="536.61" y="249.35" width="1.94" height="1.94" rx="0.35" fill="#00BFC4"/><rect x="539.97" y="245.86" width="1.94" height="1.94" rx="0.35" fill="#00BFC4"/><rect x="545.75" y="251.63" width="1.94" height="1.94" rx="0.35" fill="#7CAE00"/><rect x="547.76" y="239.14" width="1.94" height="1.94" rx="0.35" fill="#F8766D"/><rect x="497.4" y="255.26" width="1.94" height="1.94" rx="0.35" fill="#7CAE00"/><rect x="514.18" y="254.32" width="1.94" height="1.94" rx="0.35" fill="#00BFC4"/><rect x="516.47" y="257.01" width="1.94" height="1.94" rx="0.35" fill="#7CAE00"/><rect x="521.17" y="254.72" width="1.94" height="1.94" rx="0.35" fill="#7CAE00"/><rect x="508.81" y="257.95" width="1.94" height="1.94" rx="0.35" fill="#00BFC4"/><rect x="501.02" y="260.77" width="1.94" height="1.94" rx="0.35" fill="#00BFC4"/><rect x="526.14" y="258.75" width="1.94" height="1.94" rx="0.35" fill="#7CAE00"/><rect x="540.91" y="254.05" width="1.94" height="1.94" rx="0.35" fill="#7CAE00"/><rect x="542.66" y="256.07" width="1.94" height="1.94" rx="0.35" fill="#7CAE00"/><rect x="539.97" y="257.68" width="1.94" height="1.94" rx="0.35" fill="#F8766D"/><rect x="543.6" y="256.6" width="1.94" height="1.94" rx="0.35" fill="#00BFC4"/><rect x="538.9" y="258.35" width="1.94" height="1.94" rx="0.35" fill="#7CAE00"/><rect x="526.94" y="263.99" width="1.94" height="1.94" rx="0.35" fill="#7CAE00"/><rect x="532.18" y="263.99" width="1.94" height="1.94" rx="0.35" fill="#F8766D"/><rect x="535" y="263.05" width="1.94" height="1.94" rx="0.35" fill="#7CAE00"/><rect x="543.06" y="263.05" width="1.94" height="1.94" rx="0.35" fill="#7CAE00"/><rect x="547.63" y="266.01" width="1.94" height="1.94" rx="0.35" fill="#7CAE00"/><rect x="499.95" y="266.14" width="1.94" height="1.94" rx="0.35" fill="#F8766D"/><rect x="516.74" y="266.01" width="1.94" height="1.94" rx="0.35" fill="#7CAE00"/><rect x="519.15" y="265.74" width="1.94" height="1.94" rx="0.35" fill="#00BFC4"/><rect x="522.11" y="266.14" width="1.94" height="1.94" rx="0.35" fill="#7CAE00"/><rect x="523.85" y="267.08" width="1.94" height="1.94" rx="0.35" fill="#7CAE00"/><rect x="529.63" y="268.16" width="1.94" height="1.94" rx="0.35" fill="#7CAE00"/><rect x="534.33" y="268.83" width="1.94" height="1.94" rx="0.35" fill="#F8766D"/><rect x="543.06" y="267.08" width="1.94" height="1.94" rx="0.35" fill="#F8766D"/><rect x="505.32" y="268.43" width="1.94" height="1.94" rx="0.35" fill="#00BFC4"/><rect x="513.38" y="268.02" width="1.94" height="1.94" rx="0.35" fill="#7CAE00"/><rect x="521.17" y="269.5" width="1.94" height="1.94" rx="0.35" fill="#00BFC4"/><rect x="525.87" y="270.85" width="1.94" height="1.94" rx="0.35" fill="#F8766D"/><rect x="523.18" y="272.19" width="1.94" height="1.94" rx="0.35" fill="#7CAE00"/><rect x="528.15" y="273.13" width="1.94" height="1.94" rx="0.35" fill="#7CAE00"/><rect x="532.85" y="273.8" width="1.94" height="1.94" rx="0.35" fill="#7CAE00"/><rect x="544" y="271.79" width="1.94" height="1.94" rx="0.35" fill="#7CAE00"/><rect x="547.09" y="272.86" width="1.94" height="1.94" rx="0.35" fill="#C77CFF"/><rect x="545.34" y="273.4" width="1.94" height="1.94" rx="0.35" fill="#00BFC4"/><rect x="474.16" y="273.13" width="1.94" height="1.94" rx="0.35" fill="#00BFC4"/><rect x="485.85" y="268.83" width="1.94" height="1.94" rx="0.35" fill="#7CAE00"/><rect x="491.22" y="275.15" width="1.94" height="1.94" rx="0.35" fill="#7CAE00"/><rect x="525.87" y="275.15" width="1.94" height="1.94" rx="0.35" fill="#F8766D"/><rect x="537.96" y="275.82" width="1.94" height="1.94" rx="0.35" fill="#7CAE00"/><rect x="539.57" y="276.22" width="1.94" height="1.94" rx="0.35" fill="#00BFC4"/><rect x="486.52" y="278.77" width="1.94" height="1.94" rx="0.35" fill="#00BFC4"/><rect x="481.28" y="282.8" width="1.94" height="1.94" rx="0.35" fill="#00BFC4"/><rect x="512.84" y="280.79" width="1.94" height="1.94" rx="0.35" fill="#F8766D"/><rect x="524.79" y="278.5" width="1.94" height="1.94" rx="0.35" fill="#00BFC4"/><rect x="528.15" y="278.1" width="1.94" height="1.94" rx="0.35" fill="#00BFC4"/><rect x="536.35" y="279.85" width="1.94" height="1.94" rx="0.35" fill="#00BFC4"/><rect x="539.03" y="281.19" width="1.94" height="1.94" rx="0.35" fill="#00BFC4"/><rect x="541.05" y="280.52" width="1.94" height="1.94" rx="0.35" fill="#7CAE00"/><rect x="543.6" y="278.91" width="1.94" height="1.94" rx="0.35" fill="#7CAE00"/><rect x="546.69" y="278.91" width="1.94" height="1.94" rx="0.35" fill="#7CAE00"/><rect x="535.27" y="280.52" width="1.94" height="1.94" rx="0.35" fill="#C77CFF"/><rect x="541.99" y="281.86" width="1.94" height="1.94" rx="0.35" fill="#00BFC4"/><rect x="521.84" y="282.8" width="1.94" height="1.94" rx="0.35" fill="#00BFC4"/><rect x="520.5" y="283.61" width="1.94" height="1.94" rx="0.35" fill="#00BFC4"/><rect x="519.56" y="284.95" width="1.94" height="1.94" rx="0.35" fill="#7CAE00"/><rect x="520.77" y="285.49" width="1.94" height="1.94" rx="0.35" fill="#7CAE00"/><rect x="523.85" y="285.89" width="1.94" height="1.94" rx="0.35" fill="#F8766D"/><rect x="526.81" y="286.16" width="1.94" height="1.94" rx="0.35" fill="#00BFC4"/><rect x="525.2" y="284.82" width="1.94" height="1.94" rx="0.35" fill="#00BFC4"/><rect x="465.16" y="286.97" width="1.94" height="1.94" rx="0.35" fill="#7CAE00"/><rect x="492.02" y="286.16" width="1.94" height="1.94" rx="0.35" fill="#00BFC4"/><rect x="503.04" y="285.89" width="1.94" height="1.94" rx="0.35" fill="#00BFC4"/><rect x="510.16" y="286.16" width="1.94" height="1.94" rx="0.35" fill="#C77CFF"/><rect x="509.75" y="288.18" width="1.94" height="1.94" rx="0.35" fill="#00BFC4"/><rect x="517.81" y="288.58" width="1.94" height="1.94" rx="0.35" fill="#00BFC4"/><rect x="519.83" y="289.25" width="1.94" height="1.94" rx="0.35" fill="#00BFC4"/><rect x="535.94" y="286.83" width="1.94" height="1.94" rx="0.35" fill="#00BFC4"/><rect x="539.97" y="286.57" width="1.94" height="1.94" rx="0.35" fill="#7CAE00"/><rect x="541.99" y="289.25" width="1.94" height="1.94" rx="0.35" fill="#7CAE00"/><rect x="545.34" y="289.66" width="1.94" height="1.94" rx="0.35" fill="#00BFC4"/><rect x="546.69" y="290.87" width="1.94" height="1.94" rx="0.35" fill="#F8766D"/><rect x="498.74" y="290.33" width="1.94" height="1.94" rx="0.35" fill="#00BFC4"/><rect x="498.07" y="292.61" width="1.94" height="1.94" rx="0.35" fill="#00BFC4"/><rect x="495.92" y="294.22" width="1.94" height="1.94" rx="0.35" fill="#00BFC4"/><rect x="503.71" y="292.61" width="1.94" height="1.94" rx="0.35" fill="#F8766D"/><rect x="513.11" y="293.28" width="1.94" height="1.94" rx="0.35" fill="#00BFC4"/><rect x="538.9" y="292.21" width="1.94" height="1.94" rx="0.35" fill="#7CAE00"/><rect x="540.64" y="292.34" width="1.94" height="1.94" rx="0.35" fill="#00BFC4"/><rect x="542.39" y="292.34" width="1.94" height="1.94" rx="0.35" fill="#00BFC4"/><rect x="527.62" y="293.96" width="1.94" height="1.94" rx="0.35" fill="#00BFC4"/><rect x="529.23" y="294.22" width="1.94" height="1.94" rx="0.35" fill="#00BFC4"/><rect x="548.7" y="239.14" width="1.94" height="1.94" rx="0.35" fill="#F8766D"/><rect x="551.79" y="249.35" width="1.94" height="1.94" rx="0.35" fill="#F8766D"/><rect x="556.76" y="247.87" width="1.94" height="1.94" rx="0.35" fill="#00BFC4"/><rect x="562.8" y="249.35" width="1.94" height="1.94" rx="0.35" fill="#00BFC4"/><rect x="567.1" y="248.01" width="1.94" height="1.94" rx="0.35" fill="#7CAE00"/><rect x="572.47" y="247.6" width="1.94" height="1.94" rx="0.35" fill="#00BFC4"/><rect x="575.16" y="250.96" width="1.94" height="1.94" rx="0.35" fill="#7CAE00"/><rect x="575.56" y="256.34" width="1.94" height="1.94" rx="0.35" fill="#00BFC4"/><rect x="554.75" y="256.6" width="1.94" height="1.94" rx="0.35" fill="#00BFC4"/><rect x="550.04" y="258.08" width="1.94" height="1.94" rx="0.35" fill="#7CAE00"/><rect x="567.77" y="260.37" width="1.94" height="1.94" rx="0.35" fill="#F8766D"/><rect x="556.76" y="261.31" width="1.94" height="1.94" rx="0.35" fill="#7CAE00"/><rect x="550.04" y="263.99" width="1.94" height="1.94" rx="0.35" fill="#00BFC4"/><rect x="548.43" y="266.68" width="1.94" height="1.94" rx="0.35" fill="#7CAE00"/><rect x="550.72" y="266.82" width="1.94" height="1.94" rx="0.35" fill="#7CAE00"/><rect x="555.01" y="264.67" width="1.94" height="1.94" rx="0.35" fill="#F8766D"/><rect x="558.51" y="265.47" width="1.94" height="1.94" rx="0.35" fill="#7CAE00"/><rect x="559.85" y="264.13" width="1.94" height="1.94" rx="0.35" fill="#7CAE00"/><rect x="559.45" y="267.76" width="1.94" height="1.94" rx="0.35" fill="#F8766D"/><rect x="555.42" y="268.02" width="1.94" height="1.94" rx="0.35" fill="#00BFC4"/><rect x="562.54" y="266.82" width="1.94" height="1.94" rx="0.35" fill="#F8766D"/><rect x="565.76" y="266.68" width="1.94" height="1.94" rx="0.35" fill="#00BFC4"/><rect x="569.52" y="262.79" width="1.94" height="1.94" rx="0.35" fill="#7CAE00"/><rect x="575.29" y="263.32" width="1.94" height="1.94" rx="0.35" fill="#00BFC4"/><rect x="574.22" y="265.47" width="1.94" height="1.94" rx="0.35" fill="#7CAE00"/><rect x="575.56" y="266.01" width="1.94" height="1.94" rx="0.35" fill="#C77CFF"/><rect x="578.25" y="266.41" width="1.94" height="1.94" rx="0.35" fill="#7CAE00"/><rect x="560.79" y="269.1" width="1.94" height="1.94" rx="0.35" fill="#00BFC4"/><rect x="565.09" y="270.17" width="1.94" height="1.94" rx="0.35" fill="#7CAE00"/><rect x="572.21" y="269.1" width="1.94" height="1.94" rx="0.35" fill="#00BFC4"/><rect x="568.85" y="269.77" width="1.94" height="1.94" rx="0.35" fill="#7CAE00"/><rect x="576.91" y="269.5" width="1.94" height="1.94" rx="0.35" fill="#F8766D"/><rect x="570.59" y="271.79" width="1.94" height="1.94" rx="0.35" fill="#C77CFF"/><rect x="580.94" y="270.44" width="1.94" height="1.94" rx="0.35" fill="#00BFC4"/><rect x="585.23" y="270.17" width="1.94" height="1.94" rx="0.35" fill="#F8766D"/><rect x="555.01" y="270.44" width="1.94" height="1.94" rx="0.35" fill="#7CAE00"/><rect x="554.07" y="271.79" width="1.94" height="1.94" rx="0.35" fill="#7CAE00"/><rect x="554.48" y="274.74" width="1.94" height="1.94" rx="0.35" fill="#F8766D"/><rect x="562.13" y="274.47" width="1.94" height="1.94" rx="0.35" fill="#00BFC4"/><rect x="562.8" y="275.41" width="1.94" height="1.94" rx="0.35" fill="#00BFC4"/><rect x="563.88" y="272.46" width="1.94" height="1.94" rx="0.35" fill="#00BFC4"/><rect x="556.09" y="276.22" width="1.94" height="1.94" rx="0.35" fill="#7CAE00"/><rect x="548.43" y="276.76" width="1.94" height="1.94" rx="0.35" fill="#7CAE00"/><rect x="556.76" y="278.1" width="1.94" height="1.94" rx="0.35" fill="#00BFC4"/><rect x="557.43" y="279.18" width="1.94" height="1.94" rx="0.35" fill="#00BFC4"/><rect x="558.77" y="278.77" width="1.94" height="1.94" rx="0.35" fill="#7CAE00"/><rect x="568.85" y="276.22" width="1.94" height="1.94" rx="0.35" fill="#F8766D"/><rect x="569.52" y="277.83" width="1.94" height="1.94" rx="0.35" fill="#7CAE00"/><rect x="571.13" y="278.91" width="1.94" height="1.94" rx="0.35" fill="#00BFC4"/><rect x="565.22" y="279.18" width="1.94" height="1.94" rx="0.35" fill="#7CAE00"/><rect x="567.91" y="280.92" width="1.94" height="1.94" rx="0.35" fill="#7CAE00"/><rect x="577.31" y="279.18" width="1.94" height="1.94" rx="0.35" fill="#7CAE00"/><rect x="580.94" y="277.16" width="1.94" height="1.94" rx="0.35" fill="#7CAE00"/><rect x="584.02" y="278.91" width="1.94" height="1.94" rx="0.35" fill="#7CAE00"/><rect x="588.05" y="275.15" width="1.94" height="1.94" rx="0.35" fill="#7CAE00"/><rect x="596.38" y="276.49" width="1.94" height="1.94" rx="0.35" fill="#7CAE00"/><rect x="598.39" y="274.07" width="1.94" height="1.94" rx="0.35" fill="#00BFC4"/><rect x="600.14" y="274.07" width="1.94" height="1.94" rx="0.35" fill="#7CAE00"/><rect x="602.42" y="278.1" width="1.94" height="1.94" rx="0.35" fill="#7CAE00"/><rect x="597.05" y="280.52" width="1.94" height="1.94" rx="0.35" fill="#00BFC4"/><rect x="598.66" y="282.94" width="1.94" height="1.94" rx="0.35" fill="#00BFC4"/><rect x="550.04" y="282.54" width="1.94" height="1.94" rx="0.35" fill="#7CAE00"/><rect x="552.73" y="281.86" width="1.94" height="1.94" rx="0.35" fill="#F8766D"/><rect x="555.42" y="281.46" width="1.94" height="1.94" rx="0.35" fill="#7CAE00"/><rect x="557.16" y="281.19" width="1.94" height="1.94" rx="0.35" fill="#7CAE00"/><rect x="574.22" y="283.21" width="1.94" height="1.94" rx="0.35" fill="#00BFC4"/><rect x="580.26" y="282.13" width="1.94" height="1.94" rx="0.35" fill="#00BFC4"/><rect x="564.15" y="285.22" width="1.94" height="1.94" rx="0.35" fill="#F8766D"/><rect x="570.19" y="285.22" width="1.94" height="1.94" rx="0.35" fill="#00BFC4"/><rect x="571.13" y="286.57" width="1.94" height="1.94" rx="0.35" fill="#C77CFF"/><rect x="575.56" y="288.31" width="1.94" height="1.94" rx="0.35" fill="#00BFC4"/><rect x="594.37" y="286.16" width="1.94" height="1.94" rx="0.35" fill="#7CAE00"/><rect x="590.61" y="287.24" width="1.94" height="1.94" rx="0.35" fill="#F8766D"/><rect x="550.04" y="289.66" width="1.94" height="1.94" rx="0.35" fill="#00BFC4"/><rect x="551.39" y="288.58" width="1.94" height="1.94" rx="0.35" fill="#00BFC4"/><rect x="562.8" y="289.66" width="1.94" height="1.94" rx="0.35" fill="#00BFC4"/><rect x="557.16" y="291.27" width="1.94" height="1.94" rx="0.35" fill="#00BFC4"/><rect x="561.46" y="292.88" width="1.94" height="1.94" rx="0.35" fill="#C77CFF"/><rect x="559.85" y="293.69" width="1.94" height="1.94" rx="0.35" fill="#7CAE00"/><rect x="581.61" y="290.6" width="1.94" height="1.94" rx="0.35" fill="#C77CFF"/><rect x="591.28" y="291" width="1.94" height="1.94" rx="0.35" fill="#00BFC4"/><rect x="593.02" y="291.27" width="1.94" height="1.94" rx="0.35" fill="#00BFC4"/><rect x="603.1" y="293.96" width="1.94" height="1.94" rx="0.35" fill="#00BFC4"/><rect x="580.94" y="293.28" width="1.94" height="1.94" rx="0.35" fill="#00BFC4"/></g>
<polygon points="466,260.5 468.83,261.34 471.66,262.18 474.5,263.02 477.33,263.86 480.16,264.7 482.99,265.53 485.83,266.37 488.66,267.2 491.49,268.03 494.32,268.86 497.15,269.69 499.99,270.52 502.82,271.34 505.65,272.16 508.48,272.98 511.32,273.79 514.15,274.6 516.98,275.4 519.81,276.19 522.64,276.98 525.48,277.76 528.31,278.52 531.14,279.28 533.97,280.01 536.81,280.73 539.64,281.43 542.47,282.1 545.3,282.74 548.13,283.35 550.97,283.93 553.8,284.48 556.63,284.99 559.46,285.48 562.29,285.93 565.13,286.37 567.96,286.79 570.79,287.19 573.62,287.58 576.46,287.95 579.29,288.32 582.12,288.68 584.95,289.03 587.78,289.38 590.62,289.72 593.45,290.06 596.28,290.4 599.11,290.73 601.95,291.06 604.78,291.39 607.61,291.72 610.44,292.04 613.27,292.37 616.11,292.69 618.94,293.01 621.77,293.33 624.6,293.65 627.44,293.97 630.27,294.28 633.1,294.6 633.1,311.8 630.27,310.94 627.44,310.09 624.6,309.23 621.77,308.38 618.94,307.53 616.11,306.68 613.27,305.82 610.44,304.97 607.61,304.13 604.78,303.28 601.95,302.44 599.11,301.59 596.28,300.75 593.45,299.92 590.62,299.08 587.78,298.25 584.95,297.43 582.12,296.61 579.29,295.8 576.46,294.99 573.62,294.19 570.79,293.41 567.96,292.64 565.13,291.88 562.29,291.14 559.46,290.43 556.63,289.74 553.8,289.08 550.97,288.46 548.13,287.86 545.3,287.3 542.47,286.77 539.64,286.27 536.81,285.79 533.97,285.34 531.14,284.9 528.31,284.48 525.48,284.07 522.64,283.68 519.81,283.29 516.98,282.91 514.15,282.54 511.32,282.18 508.48,281.82 505.65,281.46 502.82,281.11 499.99,280.76 497.15,280.41 494.32,280.07 491.49,279.72 488.66,279.38 485.83,279.04 482.99,278.71 480.16,278.37 477.33,278.03 474.5,277.7 471.66,277.36 468.83,277.03 466,276.7" fill="#999999" fill-opacity="0.4"/>
<line x1="466" y1="268.6" x2="633.1" y2="303.2" stroke="#3366FF" stroke-width="1.2"/>
<text x="635" y="228.1" font-size="8.05" font-weight="bold" text-anchor="end" fill="#000" stroke="#000" stroke-width="0.05" font-family="Liberation Sans, sans-serif">r = -0.24, P < 0.001</text>
<text x="549.35" y="394.8" font-size="11.2" font-weight="bold" text-anchor="middle" fill="#000" stroke="#000" stroke-width="0.28" font-family="Liberation Sans, sans-serif">Adjusted IgpWMH</text>
<text transform="translate(443.5,295.7) rotate(-90)" font-size="11.2" font-weight="bold" text-anchor="middle" fill="#000" stroke="#000" stroke-width="0.28" font-family="Liberation Sans, sans-serif">Adjusted Language</text>
<text x="444" y="216.3" font-size="14.8" font-weight="bold" fill="#000" stroke="#000" stroke-width="0.18" font-family="Liberation Sans, sans-serif">F</text>
<text x="649.9" y="282.1" font-size="6.8" font-weight="bold" fill="#000" stroke="#000" stroke-width="0.12" font-family="Liberation Sans, sans-serif">Group</text>
<rect x="649.0" y="284.3" width="8.0" height="35.3" fill="#EBEBEB"/>
<rect x="651.85" y="287.85" width="2.3" height="2.3" rx="0.5" fill="#F8766D"/>
<text x="659.6" y="291.45" font-size="6.8" font-weight="bold" fill="#000" stroke="#000" stroke-width="0.12" font-family="Liberation Sans, sans-serif">HC</text>
<rect x="651.85" y="296.7" width="2.3" height="2.3" rx="0.5" fill="#7CAE00"/>
<text x="659.3" y="300.3" font-size="6.8" font-weight="bold" fill="#000" stroke="#000" stroke-width="0.12" font-family="Liberation Sans, sans-serif">SCD</text>
<rect x="651.85" y="305.55" width="2.3" height="2.3" rx="0.5" fill="#00BFC4"/>
<text x="659.3" y="309.15" font-size="6.8" font-weight="bold" fill="#000" stroke="#000" stroke-width="0.12" font-family="Liberation Sans, sans-serif">MCI</text>
<rect x="651.85" y="314.4" width="2.3" height="2.3" rx="0.5" fill="#C77CFF"/>
<text x="659.4" y="318" font-size="6.8" font-weight="bold" fill="#000" stroke="#000" stroke-width="0.12" font-family="Liberation Sans, sans-serif">AD</text>
<rect x="24.4" y="419.1" width="184.4" height="157.4" fill="#EBEBEB"/>
<line x1="65.75" y1="419.1" x2="65.75" y2="576.5" stroke="#F0F0F0" stroke-width="0.8"/>
<line x1="112.45" y1="419.1" x2="112.45" y2="576.5" stroke="#F0F0F0" stroke-width="0.8"/>
<line x1="159.15" y1="419.1" x2="159.15" y2="576.5" stroke="#F0F0F0" stroke-width="0.8"/>
<line x1="24.4" y1="543.95" x2="208.8" y2="543.95" stroke="#F0F0F0" stroke-width="0.8"/>
<line x1="24.4" y1="508.65" x2="208.8" y2="508.65" stroke="#F0F0F0" stroke-width="0.8"/>
<line x1="24.4" y1="473.35" x2="208.8" y2="473.35" stroke="#F0F0F0" stroke-width="0.8"/>
<line x1="24.4" y1="438.05" x2="208.8" y2="438.05" stroke="#F0F0F0" stroke-width="0.8"/>
<line x1="42.4" y1="419.1" x2="42.4" y2="576.5" stroke="#F4F4F4" stroke-width="1.1"/>
<line x1="89.1" y1="419.1" x2="89.1" y2="576.5" stroke="#F4F4F4" stroke-width="1.1"/>
<line x1="135.8" y1="419.1" x2="135.8" y2="576.5" stroke="#F4F4F4" stroke-width="1.1"/>
<line x1="182.5" y1="419.1" x2="182.5" y2="576.5" stroke="#F4F4F4" stroke-width="1.1"/>
<line x1="24.4" y1="561.6" x2="208.8" y2="561.6" stroke="#F4F4F4" stroke-width="1.1"/>
<line x1="24.4" y1="526.3" x2="208.8" y2="526.3" stroke="#F4F4F4" stroke-width="1.1"/>
<line x1="24.4" y1="491" x2="208.8" y2="491" stroke="#F4F4F4" stroke-width="1.1"/>
<line x1="24.4" y1="455.7" x2="208.8" y2="455.7" stroke="#F4F4F4" stroke-width="1.1"/>
<line x1="24.4" y1="420.4" x2="208.8" y2="420.4" stroke="#F4F4F4" stroke-width="1.1"/>
<line x1="42.4" y1="576.5" x2="42.4" y2="578.5" stroke="#777" stroke-width="0.7"/>
<text x="42.4" y="585.9" font-size="9.4" fill="#4D4D4D" stroke="#4D4D4D" stroke-width="0.5" text-anchor="middle" font-family="Liberation Sans, sans-serif">-2</text>
<line x1="89.1" y1="576.5" x2="89.1" y2="578.5" stroke="#777" stroke-width="0.7"/>
<text x="89.1" y="585.9" font-size="9.4" fill="#4D4D4D" stroke="#4D4D4D" stroke-width="0.5" text-anchor="middle" font-family="Liberation Sans, sans-serif">-&#8199;</text><path transform="translate(88.05,585.9) scale(9.4)" d="M0.283,0L0.373,0L0.373,-0.716L0.315,-0.716C0.29,-0.65 0.22,-0.57 0.109,-0.52L0.109,-0.445C0.18,-0.47 0.24,-0.51 0.283,-0.55Z" fill="#4D4D4D" stroke="#4D4D4D" stroke-width="0.0532"/>
<line x1="135.8" y1="576.5" x2="135.8" y2="578.5" stroke="#777" stroke-width="0.7"/>
<text x="135.8" y="585.9" font-size="9.4" fill="#4D4D4D" stroke="#4D4D4D" stroke-width="0.5" text-anchor="middle" font-family="Liberation Sans, sans-serif">0</text>
<line x1="182.5" y1="576.5" x2="182.5" y2="578.5" stroke="#777" stroke-width="0.7"/>
<text x="182.5" y="585.9" font-size="9.4" fill="#4D4D4D" stroke="#4D4D4D" stroke-width="0.5" text-anchor="middle" font-family="Liberation Sans, sans-serif">&#8199;</text><path transform="translate(179.89,585.9) scale(9.4)" d="M0.283,0L0.373,0L0.373,-0.716L0.315,-0.716C0.29,-0.65 0.22,-0.57 0.109,-0.52L0.109,-0.445C0.18,-0.47 0.24,-0.51 0.283,-0.55Z" fill="#4D4D4D" stroke="#4D4D4D" stroke-width="0.0532"/>
<line x1="22.4" y1="561.6" x2="24.4" y2="561.6" stroke="#777" stroke-width="0.7"/>
<text x="22.2" y="564.9" font-size="9.4" fill="#4D4D4D" stroke="#4D4D4D" stroke-width="0.5" text-anchor="end" font-family="Liberation Sans, sans-serif">-2</text>
<line x1="22.4" y1="526.3" x2="24.4" y2="526.3" stroke="#777" stroke-width="0.7"/>
<text x="22.2" y="529.6" font-size="9.4" fill="#4D4D4D" stroke="#4D4D4D" stroke-width="0.5" text-anchor="end" font-family="Liberation Sans, sans-serif">-&#8199;</text><path transform="translate(16.97,529.6) scale(9.4)" d="M0.283,0L0.373,0L0.373,-0.716L0.315,-0.716C0.29,-0.65 0.22,-0.57 0.109,-0.52L0.109,-0.445C0.18,-0.47 0.24,-0.51 0.283,-0.55Z" fill="#4D4D4D" stroke="#4D4D4D" stroke-width="0.0532"/>
<line x1="22.4" y1="491" x2="24.4" y2="491" stroke="#777" stroke-width="0.7"/>
<text x="22.2" y="494.3" font-size="9.4" fill="#4D4D4D" stroke="#4D4D4D" stroke-width="0.5" text-anchor="end" font-family="Liberation Sans, sans-serif">0</text>
<line x1="22.4" y1="455.7" x2="24.4" y2="455.7" stroke="#777" stroke-width="0.7"/>
<text x="22.2" y="459" font-size="9.4" fill="#4D4D4D" stroke="#4D4D4D" stroke-width="0.5" text-anchor="end" font-family="Liberation Sans, sans-serif">&#8199;</text><path transform="translate(16.97,459) scale(9.4)" d="M0.283,0L0.373,0L0.373,-0.716L0.315,-0.716C0.29,-0.65 0.22,-0.57 0.109,-0.52L0.109,-0.445C0.18,-0.47 0.24,-0.51 0.283,-0.55Z" fill="#4D4D4D" stroke="#4D4D4D" stroke-width="0.0532"/>
<line x1="22.4" y1="420.4" x2="24.4" y2="420.4" stroke="#777" stroke-width="0.7"/>
<text x="22.2" y="423.7" font-size="9.4" fill="#4D4D4D" stroke="#4D4D4D" stroke-width="0.5" text-anchor="end" font-family="Liberation Sans, sans-serif">2</text>
<g><rect x="52.63" y="501.51" width="1.94" height="1.94" rx="0.35" fill="#7CAE00"/><rect x="66.75" y="503.41" width="1.94" height="1.94" rx="0.35" fill="#00BFC4"/><rect x="84.8" y="506.12" width="1.94" height="1.94" rx="0.35" fill="#F8766D"/><rect x="87.79" y="503.41" width="1.94" height="1.94" rx="0.35" fill="#00BFC4"/><rect x="81.41" y="509.52" width="1.94" height="1.94" rx="0.35" fill="#00BFC4"/><rect x="94.99" y="505.58" width="1.94" height="1.94" rx="0.35" fill="#00BFC4"/><rect x="97.02" y="504.09" width="1.94" height="1.94" rx="0.35" fill="#00BFC4"/><rect x="100.01" y="504.9" width="1.94" height="1.94" rx="0.35" fill="#7CAE00"/><rect x="111.96" y="499.74" width="1.94" height="1.94" rx="0.35" fill="#00BFC4"/><rect x="108.97" y="513.05" width="1.94" height="1.94" rx="0.35" fill="#7CAE00"/><rect x="109.92" y="515.08" width="1.94" height="1.94" rx="0.35" fill="#00BFC4"/><rect x="113.99" y="511.96" width="1.94" height="1.94" rx="0.35" fill="#00BFC4"/><rect x="114.94" y="519.02" width="1.94" height="1.94" rx="0.35" fill="#C77CFF"/><rect x="107.48" y="525.26" width="1.94" height="1.94" rx="0.35" fill="#00BFC4"/><rect x="100.01" y="533.27" width="1.94" height="1.94" rx="0.35" fill="#C77CFF"/><rect x="108.16" y="538.97" width="1.94" height="1.94" rx="0.35" fill="#00BFC4"/><rect x="102.45" y="553.77" width="1.94" height="1.94" rx="0.35" fill="#C77CFF"/><rect x="118.04" y="497.7" width="1.94" height="1.94" rx="0.35" fill="#00BFC4"/><rect x="126.1" y="497.43" width="1.94" height="1.94" rx="0.35" fill="#F8766D"/><rect x="124.76" y="499.99" width="1.94" height="1.94" rx="0.35" fill="#00BFC4"/><rect x="124.09" y="502.67" width="1.94" height="1.94" rx="0.35" fill="#00BFC4"/><rect x="133.89" y="497.3" width="1.94" height="1.94" rx="0.35" fill="#F8766D"/><rect x="130.13" y="499.72" width="1.94" height="1.94" rx="0.35" fill="#7CAE00"/><rect x="136.58" y="500.39" width="1.94" height="1.94" rx="0.35" fill="#7CAE00"/><rect x="139.94" y="499.05" width="1.94" height="1.94" rx="0.35" fill="#7CAE00"/><rect x="141.82" y="499.99" width="1.94" height="1.94" rx="0.35" fill="#7CAE00"/><rect x="143.29" y="499.05" width="1.94" height="1.94" rx="0.35" fill="#7CAE00"/><rect x="148.67" y="497.43" width="1.94" height="1.94" rx="0.35" fill="#00BFC4"/><rect x="153.9" y="499.05" width="1.94" height="1.94" rx="0.35" fill="#C77CFF"/><rect x="162.1" y="498.64" width="1.94" height="1.94" rx="0.35" fill="#00BFC4"/><rect x="164.11" y="499.72" width="1.94" height="1.94" rx="0.35" fill="#00BFC4"/><rect x="116.7" y="504.82" width="1.94" height="1.94" rx="0.35" fill="#00BFC4"/><rect x="117.1" y="504.42" width="1.94" height="1.94" rx="0.35" fill="#7CAE00"/><rect x="121.67" y="503.75" width="1.94" height="1.94" rx="0.35" fill="#C77CFF"/><rect x="124.76" y="506.03" width="1.94" height="1.94" rx="0.35" fill="#00BFC4"/><rect x="134.83" y="502.67" width="1.94" height="1.94" rx="0.35" fill="#00BFC4"/><rect x="135.91" y="504.42" width="1.94" height="1.94" rx="0.35" fill="#7CAE00"/><rect x="137.52" y="504.82" width="1.94" height="1.94" rx="0.35" fill="#7CAE00"/><rect x="138.86" y="502.67" width="1.94" height="1.94" rx="0.35" fill="#00BFC4"/><rect x="143.29" y="502.67" width="1.94" height="1.94" rx="0.35" fill="#00BFC4"/><rect x="149.61" y="502" width="1.94" height="1.94" rx="0.35" fill="#00BFC4"/><rect x="150.95" y="504.42" width="1.94" height="1.94" rx="0.35" fill="#00BFC4"/><rect x="152.02" y="503.75" width="1.94" height="1.94" rx="0.35" fill="#00BFC4"/><rect x="159.68" y="502" width="1.94" height="1.94" rx="0.35" fill="#00BFC4"/><rect x="159.41" y="503.48" width="1.94" height="1.94" rx="0.35" fill="#7CAE00"/><rect x="168.68" y="502.4" width="1.94" height="1.94" rx="0.35" fill="#7CAE00"/><rect x="165.72" y="503.75" width="1.94" height="1.94" rx="0.35" fill="#00BFC4"/><rect x="163.98" y="505.76" width="1.94" height="1.94" rx="0.35" fill="#F8766D"/><rect x="162.37" y="506.43" width="1.94" height="1.94" rx="0.35" fill="#00BFC4"/><rect x="159.28" y="507.51" width="1.94" height="1.94" rx="0.35" fill="#C77CFF"/><rect x="141.28" y="507.78" width="1.94" height="1.94" rx="0.35" fill="#00BFC4"/><rect x="141.95" y="506.03" width="1.94" height="1.94" rx="0.35" fill="#7CAE00"/><rect x="144.91" y="506.84" width="1.94" height="1.94" rx="0.35" fill="#C77CFF"/><rect x="147.99" y="506.03" width="1.94" height="1.94" rx="0.35" fill="#00BFC4"/><rect x="151.22" y="507.78" width="1.94" height="1.94" rx="0.35" fill="#7CAE00"/><rect x="131.07" y="508.85" width="1.94" height="1.94" rx="0.35" fill="#7CAE00"/><rect x="126.37" y="509.79" width="1.94" height="1.94" rx="0.35" fill="#00BFC4"/><rect x="134.16" y="512.08" width="1.94" height="1.94" rx="0.35" fill="#00BFC4"/><rect x="136.58" y="511.81" width="1.94" height="1.94" rx="0.35" fill="#00BFC4"/><rect x="123.42" y="513.42" width="1.94" height="1.94" rx="0.35" fill="#7CAE00"/><rect x="132.82" y="512.88" width="1.94" height="1.94" rx="0.35" fill="#7CAE00"/><rect x="148.26" y="513.15" width="1.94" height="1.94" rx="0.35" fill="#00BFC4"/><rect x="152.29" y="511.81" width="1.94" height="1.94" rx="0.35" fill="#00BFC4"/><rect x="153.37" y="512.75" width="1.94" height="1.94" rx="0.35" fill="#F8766D"/><rect x="155.92" y="512.75" width="1.94" height="1.94" rx="0.35" fill="#00BFC4"/><rect x="140.88" y="513.82" width="1.94" height="1.94" rx="0.35" fill="#C77CFF"/><rect x="158.34" y="514.76" width="1.94" height="1.94" rx="0.35" fill="#C77CFF"/><rect x="120.73" y="515.84" width="1.94" height="1.94" rx="0.35" fill="#00BFC4"/><rect x="133.22" y="515.84" width="1.94" height="1.94" rx="0.35" fill="#00BFC4"/><rect x="140.21" y="515.84" width="1.94" height="1.94" rx="0.35" fill="#00BFC4"/><rect x="143.56" y="516.51" width="1.94" height="1.94" rx="0.35" fill="#00BFC4"/><rect x="155.38" y="516.11" width="1.94" height="1.94" rx="0.35" fill="#00BFC4"/><rect x="156.05" y="517.18" width="1.94" height="1.94" rx="0.35" fill="#7CAE00"/><rect x="154.04" y="518.53" width="1.94" height="1.94" rx="0.35" fill="#00BFC4"/><rect x="126.1" y="519.2" width="1.94" height="1.94" rx="0.35" fill="#00BFC4"/><rect x="130.8" y="518.26" width="1.94" height="1.94" rx="0.35" fill="#C77CFF"/><rect x="135.24" y="518.53" width="1.94" height="1.94" rx="0.35" fill="#00BFC4"/><rect x="137.12" y="517.85" width="1.94" height="1.94" rx="0.35" fill="#C77CFF"/><rect x="127.45" y="521.21" width="1.94" height="1.94" rx="0.35" fill="#00BFC4"/><rect x="126.51" y="522.56" width="1.94" height="1.94" rx="0.35" fill="#7CAE00"/><rect x="132.82" y="521.21" width="1.94" height="1.94" rx="0.35" fill="#00BFC4"/><rect x="136.58" y="522.29" width="1.94" height="1.94" rx="0.35" fill="#00BFC4"/><rect x="136.85" y="523.23" width="1.94" height="1.94" rx="0.35" fill="#00BFC4"/><rect x="173.38" y="514.9" width="1.94" height="1.94" rx="0.35" fill="#00BFC4"/><rect x="194.2" y="522.83" width="1.94" height="1.94" rx="0.35" fill="#00BFC4"/><rect x="199.3" y="510.87" width="1.94" height="1.94" rx="0.35" fill="#C77CFF"/><rect x="145.58" y="524.98" width="1.94" height="1.94" rx="0.35" fill="#00BFC4"/><rect x="148.67" y="524.84" width="1.94" height="1.94" rx="0.35" fill="#C77CFF"/><rect x="156.72" y="525.65" width="1.94" height="1.94" rx="0.35" fill="#C77CFF"/><rect x="161.43" y="524.57" width="1.94" height="1.94" rx="0.35" fill="#C77CFF"/><rect x="184.53" y="528.33" width="1.94" height="1.94" rx="0.35" fill="#C77CFF"/><rect x="143.83" y="529.95" width="1.94" height="1.94" rx="0.35" fill="#C77CFF"/><rect x="142.89" y="531.69" width="1.94" height="1.94" rx="0.35" fill="#00BFC4"/><rect x="161.96" y="530.62" width="1.94" height="1.94" rx="0.35" fill="#C77CFF"/><rect x="156.99" y="532.63" width="1.94" height="1.94" rx="0.35" fill="#00BFC4"/><rect x="130.4" y="537.07" width="1.94" height="1.94" rx="0.35" fill="#00BFC4"/><rect x="140.61" y="535.99" width="1.94" height="1.94" rx="0.35" fill="#00BFC4"/><rect x="143.56" y="538.68" width="1.94" height="1.94" rx="0.35" fill="#C77CFF"/><rect x="138.46" y="541.77" width="1.94" height="1.94" rx="0.35" fill="#C77CFF"/><rect x="135.1" y="549.16" width="1.94" height="1.94" rx="0.35" fill="#C77CFF"/><rect x="147.19" y="548.08" width="1.94" height="1.94" rx="0.35" fill="#C77CFF"/><rect x="157.93" y="547.28" width="1.94" height="1.94" rx="0.35" fill="#C77CFF"/><rect x="155.25" y="551.04" width="1.94" height="1.94" rx="0.35" fill="#00BFC4"/><rect x="156.72" y="557.09" width="1.94" height="1.94" rx="0.35" fill="#C77CFF"/><rect x="138.19" y="563.13" width="1.94" height="1.94" rx="0.35" fill="#C77CFF"/><rect x="143.56" y="562.46" width="1.94" height="1.94" rx="0.35" fill="#00BFC4"/><rect x="147.99" y="565.55" width="1.94" height="1.94" rx="0.35" fill="#C77CFF"/><rect x="154.98" y="563.13" width="1.94" height="1.94" rx="0.35" fill="#C77CFF"/><rect x="154.04" y="566.89" width="1.94" height="1.94" rx="0.35" fill="#C77CFF"/><rect x="153.64" y="568.91" width="1.94" height="1.94" rx="0.35" fill="#00BFC4"/><rect x="92.54" y="437.71" width="1.94" height="1.94" rx="0.35" fill="#00BFC4"/><rect x="107.88" y="437.71" width="1.94" height="1.94" rx="0.35" fill="#7CAE00"/><rect x="85.21" y="444.5" width="1.94" height="1.94" rx="0.35" fill="#F8766D"/><rect x="102.45" y="443.82" width="1.94" height="1.94" rx="0.35" fill="#F8766D"/><rect x="115.76" y="442.87" width="1.94" height="1.94" rx="0.35" fill="#F8766D"/><rect x="100.01" y="454" width="1.94" height="1.94" rx="0.35" fill="#C77CFF"/><rect x="115.08" y="453.87" width="1.94" height="1.94" rx="0.35" fill="#7CAE00"/><rect x="83.04" y="457.8" width="1.94" height="1.94" rx="0.35" fill="#7CAE00"/><rect x="93.36" y="458.34" width="1.94" height="1.94" rx="0.35" fill="#00BFC4"/><rect x="100.69" y="458.75" width="1.94" height="1.94" rx="0.35" fill="#F8766D"/><rect x="99.33" y="463.23" width="1.94" height="1.94" rx="0.35" fill="#7CAE00"/><rect x="102.86" y="465.13" width="1.94" height="1.94" rx="0.35" fill="#00BFC4"/><rect x="90.64" y="469.88" width="1.94" height="1.94" rx="0.35" fill="#F8766D"/><rect x="112.91" y="470.7" width="1.94" height="1.94" rx="0.35" fill="#7CAE00"/><rect x="115.76" y="471.92" width="1.94" height="1.94" rx="0.35" fill="#7CAE00"/><rect x="73.26" y="476.4" width="1.94" height="1.94" rx="0.35" fill="#00BFC4"/><rect x="31.85" y="478.71" width="1.94" height="1.94" rx="0.35" fill="#00BFC4"/><rect x="105.85" y="477.48" width="1.94" height="1.94" rx="0.35" fill="#7CAE00"/><rect x="105.44" y="480.2" width="1.94" height="1.94" rx="0.35" fill="#00BFC4"/><rect x="113.99" y="479.79" width="1.94" height="1.94" rx="0.35" fill="#7CAE00"/><rect x="104.9" y="482.78" width="1.94" height="1.94" rx="0.35" fill="#7CAE00"/><rect x="115.76" y="483.18" width="1.94" height="1.94" rx="0.35" fill="#F8766D"/><rect x="81.82" y="485.9" width="1.94" height="1.94" rx="0.35" fill="#00BFC4"/><rect x="107.21" y="485.9" width="1.94" height="1.94" rx="0.35" fill="#00BFC4"/><rect x="111.28" y="487.26" width="1.94" height="1.94" rx="0.35" fill="#7CAE00"/><rect x="113.72" y="489.29" width="1.94" height="1.94" rx="0.35" fill="#00BFC4"/><rect x="85.75" y="494.72" width="1.94" height="1.94" rx="0.35" fill="#00BFC4"/><rect x="107.21" y="493.37" width="1.94" height="1.94" rx="0.35" fill="#00BFC4"/><rect x="108.97" y="495.81" width="1.94" height="1.94" rx="0.35" fill="#7CAE00"/><rect x="137.52" y="424.75" width="1.94" height="1.94" rx="0.35" fill="#00BFC4"/><rect x="135.5" y="426.36" width="1.94" height="1.94" rx="0.35" fill="#F8766D"/><rect x="149.34" y="430.39" width="1.94" height="1.94" rx="0.35" fill="#F8766D"/><rect x="128.79" y="435.5" width="1.94" height="1.94" rx="0.35" fill="#00BFC4"/><rect x="118.72" y="439.53" width="1.94" height="1.94" rx="0.35" fill="#7CAE00"/><rect x="116.7" y="442.89" width="1.94" height="1.94" rx="0.35" fill="#F8766D"/><rect x="139.94" y="439.53" width="1.94" height="1.94" rx="0.35" fill="#7CAE00"/><rect x="154.04" y="444.5" width="1.94" height="1.94" rx="0.35" fill="#C77CFF"/><rect x="159.68" y="446.92" width="1.94" height="1.94" rx="0.35" fill="#7CAE00"/><rect x="132.15" y="447.86" width="1.94" height="1.94" rx="0.35" fill="#F8766D"/><rect x="136.44" y="448.26" width="1.94" height="1.94" rx="0.35" fill="#00BFC4"/><rect x="147.99" y="449.87" width="1.94" height="1.94" rx="0.35" fill="#7CAE00"/><rect x="146.65" y="451.62" width="1.94" height="1.94" rx="0.35" fill="#7CAE00"/><rect x="121.4" y="450.68" width="1.94" height="1.94" rx="0.35" fill="#7CAE00"/><rect x="125.03" y="454.31" width="1.94" height="1.94" rx="0.35" fill="#7CAE00"/><rect x="129.19" y="453.63" width="1.94" height="1.94" rx="0.35" fill="#7CAE00"/><rect x="134.83" y="452.69" width="1.94" height="1.94" rx="0.35" fill="#7CAE00"/><rect x="138.59" y="452.29" width="1.94" height="1.94" rx="0.35" fill="#00BFC4"/><rect x="141.28" y="452.96" width="1.94" height="1.94" rx="0.35" fill="#7CAE00"/><rect x="145.17" y="454.04" width="1.94" height="1.94" rx="0.35" fill="#00BFC4"/><rect x="157.67" y="455.65" width="1.94" height="1.94" rx="0.35" fill="#7CAE00"/><rect x="159.01" y="455.65" width="1.94" height="1.94" rx="0.35" fill="#7CAE00"/><rect x="157.67" y="458.07" width="1.94" height="1.94" rx="0.35" fill="#7CAE00"/><rect x="158.61" y="460.75" width="1.94" height="1.94" rx="0.35" fill="#7CAE00"/><rect x="161.43" y="453.23" width="1.94" height="1.94" rx="0.35" fill="#00BFC4"/><rect x="167.34" y="458.07" width="1.94" height="1.94" rx="0.35" fill="#00BFC4"/><rect x="177.54" y="453.9" width="1.94" height="1.94" rx="0.35" fill="#7CAE00"/><rect x="129.73" y="456.32" width="1.94" height="1.94" rx="0.35" fill="#F8766D"/><rect x="128.12" y="458.07" width="1.94" height="1.94" rx="0.35" fill="#00BFC4"/><rect x="137.12" y="457.4" width="1.94" height="1.94" rx="0.35" fill="#7CAE00"/><rect x="117.78" y="460.75" width="1.94" height="1.94" rx="0.35" fill="#7CAE00"/><rect x="120.06" y="463.04" width="1.94" height="1.94" rx="0.35" fill="#7CAE00"/><rect x="121.4" y="463.04" width="1.94" height="1.94" rx="0.35" fill="#7CAE00"/><rect x="124.09" y="461.69" width="1.94" height="1.94" rx="0.35" fill="#F8766D"/><rect x="132.82" y="460.08" width="1.94" height="1.94" rx="0.35" fill="#F8766D"/><rect x="133.09" y="462.77" width="1.94" height="1.94" rx="0.35" fill="#7CAE00"/><rect x="131.21" y="464.65" width="1.94" height="1.94" rx="0.35" fill="#7CAE00"/><rect x="140.61" y="461.69" width="1.94" height="1.94" rx="0.35" fill="#00BFC4"/><rect x="141.55" y="462.64" width="1.94" height="1.94" rx="0.35" fill="#00BFC4"/><rect x="116.43" y="465.32" width="1.94" height="1.94" rx="0.35" fill="#F8766D"/><rect x="118.04" y="465.05" width="1.94" height="1.94" rx="0.35" fill="#7CAE00"/><rect x="119.79" y="465.73" width="1.94" height="1.94" rx="0.35" fill="#F8766D"/><rect x="123.01" y="465.73" width="1.94" height="1.94" rx="0.35" fill="#F8766D"/><rect x="127.71" y="465.05" width="1.94" height="1.94" rx="0.35" fill="#7CAE00"/><rect x="129.46" y="467.74" width="1.94" height="1.94" rx="0.35" fill="#00BFC4"/><rect x="133.49" y="466.4" width="1.94" height="1.94" rx="0.35" fill="#7CAE00"/><rect x="137.52" y="466.4" width="1.94" height="1.94" rx="0.35" fill="#7CAE00"/><rect x="139.53" y="467.47" width="1.94" height="1.94" rx="0.35" fill="#7CAE00"/><rect x="141.28" y="466.4" width="1.94" height="1.94" rx="0.35" fill="#7CAE00"/><rect x="140.88" y="465.99" width="1.94" height="1.94" rx="0.35" fill="#F8766D"/><rect x="145.85" y="467.47" width="1.94" height="1.94" rx="0.35" fill="#00BFC4"/><rect x="164.11" y="464.79" width="1.94" height="1.94" rx="0.35" fill="#00BFC4"/><rect x="121.4" y="467.74" width="1.94" height="1.94" rx="0.35" fill="#00BFC4"/><rect x="122.07" y="469.08" width="1.94" height="1.94" rx="0.35" fill="#7CAE00"/><rect x="125.03" y="469.08" width="1.94" height="1.94" rx="0.35" fill="#7CAE00"/><rect x="123.15" y="470.83" width="1.94" height="1.94" rx="0.35" fill="#00BFC4"/><rect x="121.4" y="471.77" width="1.94" height="1.94" rx="0.35" fill="#00BFC4"/><rect x="138.19" y="469.08" width="1.94" height="1.94" rx="0.35" fill="#F8766D"/><rect x="138.86" y="469.76" width="1.94" height="1.94" rx="0.35" fill="#7CAE00"/><rect x="142.62" y="468.41" width="1.94" height="1.94" rx="0.35" fill="#F8766D"/><rect x="143.56" y="469.08" width="1.94" height="1.94" rx="0.35" fill="#F8766D"/><rect x="144.91" y="472.85" width="1.94" height="1.94" rx="0.35" fill="#7CAE00"/><rect x="116.7" y="471.77" width="1.94" height="1.94" rx="0.35" fill="#7CAE00"/><rect x="130.13" y="471.1" width="1.94" height="1.94" rx="0.35" fill="#7CAE00"/><rect x="136.18" y="471.77" width="1.94" height="1.94" rx="0.35" fill="#F8766D"/><rect x="144.23" y="474.46" width="1.94" height="1.94" rx="0.35" fill="#00BFC4"/><rect x="149.2" y="471.37" width="1.94" height="1.94" rx="0.35" fill="#00BFC4"/><rect x="154.98" y="472.44" width="1.94" height="1.94" rx="0.35" fill="#F8766D"/><rect x="159.95" y="474.19" width="1.94" height="1.94" rx="0.35" fill="#7CAE00"/><rect x="163.04" y="468.01" width="1.94" height="1.94" rx="0.35" fill="#F8766D"/><rect x="163.31" y="470.83" width="1.94" height="1.94" rx="0.35" fill="#7CAE00"/><rect x="169.48" y="469.08" width="1.94" height="1.94" rx="0.35" fill="#00BFC4"/><rect x="120.73" y="475.13" width="1.94" height="1.94" rx="0.35" fill="#00BFC4"/><rect x="122.07" y="477.82" width="1.94" height="1.94" rx="0.35" fill="#00BFC4"/><rect x="128.12" y="473.79" width="1.94" height="1.94" rx="0.35" fill="#F8766D"/><rect x="132.15" y="475.13" width="1.94" height="1.94" rx="0.35" fill="#7CAE00"/><rect x="132.82" y="477.82" width="1.94" height="1.94" rx="0.35" fill="#00BFC4"/><rect x="140.88" y="476.88" width="1.94" height="1.94" rx="0.35" fill="#7CAE00"/><rect x="142.22" y="475.13" width="1.94" height="1.94" rx="0.35" fill="#F8766D"/><rect x="142.89" y="479.56" width="1.94" height="1.94" rx="0.35" fill="#00BFC4"/><rect x="120.73" y="478.09" width="1.94" height="1.94" rx="0.35" fill="#F8766D"/><rect x="123.42" y="480.1" width="1.94" height="1.94" rx="0.35" fill="#00BFC4"/><rect x="117.37" y="479.83" width="1.94" height="1.94" rx="0.35" fill="#7CAE00"/><rect x="129.46" y="479.43" width="1.94" height="1.94" rx="0.35" fill="#7CAE00"/><rect x="128.39" y="480.1" width="1.94" height="1.94" rx="0.35" fill="#7CAE00"/><rect x="137.52" y="480.5" width="1.94" height="1.94" rx="0.35" fill="#00BFC4"/><rect x="132.55" y="480.91" width="1.94" height="1.94" rx="0.35" fill="#F8766D"/><rect x="138.59" y="481.18" width="1.94" height="1.94" rx="0.35" fill="#F8766D"/><rect x="139.53" y="479.16" width="1.94" height="1.94" rx="0.35" fill="#00BFC4"/><rect x="137.52" y="483.86" width="1.94" height="1.94" rx="0.35" fill="#00BFC4"/><rect x="141.55" y="480.91" width="1.94" height="1.94" rx="0.35" fill="#7CAE00"/><rect x="142.89" y="483.19" width="1.94" height="1.94" rx="0.35" fill="#7CAE00"/><rect x="144.64" y="482.52" width="1.94" height="1.94" rx="0.35" fill="#F8766D"/><rect x="151.62" y="480.77" width="1.94" height="1.94" rx="0.35" fill="#7CAE00"/><rect x="154.98" y="477.15" width="1.94" height="1.94" rx="0.35" fill="#F8766D"/><rect x="158.74" y="480.5" width="1.94" height="1.94" rx="0.35" fill="#F8766D"/><rect x="159.41" y="481.18" width="1.94" height="1.94" rx="0.35" fill="#7CAE00"/><rect x="124.36" y="483.19" width="1.94" height="1.94" rx="0.35" fill="#7CAE00"/><rect x="129.73" y="485.21" width="1.94" height="1.94" rx="0.35" fill="#7CAE00"/><rect x="155.25" y="484.54" width="1.94" height="1.94" rx="0.35" fill="#7CAE00"/><rect x="157.26" y="485.21" width="1.94" height="1.94" rx="0.35" fill="#7CAE00"/><rect x="161.02" y="485.88" width="1.94" height="1.94" rx="0.35" fill="#C77CFF"/><rect x="168.01" y="485.48" width="1.94" height="1.94" rx="0.35" fill="#00BFC4"/><rect x="141.82" y="485.88" width="1.94" height="1.94" rx="0.35" fill="#7CAE00"/><rect x="145.58" y="487.89" width="1.94" height="1.94" rx="0.35" fill="#00BFC4"/><rect x="148.94" y="487.89" width="1.94" height="1.94" rx="0.35" fill="#00BFC4"/><rect x="152.02" y="488.16" width="1.94" height="1.94" rx="0.35" fill="#7CAE00"/><rect x="135.24" y="488.57" width="1.94" height="1.94" rx="0.35" fill="#00BFC4"/><rect x="139.53" y="488.57" width="1.94" height="1.94" rx="0.35" fill="#00BFC4"/><rect x="143.56" y="489.24" width="1.94" height="1.94" rx="0.35" fill="#00BFC4"/><rect x="127.85" y="487.63" width="1.94" height="1.94" rx="0.35" fill="#C77CFF"/><rect x="133.49" y="491.92" width="1.94" height="1.94" rx="0.35" fill="#00BFC4"/><rect x="157.93" y="490.85" width="1.94" height="1.94" rx="0.35" fill="#C77CFF"/><rect x="171.77" y="488.57" width="1.94" height="1.94" rx="0.35" fill="#00BFC4"/><rect x="171.5" y="491.92" width="1.94" height="1.94" rx="0.35" fill="#00BFC4"/><rect x="125.43" y="491.66" width="1.94" height="1.94" rx="0.35" fill="#7CAE00"/><rect x="125.83" y="493.94" width="1.94" height="1.94" rx="0.35" fill="#7CAE00"/><rect x="124.09" y="495.55" width="1.94" height="1.94" rx="0.35" fill="#7CAE00"/><rect x="116.7" y="488.57" width="1.94" height="1.94" rx="0.35" fill="#00BFC4"/><rect x="121" y="488.97" width="1.94" height="1.94" rx="0.35" fill="#F8766D"/><rect x="137.52" y="495.28" width="1.94" height="1.94" rx="0.35" fill="#7CAE00"/><rect x="135.5" y="494.34" width="1.94" height="1.94" rx="0.35" fill="#00BFC4"/><rect x="141.55" y="493.67" width="1.94" height="1.94" rx="0.35" fill="#F8766D"/><rect x="140.88" y="495.28" width="1.94" height="1.94" rx="0.35" fill="#7CAE00"/><rect x="148.26" y="495.69" width="1.94" height="1.94" rx="0.35" fill="#00BFC4"/><rect x="152.96" y="495.69" width="1.94" height="1.94" rx="0.35" fill="#00BFC4"/><rect x="171.77" y="495.69" width="1.94" height="1.94" rx="0.35" fill="#00BFC4"/></g>
<polygon points="32.6,456.5 35.45,457.43 38.29,458.37 41.14,459.3 43.98,460.23 46.83,461.16 49.67,462.09 52.52,463.02 55.37,463.95 58.21,464.88 61.06,465.81 63.9,466.73 66.75,467.66 69.59,468.58 72.44,469.5 75.29,470.42 78.13,471.33 80.98,472.24 83.82,473.16 86.67,474.06 89.52,474.97 92.36,475.86 95.21,476.76 98.05,477.64 100.9,478.52 103.74,479.4 106.59,480.26 109.44,481.11 112.28,481.94 115.13,482.76 117.97,483.56 120.82,484.33 123.66,485.07 126.51,485.78 129.36,486.45 132.2,487.08 135.05,487.66 137.89,488.19 140.74,488.67 143.58,489.11 146.43,489.51 149.28,489.88 152.12,490.21 154.97,490.52 157.81,490.8 160.66,491.07 163.51,491.32 166.35,491.56 169.2,491.79 172.04,492.01 174.89,492.22 177.73,492.42 180.58,492.62 183.43,492.81 186.27,493 189.12,493.19 191.96,493.37 194.81,493.55 197.65,493.73 200.5,493.9 200.5,512.9 197.65,511.99 194.81,511.09 191.96,510.19 189.12,509.29 186.27,508.39 183.43,507.5 180.58,506.61 177.73,505.73 174.89,504.85 172.04,503.98 169.2,503.12 166.35,502.26 163.51,501.42 160.66,500.59 157.81,499.78 154.97,498.98 152.12,498.21 149.28,497.46 146.43,496.74 143.58,496.06 140.74,495.42 137.89,494.83 135.05,494.27 132.2,493.77 129.36,493.31 126.51,492.9 123.66,492.53 120.82,492.19 117.97,491.88 115.13,491.6 112.28,491.34 109.44,491.09 106.59,490.86 103.74,490.64 100.9,490.43 98.05,490.23 95.21,490.03 92.36,489.84 89.52,489.66 86.67,489.48 83.82,489.31 80.98,489.14 78.13,488.97 75.29,488.8 72.44,488.64 69.59,488.48 66.75,488.32 63.9,488.16 61.06,488.01 58.21,487.85 55.37,487.7 52.52,487.55 49.67,487.39 46.83,487.24 43.98,487.09 41.14,486.94 38.29,486.8 35.45,486.65 32.6,486.5" fill="#999999" fill-opacity="0.4"/>
<line x1="32.6" y1="471.5" x2="200.5" y2="503.4" stroke="#3366FF" stroke-width="1.2"/>
<text x="201.7" y="430.4" font-size="8.05" font-weight="bold" text-anchor="end" fill="#000" stroke="#000" stroke-width="0.05" font-family="Liberation Sans, sans-serif">r = -0.15, P = 0.011</text>
<text x="116.6" y="596.7" font-size="11.2" font-weight="bold" text-anchor="middle" fill="#000" stroke="#000" stroke-width="0.28" font-family="Liberation Sans, sans-serif">Adjusted IgjcWMH</text>
<text transform="translate(10.3,497.8) rotate(-90)" font-size="11.2" font-weight="bold" text-anchor="middle" fill="#000" stroke="#000" stroke-width="0.28" font-family="Liberation Sans, sans-serif">Adjusted Memory</text>
<text x="1.7" y="411.8" font-size="14.8" font-weight="bold" fill="#000" stroke="#000" stroke-width="0.18" font-family="Liberation Sans, sans-serif">G</text>
<rect x="244.9" y="419.9" width="179" height="157.9" fill="#EBEBEB"/>
<line x1="285.1" y1="419.9" x2="285.1" y2="577.8" stroke="#F0F0F0" stroke-width="0.8"/>
<line x1="331.1" y1="419.9" x2="331.1" y2="577.8" stroke="#F0F0F0" stroke-width="0.8"/>
<line x1="377.1" y1="419.9" x2="377.1" y2="577.8" stroke="#F0F0F0" stroke-width="0.8"/>
<line x1="244.9" y1="568.98" x2="423.9" y2="568.98" stroke="#F0F0F0" stroke-width="0.8"/>
<line x1="244.9" y1="534.23" x2="423.9" y2="534.23" stroke="#F0F0F0" stroke-width="0.8"/>
<line x1="244.9" y1="499.48" x2="423.9" y2="499.48" stroke="#F0F0F0" stroke-width="0.8"/>
<line x1="244.9" y1="464.73" x2="423.9" y2="464.73" stroke="#F0F0F0" stroke-width="0.8"/>
<line x1="244.9" y1="429.98" x2="423.9" y2="429.98" stroke="#F0F0F0" stroke-width="0.8"/>
<line x1="262.1" y1="419.9" x2="262.1" y2="577.8" stroke="#F4F4F4" stroke-width="1.1"/>
<line x1="308.1" y1="419.9" x2="308.1" y2="577.8" stroke="#F4F4F4" stroke-width="1.1"/>
<line x1="354.1" y1="419.9" x2="354.1" y2="577.8" stroke="#F4F4F4" stroke-width="1.1"/>
<line x1="400.1" y1="419.9" x2="400.1" y2="577.8" stroke="#F4F4F4" stroke-width="1.1"/>
<line x1="244.9" y1="551.6" x2="423.9" y2="551.6" stroke="#F4F4F4" stroke-width="1.1"/>
<line x1="244.9" y1="516.85" x2="423.9" y2="516.85" stroke="#F4F4F4" stroke-width="1.1"/>
<line x1="244.9" y1="482.1" x2="423.9" y2="482.1" stroke="#F4F4F4" stroke-width="1.1"/>
<line x1="244.9" y1="447.35" x2="423.9" y2="447.35" stroke="#F4F4F4" stroke-width="1.1"/>
<line x1="262.1" y1="577.8" x2="262.1" y2="579.8" stroke="#777" stroke-width="0.7"/>
<text x="262.1" y="587.2" font-size="9.4" fill="#4D4D4D" stroke="#4D4D4D" stroke-width="0.5" text-anchor="middle" font-family="Liberation Sans, sans-serif">-2</text>
<line x1="308.1" y1="577.8" x2="308.1" y2="579.8" stroke="#777" stroke-width="0.7"/>
<text x="308.1" y="587.2" font-size="9.4" fill="#4D4D4D" stroke="#4D4D4D" stroke-width="0.5" text-anchor="middle" font-family="Liberation Sans, sans-serif">-&#8199;</text><path transform="translate(307.05,587.2) scale(9.4)" d="M0.283,0L0.373,0L0.373,-0.716L0.315,-0.716C0.29,-0.65 0.22,-0.57 0.109,-0.52L0.109,-0.445C0.18,-0.47 0.24,-0.51 0.283,-0.55Z" fill="#4D4D4D" stroke="#4D4D4D" stroke-width="0.0532"/>
<line x1="354.1" y1="577.8" x2="354.1" y2="579.8" stroke="#777" stroke-width="0.7"/>
<text x="354.1" y="587.2" font-size="9.4" fill="#4D4D4D" stroke="#4D4D4D" stroke-width="0.5" text-anchor="middle" font-family="Liberation Sans, sans-serif">0</text>
<line x1="400.1" y1="577.8" x2="400.1" y2="579.8" stroke="#777" stroke-width="0.7"/>
<text x="400.1" y="587.2" font-size="9.4" fill="#4D4D4D" stroke="#4D4D4D" stroke-width="0.5" text-anchor="middle" font-family="Liberation Sans, sans-serif">&#8199;</text><path transform="translate(397.49,587.2) scale(9.4)" d="M0.283,0L0.373,0L0.373,-0.716L0.315,-0.716C0.29,-0.65 0.22,-0.57 0.109,-0.52L0.109,-0.445C0.18,-0.47 0.24,-0.51 0.283,-0.55Z" fill="#4D4D4D" stroke="#4D4D4D" stroke-width="0.0532"/>
<line x1="242.9" y1="551.6" x2="244.9" y2="551.6" stroke="#777" stroke-width="0.7"/>
<text x="242.7" y="554.9" font-size="9.4" fill="#4D4D4D" stroke="#4D4D4D" stroke-width="0.5" text-anchor="end" font-family="Liberation Sans, sans-serif">0.0</text>
<line x1="242.9" y1="516.85" x2="244.9" y2="516.85" stroke="#777" stroke-width="0.7"/>
<text x="242.7" y="520.15" font-size="9.4" fill="#4D4D4D" stroke="#4D4D4D" stroke-width="0.5" text-anchor="end" font-family="Liberation Sans, sans-serif">2.5</text>
<line x1="242.9" y1="482.1" x2="244.9" y2="482.1" stroke="#777" stroke-width="0.7"/>
<text x="242.7" y="485.4" font-size="9.4" fill="#4D4D4D" stroke="#4D4D4D" stroke-width="0.5" text-anchor="end" font-family="Liberation Sans, sans-serif">5.0</text>
<line x1="242.9" y1="447.35" x2="244.9" y2="447.35" stroke="#777" stroke-width="0.7"/>
<text x="242.7" y="450.65" font-size="9.4" fill="#4D4D4D" stroke="#4D4D4D" stroke-width="0.5" text-anchor="end" font-family="Liberation Sans, sans-serif">7.5</text>
<g><rect x="333.37" y="516" width="1.94" height="1.94" rx="0.35" fill="#C77CFF"/><rect x="331.01" y="523.87" width="1.94" height="1.94" rx="0.35" fill="#00BFC4"/><rect x="311.43" y="532.4" width="1.94" height="1.94" rx="0.35" fill="#00BFC4"/><rect x="328.12" y="536.34" width="1.94" height="1.94" rx="0.35" fill="#00BFC4"/><rect x="332.72" y="538.97" width="1.94" height="1.94" rx="0.35" fill="#00BFC4"/><rect x="292.38" y="538.57" width="1.94" height="1.94" rx="0.35" fill="#00BFC4"/><rect x="306.44" y="541.59" width="1.94" height="1.94" rx="0.35" fill="#00BFC4"/><rect x="313.67" y="541.59" width="1.94" height="1.94" rx="0.35" fill="#00BFC4"/><rect x="324.57" y="545.27" width="1.94" height="1.94" rx="0.35" fill="#00BFC4"/><rect x="324.83" y="546.84" width="1.94" height="1.94" rx="0.35" fill="#00BFC4"/><rect x="333.37" y="545.27" width="1.94" height="1.94" rx="0.35" fill="#F8766D"/><rect x="301.18" y="547.5" width="1.94" height="1.94" rx="0.35" fill="#00BFC4"/><rect x="304.73" y="548.42" width="1.94" height="1.94" rx="0.35" fill="#F8766D"/><rect x="304.86" y="549.2" width="1.94" height="1.94" rx="0.35" fill="#F8766D"/><rect x="306.18" y="547.89" width="1.94" height="1.94" rx="0.35" fill="#00BFC4"/><rect x="285.42" y="549.2" width="1.94" height="1.94" rx="0.35" fill="#00BFC4"/><rect x="326.15" y="550.52" width="1.94" height="1.94" rx="0.35" fill="#00BFC4"/><rect x="322.21" y="552.09" width="1.94" height="1.94" rx="0.35" fill="#F8766D"/><rect x="329.17" y="551.44" width="1.94" height="1.94" rx="0.35" fill="#7CAE00"/><rect x="251.91" y="554.32" width="1.94" height="1.94" rx="0.35" fill="#00BFC4"/><rect x="272.02" y="553.14" width="1.94" height="1.94" rx="0.35" fill="#7CAE00"/><rect x="318.92" y="554.06" width="1.94" height="1.94" rx="0.35" fill="#7CAE00"/><rect x="322.21" y="552.75" width="1.94" height="1.94" rx="0.35" fill="#00BFC4"/><rect x="332.72" y="554.72" width="1.94" height="1.94" rx="0.35" fill="#7CAE00"/><rect x="333.37" y="555.77" width="1.94" height="1.94" rx="0.35" fill="#7CAE00"/><rect x="331.4" y="555.77" width="1.94" height="1.94" rx="0.35" fill="#00BFC4"/><rect x="327.85" y="556.03" width="1.94" height="1.94" rx="0.35" fill="#00BFC4"/><rect x="318" y="556.03" width="1.94" height="1.94" rx="0.35" fill="#C77CFF"/><rect x="314.98" y="555.77" width="1.94" height="1.94" rx="0.35" fill="#00BFC4"/><rect x="301.84" y="556.03" width="1.94" height="1.94" rx="0.35" fill="#7CAE00"/><rect x="308.8" y="558" width="1.94" height="1.94" rx="0.35" fill="#F8766D"/><rect x="312.09" y="557.74" width="1.94" height="1.94" rx="0.35" fill="#00BFC4"/><rect x="325.23" y="557.61" width="1.94" height="1.94" rx="0.35" fill="#7CAE00"/><rect x="322.86" y="559.7" width="1.94" height="1.94" rx="0.35" fill="#7CAE00"/><rect x="330.09" y="559.31" width="1.94" height="1.94" rx="0.35" fill="#7CAE00"/><rect x="300.53" y="560.62" width="1.94" height="1.94" rx="0.35" fill="#00BFC4"/><rect x="326.15" y="561.54" width="1.94" height="1.94" rx="0.35" fill="#7CAE00"/><rect x="319.84" y="562.33" width="1.94" height="1.94" rx="0.35" fill="#F8766D"/><rect x="334.42" y="516" width="1.94" height="1.94" rx="0.35" fill="#C77CFF"/><rect x="340.86" y="519.28" width="1.94" height="1.94" rx="0.35" fill="#00BFC4"/><rect x="357.42" y="517.97" width="1.94" height="1.94" rx="0.35" fill="#C77CFF"/><rect x="373.71" y="514.29" width="1.94" height="1.94" rx="0.35" fill="#C77CFF"/><rect x="370.82" y="520.86" width="1.94" height="1.94" rx="0.35" fill="#C77CFF"/><rect x="379.1" y="522.95" width="1.94" height="1.94" rx="0.35" fill="#C77CFF"/><rect x="379.75" y="525.84" width="1.94" height="1.94" rx="0.35" fill="#C77CFF"/><rect x="358.73" y="526.11" width="1.94" height="1.94" rx="0.35" fill="#C77CFF"/><rect x="361.88" y="531.36" width="1.94" height="1.94" rx="0.35" fill="#00BFC4"/><rect x="348.88" y="535.42" width="1.94" height="1.94" rx="0.35" fill="#00BFC4"/><rect x="357.68" y="535.69" width="1.94" height="1.94" rx="0.35" fill="#00BFC4"/><rect x="360.31" y="534.37" width="1.94" height="1.94" rx="0.35" fill="#00BFC4"/><rect x="364.91" y="535.69" width="1.94" height="1.94" rx="0.35" fill="#00BFC4"/><rect x="366.88" y="533.72" width="1.94" height="1.94" rx="0.35" fill="#00BFC4"/><rect x="385.27" y="535.03" width="1.94" height="1.94" rx="0.35" fill="#F8766D"/><rect x="375.02" y="538.31" width="1.94" height="1.94" rx="0.35" fill="#C77CFF"/><rect x="375.81" y="537" width="1.94" height="1.94" rx="0.35" fill="#C77CFF"/><rect x="355.05" y="539.23" width="1.94" height="1.94" rx="0.35" fill="#00BFC4"/><rect x="357.94" y="540.67" width="1.94" height="1.94" rx="0.35" fill="#00BFC4"/><rect x="363.59" y="540.94" width="1.94" height="1.94" rx="0.35" fill="#00BFC4"/><rect x="366.88" y="539.89" width="1.94" height="1.94" rx="0.35" fill="#00BFC4"/><rect x="381.99" y="541.2" width="1.94" height="1.94" rx="0.35" fill="#00BFC4"/><rect x="374.5" y="542.64" width="1.94" height="1.94" rx="0.35" fill="#00BFC4"/><rect x="376.47" y="542.9" width="1.94" height="1.94" rx="0.35" fill="#C77CFF"/><rect x="378.04" y="544.22" width="1.94" height="1.94" rx="0.35" fill="#00BFC4"/><rect x="381.33" y="545.27" width="1.94" height="1.94" rx="0.35" fill="#F8766D"/><rect x="379.1" y="546.19" width="1.94" height="1.94" rx="0.35" fill="#00BFC4"/><rect x="385.93" y="545.92" width="1.94" height="1.94" rx="0.35" fill="#00BFC4"/><rect x="388.95" y="546.19" width="1.94" height="1.94" rx="0.35" fill="#00BFC4"/><rect x="374.5" y="545.53" width="1.94" height="1.94" rx="0.35" fill="#7CAE00"/><rect x="375.81" y="546.58" width="1.94" height="1.94" rx="0.35" fill="#7CAE00"/><rect x="362.94" y="543.82" width="1.94" height="1.94" rx="0.35" fill="#C77CFF"/><rect x="361.36" y="543.17" width="1.94" height="1.94" rx="0.35" fill="#00BFC4"/><rect x="343.23" y="543.95" width="1.94" height="1.94" rx="0.35" fill="#00BFC4"/><rect x="348.88" y="543.56" width="1.94" height="1.94" rx="0.35" fill="#7CAE00"/><rect x="355.05" y="544.61" width="1.94" height="1.94" rx="0.35" fill="#C77CFF"/><rect x="355.31" y="545.92" width="1.94" height="1.94" rx="0.35" fill="#00BFC4"/><rect x="357.42" y="545.92" width="1.94" height="1.94" rx="0.35" fill="#00BFC4"/><rect x="359.65" y="545.79" width="1.94" height="1.94" rx="0.35" fill="#00BFC4"/><rect x="360.31" y="546.84" width="1.94" height="1.94" rx="0.35" fill="#7CAE00"/><rect x="362.02" y="546.84" width="1.94" height="1.94" rx="0.35" fill="#00BFC4"/><rect x="365.96" y="547.24" width="1.94" height="1.94" rx="0.35" fill="#C77CFF"/><rect x="369.5" y="548.15" width="1.94" height="1.94" rx="0.35" fill="#7CAE00"/><rect x="334.42" y="545.27" width="1.94" height="1.94" rx="0.35" fill="#00BFC4"/><rect x="334.69" y="545.53" width="1.94" height="1.94" rx="0.35" fill="#F8766D"/><rect x="336" y="547.89" width="1.94" height="1.94" rx="0.35" fill="#7CAE00"/><rect x="339.29" y="548.81" width="1.94" height="1.94" rx="0.35" fill="#F8766D"/><rect x="340.6" y="549.47" width="1.94" height="1.94" rx="0.35" fill="#00BFC4"/><rect x="342.57" y="549.86" width="1.94" height="1.94" rx="0.35" fill="#7CAE00"/><rect x="347.83" y="547.89" width="1.94" height="1.94" rx="0.35" fill="#7CAE00"/><rect x="349.8" y="549.2" width="1.94" height="1.94" rx="0.35" fill="#7CAE00"/><rect x="350.72" y="548.42" width="1.94" height="1.94" rx="0.35" fill="#C77CFF"/><rect x="352.42" y="549.47" width="1.94" height="1.94" rx="0.35" fill="#7CAE00"/><rect x="349.8" y="546.84" width="1.94" height="1.94" rx="0.35" fill="#00BFC4"/><rect x="355.05" y="549.47" width="1.94" height="1.94" rx="0.35" fill="#00BFC4"/><rect x="361.62" y="549.47" width="1.94" height="1.94" rx="0.35" fill="#00BFC4"/><rect x="359.65" y="550.78" width="1.94" height="1.94" rx="0.35" fill="#7CAE00"/><rect x="360.96" y="552.09" width="1.94" height="1.94" rx="0.35" fill="#F8766D"/><rect x="366.88" y="552.09" width="1.94" height="1.94" rx="0.35" fill="#00BFC4"/><rect x="368.85" y="551.04" width="1.94" height="1.94" rx="0.35" fill="#00BFC4"/><rect x="370.82" y="552.09" width="1.94" height="1.94" rx="0.35" fill="#00BFC4"/><rect x="372.79" y="551.44" width="1.94" height="1.94" rx="0.35" fill="#00BFC4"/><rect x="364.91" y="550.52" width="1.94" height="1.94" rx="0.35" fill="#7CAE00"/><rect x="374.1" y="549.73" width="1.94" height="1.94" rx="0.35" fill="#00BFC4"/><rect x="377.39" y="549.47" width="1.94" height="1.94" rx="0.35" fill="#00BFC4"/><rect x="379.36" y="549.2" width="1.94" height="1.94" rx="0.35" fill="#7CAE00"/><rect x="391.84" y="549.73" width="1.94" height="1.94" rx="0.35" fill="#00BFC4"/><rect x="402.09" y="549.2" width="1.94" height="1.94" rx="0.35" fill="#C77CFF"/><rect x="412.6" y="547.5" width="1.94" height="1.94" rx="0.35" fill="#00BFC4"/><rect x="415.23" y="544.87" width="1.94" height="1.94" rx="0.35" fill="#C77CFF"/><rect x="335.34" y="553.4" width="1.94" height="1.94" rx="0.35" fill="#7CAE00"/><rect x="337.97" y="553.4" width="1.94" height="1.94" rx="0.35" fill="#7CAE00"/><rect x="339.29" y="552.09" width="1.94" height="1.94" rx="0.35" fill="#00BFC4"/><rect x="341.26" y="554.06" width="1.94" height="1.94" rx="0.35" fill="#7CAE00"/><rect x="343.88" y="552.09" width="1.94" height="1.94" rx="0.35" fill="#00BFC4"/><rect x="345.85" y="551.44" width="1.94" height="1.94" rx="0.35" fill="#7CAE00"/><rect x="347.17" y="553.4" width="1.94" height="1.94" rx="0.35" fill="#7CAE00"/><rect x="348.48" y="553.4" width="1.94" height="1.94" rx="0.35" fill="#00BFC4"/><rect x="350.45" y="552.75" width="1.94" height="1.94" rx="0.35" fill="#00BFC4"/><rect x="352.42" y="553.4" width="1.94" height="1.94" rx="0.35" fill="#7CAE00"/><rect x="354.39" y="552.09" width="1.94" height="1.94" rx="0.35" fill="#7CAE00"/><rect x="356.63" y="554.06" width="1.94" height="1.94" rx="0.35" fill="#7CAE00"/><rect x="357.94" y="553.14" width="1.94" height="1.94" rx="0.35" fill="#00BFC4"/><rect x="361.62" y="553.4" width="1.94" height="1.94" rx="0.35" fill="#7CAE00"/><rect x="360.96" y="554.72" width="1.94" height="1.94" rx="0.35" fill="#F8766D"/><rect x="363.59" y="554.72" width="1.94" height="1.94" rx="0.35" fill="#00BFC4"/><rect x="365.56" y="554.06" width="1.94" height="1.94" rx="0.35" fill="#00BFC4"/><rect x="368.45" y="555.77" width="1.94" height="1.94" rx="0.35" fill="#00BFC4"/><rect x="371.21" y="555.37" width="1.94" height="1.94" rx="0.35" fill="#C77CFF"/><rect x="373.18" y="554.72" width="1.94" height="1.94" rx="0.35" fill="#F8766D"/><rect x="373.45" y="556.69" width="1.94" height="1.94" rx="0.35" fill="#00BFC4"/><rect x="374.1" y="555.77" width="1.94" height="1.94" rx="0.35" fill="#F8766D"/><rect x="376.07" y="554.72" width="1.94" height="1.94" rx="0.35" fill="#7CAE00"/><rect x="377.39" y="553.4" width="1.94" height="1.94" rx="0.35" fill="#00BFC4"/><rect x="379.36" y="554.06" width="1.94" height="1.94" rx="0.35" fill="#00BFC4"/><rect x="390.53" y="553.4" width="1.94" height="1.94" rx="0.35" fill="#00BFC4"/><rect x="395.12" y="552.36" width="1.94" height="1.94" rx="0.35" fill="#00BFC4"/><rect x="395.78" y="556.03" width="1.94" height="1.94" rx="0.35" fill="#7CAE00"/><rect x="334.69" y="556.03" width="1.94" height="1.94" rx="0.35" fill="#00BFC4"/><rect x="336.66" y="555.77" width="1.94" height="1.94" rx="0.35" fill="#7CAE00"/><rect x="339.94" y="556.42" width="1.94" height="1.94" rx="0.35" fill="#7CAE00"/><rect x="341.91" y="556.29" width="1.94" height="1.94" rx="0.35" fill="#00BFC4"/><rect x="343.88" y="557.34" width="1.94" height="1.94" rx="0.35" fill="#7CAE00"/><rect x="345.2" y="555.77" width="1.94" height="1.94" rx="0.35" fill="#F8766D"/><rect x="346.51" y="557.34" width="1.94" height="1.94" rx="0.35" fill="#7CAE00"/><rect x="349.8" y="557.34" width="1.94" height="1.94" rx="0.35" fill="#00BFC4"/><rect x="350.45" y="559.31" width="1.94" height="1.94" rx="0.35" fill="#F8766D"/><rect x="352.42" y="558.65" width="1.94" height="1.94" rx="0.35" fill="#7CAE00"/><rect x="354.39" y="557.34" width="1.94" height="1.94" rx="0.35" fill="#7CAE00"/><rect x="355.05" y="558" width="1.94" height="1.94" rx="0.35" fill="#F8766D"/><rect x="358.34" y="556.69" width="1.94" height="1.94" rx="0.35" fill="#7CAE00"/><rect x="358.99" y="556.42" width="1.94" height="1.94" rx="0.35" fill="#F8766D"/><rect x="361.62" y="557.34" width="1.94" height="1.94" rx="0.35" fill="#00BFC4"/><rect x="362.94" y="558.65" width="1.94" height="1.94" rx="0.35" fill="#7CAE00"/><rect x="365.56" y="557.61" width="1.94" height="1.94" rx="0.35" fill="#00BFC4"/><rect x="371.48" y="558.39" width="1.94" height="1.94" rx="0.35" fill="#00BFC4"/><rect x="372.79" y="557.34" width="1.94" height="1.94" rx="0.35" fill="#C77CFF"/><rect x="375.42" y="559.31" width="1.94" height="1.94" rx="0.35" fill="#7CAE00"/><rect x="377.39" y="559.31" width="1.94" height="1.94" rx="0.35" fill="#7CAE00"/><rect x="378.7" y="560.62" width="1.94" height="1.94" rx="0.35" fill="#7CAE00"/><rect x="380.02" y="559.97" width="1.94" height="1.94" rx="0.35" fill="#7CAE00"/><rect x="385.27" y="557.74" width="1.94" height="1.94" rx="0.35" fill="#00BFC4"/><rect x="385.27" y="559.31" width="1.94" height="1.94" rx="0.35" fill="#00BFC4"/><rect x="389.21" y="558.39" width="1.94" height="1.94" rx="0.35" fill="#7CAE00"/><rect x="334.69" y="561.28" width="1.94" height="1.94" rx="0.35" fill="#7CAE00"/><rect x="339.94" y="560.23" width="1.94" height="1.94" rx="0.35" fill="#7CAE00"/><rect x="339.94" y="561.94" width="1.94" height="1.94" rx="0.35" fill="#7CAE00"/><rect x="344.54" y="560.62" width="1.94" height="1.94" rx="0.35" fill="#00BFC4"/><rect x="347.17" y="560.62" width="1.94" height="1.94" rx="0.35" fill="#7CAE00"/><rect x="351.11" y="560.89" width="1.94" height="1.94" rx="0.35" fill="#F8766D"/><rect x="352.42" y="560.62" width="1.94" height="1.94" rx="0.35" fill="#7CAE00"/><rect x="355.71" y="560.23" width="1.94" height="1.94" rx="0.35" fill="#7CAE00"/><rect x="357.68" y="561.28" width="1.94" height="1.94" rx="0.35" fill="#00BFC4"/><rect x="359.65" y="561.02" width="1.94" height="1.94" rx="0.35" fill="#7CAE00"/><rect x="360.96" y="562.86" width="1.94" height="1.94" rx="0.35" fill="#F8766D"/><rect x="360.31" y="563.64" width="1.94" height="1.94" rx="0.35" fill="#7CAE00"/><rect x="355.05" y="562.33" width="1.94" height="1.94" rx="0.35" fill="#00BFC4"/><rect x="362.28" y="563.9" width="1.94" height="1.94" rx="0.35" fill="#00BFC4"/><rect x="365.17" y="563.9" width="1.94" height="1.94" rx="0.35" fill="#00BFC4"/><rect x="377.39" y="563.25" width="1.94" height="1.94" rx="0.35" fill="#7CAE00"/><rect x="378.7" y="562.33" width="1.94" height="1.94" rx="0.35" fill="#00BFC4"/><rect x="382.64" y="561.54" width="1.94" height="1.94" rx="0.35" fill="#00BFC4"/><rect x="346.51" y="564.3" width="1.94" height="1.94" rx="0.35" fill="#00BFC4"/><rect x="347.83" y="565.22" width="1.94" height="1.94" rx="0.35" fill="#7CAE00"/><rect x="341.91" y="566.53" width="1.94" height="1.94" rx="0.35" fill="#7CAE00"/><rect x="342.31" y="566.92" width="1.94" height="1.94" rx="0.35" fill="#F8766D"/><rect x="343.88" y="566.92" width="1.94" height="1.94" rx="0.35" fill="#7CAE00"/><rect x="336.66" y="567.19" width="1.94" height="1.94" rx="0.35" fill="#7CAE00"/><rect x="337.97" y="569.42" width="1.94" height="1.94" rx="0.35" fill="#00BFC4"/><rect x="388.95" y="565.87" width="1.94" height="1.94" rx="0.35" fill="#00BFC4"/><rect x="370.69" y="474.14" width="1.94" height="1.94" rx="0.35" fill="#00BFC4"/><rect x="374.63" y="494.61" width="1.94" height="1.94" rx="0.35" fill="#C77CFF"/><rect x="347.3" y="510.09" width="1.94" height="1.94" rx="0.35" fill="#C77CFF"/><rect x="361.49" y="510.09" width="1.94" height="1.94" rx="0.35" fill="#00BFC4"/></g>
<polygon points="252.9,549.7 255.67,549.75 258.44,549.8 261.21,549.84 263.98,549.89 266.75,549.94 269.52,549.99 272.29,550.03 275.06,550.08 277.83,550.12 280.59,550.17 283.36,550.21 286.13,550.26 288.9,550.3 291.67,550.34 294.44,550.38 297.21,550.42 299.98,550.46 302.75,550.5 305.52,550.54 308.29,550.57 311.06,550.6 313.83,550.63 316.6,550.66 319.37,550.68 322.14,550.7 324.91,550.72 327.68,550.73 330.45,550.73 333.22,550.73 335.98,550.71 338.75,550.69 341.52,550.64 344.29,550.59 347.06,550.51 349.83,550.4 352.6,550.28 355.37,550.12 358.14,549.95 360.91,549.76 363.68,549.55 366.45,549.33 369.22,549.1 371.99,548.86 374.76,548.6 377.53,548.34 380.3,548.07 383.07,547.79 385.84,547.51 388.61,547.22 391.37,546.93 394.14,546.64 396.91,546.34 399.68,546.04 402.45,545.74 405.22,545.43 407.99,545.13 410.76,544.82 413.53,544.51 416.3,544.2 416.3,552.4 413.53,552.4 410.76,552.41 407.99,552.41 405.22,552.42 402.45,552.42 399.68,552.43 396.91,552.44 394.14,552.46 391.37,552.48 388.61,552.5 385.84,552.52 383.07,552.55 380.3,552.59 377.53,552.63 374.76,552.68 371.99,552.73 369.22,552.8 366.45,552.88 363.68,552.97 360.91,553.08 358.14,553.2 355.37,553.34 352.6,553.5 349.83,553.68 347.06,553.89 344.29,554.12 341.52,554.38 338.75,554.65 335.98,554.93 333.22,555.23 330.45,555.53 327.68,555.85 324.91,556.17 322.14,556.5 319.37,556.83 316.6,557.17 313.83,557.51 311.06,557.85 308.29,558.19 305.52,558.54 302.75,558.89 299.98,559.24 297.21,559.59 294.44,559.94 291.67,560.29 288.9,560.65 286.13,561 283.36,561.36 280.59,561.71 277.83,562.07 275.06,562.43 272.29,562.78 269.52,563.14 266.75,563.5 263.98,563.86 261.21,564.22 258.44,564.58 255.67,564.94 252.9,565.3" fill="#999999" fill-opacity="0.4"/>
<line x1="252.9" y1="557.5" x2="416.3" y2="548.3" stroke="#3366FF" stroke-width="1.2"/>
<text x="417.7" y="431.2" font-size="8.05" font-weight="bold" text-anchor="end" fill="#000" stroke="#000" stroke-width="0.05" font-family="Liberation Sans, sans-serif">r = 0.09, P = 0.123</text>
<text x="334.4" y="598" font-size="11.2" font-weight="bold" text-anchor="middle" fill="#000" stroke="#000" stroke-width="0.28" font-family="Liberation Sans, sans-serif">Adjusted IgjcWMH</text>
<text transform="translate(227,498.85) rotate(-90)" font-size="11.2" font-weight="bold" text-anchor="middle" fill="#000" stroke="#000" stroke-width="0.28" font-family="Liberation Sans, sans-serif">Adjusted Executive</text>
<text x="226" y="412.6" font-size="14.8" font-weight="bold" fill="#000" stroke="#000" stroke-width="0.18" font-family="Liberation Sans, sans-serif">H</text>
<rect x="458" y="419" width="183.7" height="157.7" fill="#EBEBEB"/>
<line x1="499.7" y1="419" x2="499.7" y2="576.7" stroke="#F0F0F0" stroke-width="0.8"/>
<line x1="546.1" y1="419" x2="546.1" y2="576.7" stroke="#F0F0F0" stroke-width="0.8"/>
<line x1="592.5" y1="419" x2="592.5" y2="576.7" stroke="#F0F0F0" stroke-width="0.8"/>
<line x1="458" y1="568" x2="641.7" y2="568" stroke="#F0F0F0" stroke-width="0.8"/>
<line x1="458" y1="536" x2="641.7" y2="536" stroke="#F0F0F0" stroke-width="0.8"/>
<line x1="458" y1="504" x2="641.7" y2="504" stroke="#F0F0F0" stroke-width="0.8"/>
<line x1="458" y1="472" x2="641.7" y2="472" stroke="#F0F0F0" stroke-width="0.8"/>
<line x1="458" y1="440" x2="641.7" y2="440" stroke="#F0F0F0" stroke-width="0.8"/>
<line x1="476.5" y1="419" x2="476.5" y2="576.7" stroke="#F4F4F4" stroke-width="1.1"/>
<line x1="522.9" y1="419" x2="522.9" y2="576.7" stroke="#F4F4F4" stroke-width="1.1"/>
<line x1="569.3" y1="419" x2="569.3" y2="576.7" stroke="#F4F4F4" stroke-width="1.1"/>
<line x1="615.7" y1="419" x2="615.7" y2="576.7" stroke="#F4F4F4" stroke-width="1.1"/>
<line x1="458" y1="552" x2="641.7" y2="552" stroke="#F4F4F4" stroke-width="1.1"/>
<line x1="458" y1="520" x2="641.7" y2="520" stroke="#F4F4F4" stroke-width="1.1"/>
<line x1="458" y1="488" x2="641.7" y2="488" stroke="#F4F4F4" stroke-width="1.1"/>
<line x1="458" y1="456" x2="641.7" y2="456" stroke="#F4F4F4" stroke-width="1.1"/>
<line x1="458" y1="424" x2="641.7" y2="424" stroke="#F4F4F4" stroke-width="1.1"/>
<line x1="476.5" y1="576.7" x2="476.5" y2="578.7" stroke="#777" stroke-width="0.7"/>
<text x="476.5" y="586.1" font-size="9.4" fill="#4D4D4D" stroke="#4D4D4D" stroke-width="0.5" text-anchor="middle" font-family="Liberation Sans, sans-serif">-2</text>
<line x1="522.9" y1="576.7" x2="522.9" y2="578.7" stroke="#777" stroke-width="0.7"/>
<text x="522.9" y="586.1" font-size="9.4" fill="#4D4D4D" stroke="#4D4D4D" stroke-width="0.5" text-anchor="middle" font-family="Liberation Sans, sans-serif">-&#8199;</text><path transform="translate(521.85,586.1) scale(9.4)" d="M0.283,0L0.373,0L0.373,-0.716L0.315,-0.716C0.29,-0.65 0.22,-0.57 0.109,-0.52L0.109,-0.445C0.18,-0.47 0.24,-0.51 0.283,-0.55Z" fill="#4D4D4D" stroke="#4D4D4D" stroke-width="0.0532"/>
<line x1="569.3" y1="576.7" x2="569.3" y2="578.7" stroke="#777" stroke-width="0.7"/>
<text x="569.3" y="586.1" font-size="9.4" fill="#4D4D4D" stroke="#4D4D4D" stroke-width="0.5" text-anchor="middle" font-family="Liberation Sans, sans-serif">0</text>
<line x1="615.7" y1="576.7" x2="615.7" y2="578.7" stroke="#777" stroke-width="0.7"/>
<text x="615.7" y="586.1" font-size="9.4" fill="#4D4D4D" stroke="#4D4D4D" stroke-width="0.5" text-anchor="middle" font-family="Liberation Sans, sans-serif">&#8199;</text><path transform="translate(613.09,586.1) scale(9.4)" d="M0.283,0L0.373,0L0.373,-0.716L0.315,-0.716C0.29,-0.65 0.22,-0.57 0.109,-0.52L0.109,-0.445C0.18,-0.47 0.24,-0.51 0.283,-0.55Z" fill="#4D4D4D" stroke="#4D4D4D" stroke-width="0.0532"/>
<line x1="456" y1="552" x2="458" y2="552" stroke="#777" stroke-width="0.7"/>
<text x="455.8" y="555.3" font-size="9.4" fill="#4D4D4D" stroke="#4D4D4D" stroke-width="0.5" text-anchor="end" font-family="Liberation Sans, sans-serif">-2</text>
<line x1="456" y1="520" x2="458" y2="520" stroke="#777" stroke-width="0.7"/>
<text x="455.8" y="523.3" font-size="9.4" fill="#4D4D4D" stroke="#4D4D4D" stroke-width="0.5" text-anchor="end" font-family="Liberation Sans, sans-serif">-&#8199;</text><path transform="translate(450.57,523.3) scale(9.4)" d="M0.283,0L0.373,0L0.373,-0.716L0.315,-0.716C0.29,-0.65 0.22,-0.57 0.109,-0.52L0.109,-0.445C0.18,-0.47 0.24,-0.51 0.283,-0.55Z" fill="#4D4D4D" stroke="#4D4D4D" stroke-width="0.0532"/>
<line x1="456" y1="488" x2="458" y2="488" stroke="#777" stroke-width="0.7"/>
<text x="455.8" y="491.3" font-size="9.4" fill="#4D4D4D" stroke="#4D4D4D" stroke-width="0.5" text-anchor="end" font-family="Liberation Sans, sans-serif">0</text>
<line x1="456" y1="456" x2="458" y2="456" stroke="#777" stroke-width="0.7"/>
<text x="455.8" y="459.3" font-size="9.4" fill="#4D4D4D" stroke="#4D4D4D" stroke-width="0.5" text-anchor="end" font-family="Liberation Sans, sans-serif">&#8199;</text><path transform="translate(450.57,459.3) scale(9.4)" d="M0.283,0L0.373,0L0.373,-0.716L0.315,-0.716C0.29,-0.65 0.22,-0.57 0.109,-0.52L0.109,-0.445C0.18,-0.47 0.24,-0.51 0.283,-0.55Z" fill="#4D4D4D" stroke="#4D4D4D" stroke-width="0.0532"/>
<line x1="456" y1="424" x2="458" y2="424" stroke="#777" stroke-width="0.7"/>
<text x="455.8" y="427.3" font-size="9.4" fill="#4D4D4D" stroke="#4D4D4D" stroke-width="0.5" text-anchor="end" font-family="Liberation Sans, sans-serif">2</text>
<g><rect x="528.88" y="500.79" width="1.94" height="1.94" rx="0.35" fill="#00BFC4"/><rect x="533.18" y="499.05" width="1.94" height="1.94" rx="0.35" fill="#C77CFF"/><rect x="536" y="500.39" width="1.94" height="1.94" rx="0.35" fill="#00BFC4"/><rect x="539.36" y="500.66" width="1.94" height="1.94" rx="0.35" fill="#7CAE00"/><rect x="540.97" y="497.7" width="1.94" height="1.94" rx="0.35" fill="#00BFC4"/><rect x="544.06" y="498.1" width="1.94" height="1.94" rx="0.35" fill="#00BFC4"/><rect x="545.67" y="499.05" width="1.94" height="1.94" rx="0.35" fill="#00BFC4"/><rect x="521.09" y="503.75" width="1.94" height="1.94" rx="0.35" fill="#00BFC4"/><rect x="543.25" y="510.2" width="1.94" height="1.94" rx="0.35" fill="#00BFC4"/><rect x="514.78" y="514.9" width="1.94" height="1.94" rx="0.35" fill="#00BFC4"/><rect x="540.57" y="523.36" width="1.94" height="1.94" rx="0.35" fill="#00BFC4"/><rect x="548.36" y="543.11" width="1.94" height="1.94" rx="0.35" fill="#C77CFF"/><rect x="536" y="568.77" width="1.94" height="1.94" rx="0.35" fill="#C77CFF"/><rect x="560.45" y="497.7" width="1.94" height="1.94" rx="0.35" fill="#00BFC4"/><rect x="560.85" y="499.45" width="1.94" height="1.94" rx="0.35" fill="#C77CFF"/><rect x="563.8" y="497.7" width="1.94" height="1.94" rx="0.35" fill="#7CAE00"/><rect x="558.43" y="499.72" width="1.94" height="1.94" rx="0.35" fill="#00BFC4"/><rect x="562.46" y="499.45" width="1.94" height="1.94" rx="0.35" fill="#00BFC4"/><rect x="565.82" y="500.39" width="1.94" height="1.94" rx="0.35" fill="#F8766D"/><rect x="568.91" y="499.72" width="1.94" height="1.94" rx="0.35" fill="#7CAE00"/><rect x="570.52" y="499.05" width="1.94" height="1.94" rx="0.35" fill="#00BFC4"/><rect x="572.13" y="497.43" width="1.94" height="1.94" rx="0.35" fill="#00BFC4"/><rect x="577.5" y="500.39" width="1.94" height="1.94" rx="0.35" fill="#F8766D"/><rect x="577.23" y="499.45" width="1.94" height="1.94" rx="0.35" fill="#00BFC4"/><rect x="581.94" y="497.43" width="1.94" height="1.94" rx="0.35" fill="#00BFC4"/><rect x="588.25" y="497.43" width="1.94" height="1.94" rx="0.35" fill="#F8766D"/><rect x="589.32" y="499.05" width="1.94" height="1.94" rx="0.35" fill="#00BFC4"/><rect x="590.93" y="499.05" width="1.94" height="1.94" rx="0.35" fill="#7CAE00"/><rect x="603.42" y="497.7" width="1.94" height="1.94" rx="0.35" fill="#00BFC4"/><rect x="594.69" y="501.06" width="1.94" height="1.94" rx="0.35" fill="#C77CFF"/><rect x="551.31" y="502.14" width="1.94" height="1.94" rx="0.35" fill="#7CAE00"/><rect x="555.07" y="501.73" width="1.94" height="1.94" rx="0.35" fill="#00BFC4"/><rect x="561.39" y="505.36" width="1.94" height="1.94" rx="0.35" fill="#00BFC4"/><rect x="566.09" y="506.03" width="1.94" height="1.94" rx="0.35" fill="#00BFC4"/><rect x="565.82" y="508.72" width="1.94" height="1.94" rx="0.35" fill="#00BFC4"/><rect x="550.1" y="507.11" width="1.94" height="1.94" rx="0.35" fill="#7CAE00"/><rect x="554.4" y="506.84" width="1.94" height="1.94" rx="0.35" fill="#00BFC4"/><rect x="573.88" y="503.34" width="1.94" height="1.94" rx="0.35" fill="#00BFC4"/><rect x="576.83" y="502.67" width="1.94" height="1.94" rx="0.35" fill="#00BFC4"/><rect x="575.22" y="506.03" width="1.94" height="1.94" rx="0.35" fill="#00BFC4"/><rect x="574.28" y="508.45" width="1.94" height="1.94" rx="0.35" fill="#7CAE00"/><rect x="572.53" y="510.47" width="1.94" height="1.94" rx="0.35" fill="#C77CFF"/><rect x="575.62" y="510.06" width="1.94" height="1.94" rx="0.35" fill="#00BFC4"/><rect x="579.65" y="508.18" width="1.94" height="1.94" rx="0.35" fill="#C77CFF"/><rect x="587.04" y="506.03" width="1.94" height="1.94" rx="0.35" fill="#F8766D"/><rect x="596.04" y="508.45" width="1.94" height="1.94" rx="0.35" fill="#00BFC4"/><rect x="601.01" y="505.09" width="1.94" height="1.94" rx="0.35" fill="#00BFC4"/><rect x="610.41" y="503.08" width="1.94" height="1.94" rx="0.35" fill="#7CAE00"/><rect x="626.93" y="509.12" width="1.94" height="1.94" rx="0.35" fill="#00BFC4"/><rect x="632.97" y="508.05" width="1.94" height="1.94" rx="0.35" fill="#C77CFF"/><rect x="592.68" y="511.41" width="1.94" height="1.94" rx="0.35" fill="#C77CFF"/><rect x="587.71" y="514.09" width="1.94" height="1.94" rx="0.35" fill="#C77CFF"/><rect x="588.65" y="514.76" width="1.94" height="1.94" rx="0.35" fill="#00BFC4"/><rect x="597.11" y="515.84" width="1.94" height="1.94" rx="0.35" fill="#00BFC4"/><rect x="606.51" y="514.09" width="1.94" height="1.94" rx="0.35" fill="#00BFC4"/><rect x="551.72" y="514.9" width="1.94" height="1.94" rx="0.35" fill="#00BFC4"/><rect x="557.09" y="517.85" width="1.94" height="1.94" rx="0.35" fill="#00BFC4"/><rect x="571.86" y="518.12" width="1.94" height="1.94" rx="0.35" fill="#C77CFF"/><rect x="568.24" y="519.2" width="1.94" height="1.94" rx="0.35" fill="#00BFC4"/><rect x="570.79" y="520.54" width="1.94" height="1.94" rx="0.35" fill="#00BFC4"/><rect x="576.83" y="518.8" width="1.94" height="1.94" rx="0.35" fill="#00BFC4"/><rect x="576.83" y="520.94" width="1.94" height="1.94" rx="0.35" fill="#00BFC4"/><rect x="581.67" y="517.18" width="1.94" height="1.94" rx="0.35" fill="#C77CFF"/><rect x="582.88" y="517.59" width="1.94" height="1.94" rx="0.35" fill="#00BFC4"/><rect x="563.13" y="522.29" width="1.94" height="1.94" rx="0.35" fill="#00BFC4"/><rect x="581.67" y="522.83" width="1.94" height="1.94" rx="0.35" fill="#C77CFF"/><rect x="587.04" y="522.56" width="1.94" height="1.94" rx="0.35" fill="#C77CFF"/><rect x="586.9" y="523.63" width="1.94" height="1.94" rx="0.35" fill="#00BFC4"/><rect x="591.07" y="523.23" width="1.94" height="1.94" rx="0.35" fill="#C77CFF"/><rect x="596.98" y="523.63" width="1.94" height="1.94" rx="0.35" fill="#00BFC4"/><rect x="576.29" y="527.93" width="1.94" height="1.94" rx="0.35" fill="#00BFC4"/><rect x="577.23" y="530.35" width="1.94" height="1.94" rx="0.35" fill="#C77CFF"/><rect x="587.98" y="527.93" width="1.94" height="1.94" rx="0.35" fill="#00BFC4"/><rect x="589.99" y="531.02" width="1.94" height="1.94" rx="0.35" fill="#C77CFF"/><rect x="590.93" y="533.57" width="1.94" height="1.94" rx="0.35" fill="#C77CFF"/><rect x="571.19" y="531.96" width="1.94" height="1.94" rx="0.35" fill="#00BFC4"/><rect x="582.88" y="534.65" width="1.94" height="1.94" rx="0.35" fill="#00BFC4"/><rect x="605.71" y="533.84" width="1.94" height="1.94" rx="0.35" fill="#C77CFF"/><rect x="564.48" y="537.07" width="1.94" height="1.94" rx="0.35" fill="#C77CFF"/><rect x="576.29" y="537.6" width="1.94" height="1.94" rx="0.35" fill="#C77CFF"/><rect x="569.58" y="539.08" width="1.94" height="1.94" rx="0.35" fill="#00BFC4"/><rect x="590.26" y="538.95" width="1.94" height="1.94" rx="0.35" fill="#C77CFF"/><rect x="549.43" y="543.11" width="1.94" height="1.94" rx="0.35" fill="#C77CFF"/><rect x="589.72" y="544.46" width="1.94" height="1.94" rx="0.35" fill="#C77CFF"/><rect x="591.74" y="546.74" width="1.94" height="1.94" rx="0.35" fill="#C77CFF"/><rect x="568.5" y="556.82" width="1.94" height="1.94" rx="0.35" fill="#C77CFF"/><rect x="579.65" y="563.94" width="1.94" height="1.94" rx="0.35" fill="#C77CFF"/><rect x="533.85" y="435.23" width="1.94" height="1.94" rx="0.35" fill="#F8766D"/><rect x="538.69" y="442.48" width="1.94" height="1.94" rx="0.35" fill="#7CAE00"/><rect x="518.54" y="445.98" width="1.94" height="1.94" rx="0.35" fill="#F8766D"/><rect x="506.72" y="451.62" width="1.94" height="1.94" rx="0.35" fill="#00BFC4"/><rect x="525.12" y="456.72" width="1.94" height="1.94" rx="0.35" fill="#00BFC4"/><rect x="535.6" y="459.95" width="1.94" height="1.94" rx="0.35" fill="#F8766D"/><rect x="530.9" y="462.77" width="1.94" height="1.94" rx="0.35" fill="#00BFC4"/><rect x="517.87" y="466.13" width="1.94" height="1.94" rx="0.35" fill="#F8766D"/><rect x="517.07" y="470.43" width="1.94" height="1.94" rx="0.35" fill="#7CAE00"/><rect x="532.64" y="469.08" width="1.94" height="1.94" rx="0.35" fill="#7CAE00"/><rect x="544.33" y="465.46" width="1.94" height="1.94" rx="0.35" fill="#7CAE00"/><rect x="545.4" y="468.82" width="1.94" height="1.94" rx="0.35" fill="#7CAE00"/><rect x="548.09" y="470.83" width="1.94" height="1.94" rx="0.35" fill="#7CAE00"/><rect x="540.97" y="472.04" width="1.94" height="1.94" rx="0.35" fill="#7CAE00"/><rect x="540.3" y="475.53" width="1.94" height="1.94" rx="0.35" fill="#00BFC4"/><rect x="548.76" y="475.13" width="1.94" height="1.94" rx="0.35" fill="#7CAE00"/><rect x="486.31" y="476.07" width="1.94" height="1.94" rx="0.35" fill="#7CAE00"/><rect x="519.08" y="480.77" width="1.94" height="1.94" rx="0.35" fill="#00BFC4"/><rect x="515.18" y="483.46" width="1.94" height="1.94" rx="0.35" fill="#00BFC4"/><rect x="526.2" y="482.92" width="1.94" height="1.94" rx="0.35" fill="#00BFC4"/><rect x="532.91" y="482.52" width="1.94" height="1.94" rx="0.35" fill="#C77CFF"/><rect x="540.97" y="484.8" width="1.94" height="1.94" rx="0.35" fill="#00BFC4"/><rect x="542.72" y="484.27" width="1.94" height="1.94" rx="0.35" fill="#7CAE00"/><rect x="538.55" y="486.95" width="1.94" height="1.94" rx="0.35" fill="#00BFC4"/><rect x="542.72" y="487.49" width="1.94" height="1.94" rx="0.35" fill="#7CAE00"/><rect x="546.08" y="488.83" width="1.94" height="1.94" rx="0.35" fill="#00BFC4"/><rect x="533.32" y="490.18" width="1.94" height="1.94" rx="0.35" fill="#7CAE00"/><rect x="547.96" y="491.66" width="1.94" height="1.94" rx="0.35" fill="#00BFC4"/><rect x="500.01" y="488.16" width="1.94" height="1.94" rx="0.35" fill="#00BFC4"/><rect x="523.91" y="494.88" width="1.94" height="1.94" rx="0.35" fill="#F8766D"/><rect x="465.36" y="496.36" width="1.94" height="1.94" rx="0.35" fill="#00BFC4"/><rect x="554.4" y="425.82" width="1.94" height="1.94" rx="0.35" fill="#7CAE00"/><rect x="568.91" y="424.75" width="1.94" height="1.94" rx="0.35" fill="#F8766D"/><rect x="553.46" y="435.9" width="1.94" height="1.94" rx="0.35" fill="#00BFC4"/><rect x="551.45" y="438.45" width="1.94" height="1.94" rx="0.35" fill="#7CAE00"/><rect x="560.85" y="434.42" width="1.94" height="1.94" rx="0.35" fill="#7CAE00"/><rect x="573.88" y="442.21" width="1.94" height="1.94" rx="0.35" fill="#00BFC4"/><rect x="582.61" y="441.14" width="1.94" height="1.94" rx="0.35" fill="#F8766D"/><rect x="561.12" y="443.29" width="1.94" height="1.94" rx="0.35" fill="#F8766D"/><rect x="562.46" y="446.51" width="1.94" height="1.94" rx="0.35" fill="#7CAE00"/><rect x="567.43" y="447.59" width="1.94" height="1.94" rx="0.35" fill="#F8766D"/><rect x="569.85" y="448.26" width="1.94" height="1.94" rx="0.35" fill="#00BFC4"/><rect x="570.92" y="449.6" width="1.94" height="1.94" rx="0.35" fill="#00BFC4"/><rect x="574.28" y="449.87" width="1.94" height="1.94" rx="0.35" fill="#00BFC4"/><rect x="576.97" y="449.87" width="1.94" height="1.94" rx="0.35" fill="#00BFC4"/><rect x="551.45" y="450.27" width="1.94" height="1.94" rx="0.35" fill="#7CAE00"/><rect x="555.07" y="451.22" width="1.94" height="1.94" rx="0.35" fill="#F8766D"/><rect x="558.03" y="449.87" width="1.94" height="1.94" rx="0.35" fill="#7CAE00"/><rect x="565.82" y="451.62" width="1.94" height="1.94" rx="0.35" fill="#F8766D"/><rect x="557.09" y="453.63" width="1.94" height="1.94" rx="0.35" fill="#00BFC4"/><rect x="572.53" y="452.29" width="1.94" height="1.94" rx="0.35" fill="#7CAE00"/><rect x="573.88" y="453.23" width="1.94" height="1.94" rx="0.35" fill="#7CAE00"/><rect x="590.26" y="453.9" width="1.94" height="1.94" rx="0.35" fill="#7CAE00"/><rect x="558.43" y="457.26" width="1.94" height="1.94" rx="0.35" fill="#7CAE00"/><rect x="561.39" y="457.26" width="1.94" height="1.94" rx="0.35" fill="#7CAE00"/><rect x="561.79" y="458.34" width="1.94" height="1.94" rx="0.35" fill="#7CAE00"/><rect x="566.22" y="456.59" width="1.94" height="1.94" rx="0.35" fill="#7CAE00"/><rect x="559.51" y="460.35" width="1.94" height="1.94" rx="0.35" fill="#7CAE00"/><rect x="565.15" y="460.08" width="1.94" height="1.94" rx="0.35" fill="#00BFC4"/><rect x="568.91" y="458.34" width="1.94" height="1.94" rx="0.35" fill="#00BFC4"/><rect x="569.85" y="461.02" width="1.94" height="1.94" rx="0.35" fill="#7CAE00"/><rect x="574.55" y="459.41" width="1.94" height="1.94" rx="0.35" fill="#7CAE00"/><rect x="581.94" y="458.34" width="1.94" height="1.94" rx="0.35" fill="#00BFC4"/><rect x="580.86" y="460.75" width="1.94" height="1.94" rx="0.35" fill="#7CAE00"/><rect x="600.74" y="458.34" width="1.94" height="1.94" rx="0.35" fill="#00BFC4"/><rect x="550.37" y="462.77" width="1.94" height="1.94" rx="0.35" fill="#F8766D"/><rect x="553.73" y="465.99" width="1.94" height="1.94" rx="0.35" fill="#F8766D"/><rect x="553.73" y="468.82" width="1.94" height="1.94" rx="0.35" fill="#7CAE00"/><rect x="554.4" y="469.76" width="1.94" height="1.94" rx="0.35" fill="#7CAE00"/><rect x="561.79" y="465.73" width="1.94" height="1.94" rx="0.35" fill="#00BFC4"/><rect x="561.52" y="468.01" width="1.94" height="1.94" rx="0.35" fill="#00BFC4"/><rect x="563.13" y="468.68" width="1.94" height="1.94" rx="0.35" fill="#F8766D"/><rect x="565.15" y="468.82" width="1.94" height="1.94" rx="0.35" fill="#F8766D"/><rect x="566.22" y="466.67" width="1.94" height="1.94" rx="0.35" fill="#F8766D"/><rect x="564.07" y="465.73" width="1.94" height="1.94" rx="0.35" fill="#7CAE00"/><rect x="570.52" y="465.05" width="1.94" height="1.94" rx="0.35" fill="#7CAE00"/><rect x="573.88" y="463.71" width="1.94" height="1.94" rx="0.35" fill="#7CAE00"/><rect x="569.18" y="471.1" width="1.94" height="1.94" rx="0.35" fill="#00BFC4"/><rect x="569.85" y="470.7" width="1.94" height="1.94" rx="0.35" fill="#F8766D"/><rect x="572.53" y="469.76" width="1.94" height="1.94" rx="0.35" fill="#F8766D"/><rect x="571.19" y="472.44" width="1.94" height="1.94" rx="0.35" fill="#7CAE00"/><rect x="573.88" y="469.35" width="1.94" height="1.94" rx="0.35" fill="#7CAE00"/><rect x="575.62" y="469.49" width="1.94" height="1.94" rx="0.35" fill="#F8766D"/><rect x="576.97" y="470.7" width="1.94" height="1.94" rx="0.35" fill="#00BFC4"/><rect x="578.31" y="467.74" width="1.94" height="1.94" rx="0.35" fill="#7CAE00"/><rect x="586.37" y="465.73" width="1.94" height="1.94" rx="0.35" fill="#00BFC4"/><rect x="587.31" y="467.74" width="1.94" height="1.94" rx="0.35" fill="#C77CFF"/><rect x="589.32" y="467.47" width="1.94" height="1.94" rx="0.35" fill="#7CAE00"/><rect x="591.74" y="468.82" width="1.94" height="1.94" rx="0.35" fill="#7CAE00"/><rect x="585.02" y="466.67" width="1.94" height="1.94" rx="0.35" fill="#00BFC4"/><rect x="603.42" y="468.82" width="1.94" height="1.94" rx="0.35" fill="#00BFC4"/><rect x="591.34" y="471.77" width="1.94" height="1.94" rx="0.35" fill="#F8766D"/><rect x="597.11" y="473.12" width="1.94" height="1.94" rx="0.35" fill="#F8766D"/><rect x="595.1" y="473.79" width="1.94" height="1.94" rx="0.35" fill="#C77CFF"/><rect x="594.69" y="472.85" width="1.94" height="1.94" rx="0.35" fill="#00BFC4"/><rect x="550.37" y="475.13" width="1.94" height="1.94" rx="0.35" fill="#7CAE00"/><rect x="549.7" y="477.15" width="1.94" height="1.94" rx="0.35" fill="#00BFC4"/><rect x="553.06" y="473.38" width="1.94" height="1.94" rx="0.35" fill="#F8766D"/><rect x="554" y="475.13" width="1.94" height="1.94" rx="0.35" fill="#C77CFF"/><rect x="556.42" y="471.1" width="1.94" height="1.94" rx="0.35" fill="#00BFC4"/><rect x="559.1" y="475.13" width="1.94" height="1.94" rx="0.35" fill="#7CAE00"/><rect x="560.45" y="477.82" width="1.94" height="1.94" rx="0.35" fill="#00BFC4"/><rect x="558.7" y="477.82" width="1.94" height="1.94" rx="0.35" fill="#F8766D"/><rect x="562.46" y="473.38" width="1.94" height="1.94" rx="0.35" fill="#7CAE00"/><rect x="566.49" y="474.19" width="1.94" height="1.94" rx="0.35" fill="#7CAE00"/><rect x="565.82" y="477.15" width="1.94" height="1.94" rx="0.35" fill="#7CAE00"/><rect x="568.91" y="474.73" width="1.94" height="1.94" rx="0.35" fill="#7CAE00"/><rect x="576.56" y="474.73" width="1.94" height="1.94" rx="0.35" fill="#00BFC4"/><rect x="569.44" y="478.76" width="1.94" height="1.94" rx="0.35" fill="#00BFC4"/><rect x="573.88" y="477.55" width="1.94" height="1.94" rx="0.35" fill="#7CAE00"/><rect x="575.22" y="479.16" width="1.94" height="1.94" rx="0.35" fill="#7CAE00"/><rect x="576.56" y="480.1" width="1.94" height="1.94" rx="0.35" fill="#7CAE00"/><rect x="592.01" y="476.07" width="1.94" height="1.94" rx="0.35" fill="#7CAE00"/><rect x="591.34" y="478.76" width="1.94" height="1.94" rx="0.35" fill="#7CAE00"/><rect x="592.68" y="480.1" width="1.94" height="1.94" rx="0.35" fill="#7CAE00"/><rect x="595.77" y="478.76" width="1.94" height="1.94" rx="0.35" fill="#F8766D"/><rect x="585.29" y="476.07" width="1.94" height="1.94" rx="0.35" fill="#00BFC4"/><rect x="586.64" y="477.82" width="1.94" height="1.94" rx="0.35" fill="#00BFC4"/><rect x="584.22" y="479.83" width="1.94" height="1.94" rx="0.35" fill="#00BFC4"/><rect x="557.09" y="479.16" width="1.94" height="1.94" rx="0.35" fill="#7CAE00"/><rect x="558.16" y="481.18" width="1.94" height="1.94" rx="0.35" fill="#7CAE00"/><rect x="557.09" y="483.19" width="1.94" height="1.94" rx="0.35" fill="#00BFC4"/><rect x="557.76" y="482.79" width="1.94" height="1.94" rx="0.35" fill="#F8766D"/><rect x="562.19" y="481.44" width="1.94" height="1.94" rx="0.35" fill="#00BFC4"/><rect x="566.22" y="481.85" width="1.94" height="1.94" rx="0.35" fill="#7CAE00"/><rect x="569.85" y="481.18" width="1.94" height="1.94" rx="0.35" fill="#00BFC4"/><rect x="569.18" y="483.86" width="1.94" height="1.94" rx="0.35" fill="#00BFC4"/><rect x="575.22" y="483.86" width="1.94" height="1.94" rx="0.35" fill="#7CAE00"/><rect x="576.56" y="483.19" width="1.94" height="1.94" rx="0.35" fill="#00BFC4"/><rect x="575.89" y="485.21" width="1.94" height="1.94" rx="0.35" fill="#7CAE00"/><rect x="579.25" y="483.86" width="1.94" height="1.94" rx="0.35" fill="#F8766D"/><rect x="580.59" y="482.12" width="1.94" height="1.94" rx="0.35" fill="#00BFC4"/><rect x="583.95" y="484.27" width="1.94" height="1.94" rx="0.35" fill="#00BFC4"/><rect x="587.04" y="482.79" width="1.94" height="1.94" rx="0.35" fill="#C77CFF"/><rect x="589.05" y="481.85" width="1.94" height="1.94" rx="0.35" fill="#7CAE00"/><rect x="596.98" y="481.18" width="1.94" height="1.94" rx="0.35" fill="#7CAE00"/><rect x="598.99" y="480.91" width="1.94" height="1.94" rx="0.35" fill="#00BFC4"/><rect x="601.81" y="480.91" width="1.94" height="1.94" rx="0.35" fill="#7CAE00"/><rect x="604.77" y="482.52" width="1.94" height="1.94" rx="0.35" fill="#00BFC4"/><rect x="604.77" y="488.57" width="1.94" height="1.94" rx="0.35" fill="#7CAE00"/><rect x="551.04" y="486.82" width="1.94" height="1.94" rx="0.35" fill="#7CAE00"/><rect x="565.15" y="486.55" width="1.94" height="1.94" rx="0.35" fill="#00BFC4"/><rect x="566.49" y="487.89" width="1.94" height="1.94" rx="0.35" fill="#00BFC4"/><rect x="570.79" y="488.57" width="1.94" height="1.94" rx="0.35" fill="#00BFC4"/><rect x="572.53" y="490.58" width="1.94" height="1.94" rx="0.35" fill="#00BFC4"/><rect x="575.22" y="489.91" width="1.94" height="1.94" rx="0.35" fill="#00BFC4"/><rect x="579.92" y="487.63" width="1.94" height="1.94" rx="0.35" fill="#00BFC4"/><rect x="575.89" y="490.58" width="1.94" height="1.94" rx="0.35" fill="#F8766D"/><rect x="558.16" y="489.24" width="1.94" height="1.94" rx="0.35" fill="#7CAE00"/><rect x="559.77" y="491.25" width="1.94" height="1.94" rx="0.35" fill="#7CAE00"/><rect x="549.7" y="492.6" width="1.94" height="1.94" rx="0.35" fill="#7CAE00"/><rect x="557.09" y="491.92" width="1.94" height="1.94" rx="0.35" fill="#7CAE00"/><rect x="554.4" y="495.28" width="1.94" height="1.94" rx="0.35" fill="#00BFC4"/><rect x="567.16" y="492.6" width="1.94" height="1.94" rx="0.35" fill="#00BFC4"/><rect x="570.52" y="493.27" width="1.94" height="1.94" rx="0.35" fill="#00BFC4"/><rect x="577.91" y="495.28" width="1.94" height="1.94" rx="0.35" fill="#C77CFF"/><rect x="581.26" y="494.61" width="1.94" height="1.94" rx="0.35" fill="#00BFC4"/><rect x="585.02" y="492.87" width="1.94" height="1.94" rx="0.35" fill="#00BFC4"/><rect x="589.32" y="495.28" width="1.94" height="1.94" rx="0.35" fill="#7CAE00"/><rect x="592.68" y="493.94" width="1.94" height="1.94" rx="0.35" fill="#00BFC4"/></g>
<polygon points="466.1,453.1 468.94,454.04 471.78,454.97 474.62,455.91 477.46,456.85 480.29,457.78 483.13,458.72 485.97,459.65 488.81,460.58 491.65,461.51 494.49,462.45 497.33,463.37 500.17,464.3 503.01,465.23 505.85,466.15 508.68,467.08 511.52,468 514.36,468.92 517.2,469.83 520.04,470.75 522.88,471.66 525.72,472.56 528.56,473.46 531.4,474.36 534.24,475.25 537.07,476.13 539.91,477 542.75,477.86 545.59,478.71 548.43,479.55 551.27,480.36 554.11,481.16 556.95,481.93 559.79,482.67 562.63,483.37 565.46,484.04 568.3,484.67 571.14,485.26 573.98,485.8 576.82,486.3 579.66,486.75 582.5,487.18 585.34,487.57 588.18,487.94 591.02,488.29 593.85,488.62 596.69,488.93 599.53,489.24 602.37,489.53 605.21,489.82 608.05,490.09 610.89,490.36 613.73,490.63 616.57,490.89 619.41,491.15 622.24,491.41 625.08,491.66 627.92,491.91 630.76,492.15 633.6,492.4 633.6,510.2 630.76,509.26 627.92,508.32 625.08,507.38 622.24,506.45 619.41,505.52 616.57,504.59 613.73,503.66 610.89,502.74 608.05,501.83 605.21,500.92 602.37,500.02 599.53,499.13 596.69,498.24 593.85,497.37 591.02,496.52 588.18,495.68 585.34,494.86 582.5,494.07 579.66,493.3 576.82,492.58 573.98,491.89 571.14,491.24 568.3,490.64 565.46,490.08 562.63,489.57 559.79,489.09 556.95,488.64 554.11,488.22 551.27,487.83 548.43,487.46 545.59,487.11 542.75,486.77 539.91,486.45 537.07,486.13 534.24,485.83 531.4,485.53 528.56,485.24 525.72,484.95 522.88,484.67 520.04,484.4 517.2,484.12 514.36,483.85 511.52,483.58 508.68,483.32 505.85,483.06 503.01,482.79 500.17,482.53 497.33,482.28 494.49,482.02 491.65,481.76 488.81,481.51 485.97,481.26 483.13,481 480.29,480.75 477.46,480.5 474.62,480.25 471.78,480 468.94,479.75 466.1,479.5" fill="#999999" fill-opacity="0.4"/>
<line x1="466.1" y1="466.3" x2="633.6" y2="501.3" stroke="#3366FF" stroke-width="1.2"/>
<text x="634.8" y="430.3" font-size="8.05" font-weight="bold" text-anchor="end" fill="#000" stroke="#000" stroke-width="0.05" font-family="Liberation Sans, sans-serif">r = -0.19, P < 0.001</text>
<text x="549.85" y="596.9" font-size="11.2" font-weight="bold" text-anchor="middle" fill="#000" stroke="#000" stroke-width="0.28" font-family="Liberation Sans, sans-serif">Adjusted IgjcWMH</text>
<text transform="translate(443.9,497.85) rotate(-90)" font-size="11.2" font-weight="bold" text-anchor="middle" fill="#000" stroke="#000" stroke-width="0.28" font-family="Liberation Sans, sans-serif">Adjusted Language</text>
<text x="449.7" y="413.4" font-size="14.8" font-weight="bold" fill="#000" stroke="#000" stroke-width="0.18" font-family="Liberation Sans, sans-serif">I</text>
<text x="649.9" y="484.3" font-size="6.8" font-weight="bold" fill="#000" stroke="#000" stroke-width="0.12" font-family="Liberation Sans, sans-serif">Group</text>
<rect x="649.0" y="486.5" width="8.0" height="35.3" fill="#EBEBEB"/>
<rect x="651.85" y="490.05" width="2.3" height="2.3" rx="0.5" fill="#F8766D"/>
<text x="660.6" y="493.65" font-size="6.8" font-weight="bold" fill="#000" stroke="#000" stroke-width="0.12" font-family="Liberation Sans, sans-serif">HC</text>
<rect x="651.85" y="498.9" width="2.3" height="2.3" rx="0.5" fill="#7CAE00"/>
<text x="659.1" y="502.5" font-size="6.8" font-weight="bold" fill="#000" stroke="#000" stroke-width="0.12" font-family="Liberation Sans, sans-serif">SCD</text>
<rect x="651.85" y="507.75" width="2.3" height="2.3" rx="0.5" fill="#00BFC4"/>
<text x="659.1" y="511.35" font-size="6.8" font-weight="bold" fill="#000" stroke="#000" stroke-width="0.12" font-family="Liberation Sans, sans-serif">MCI</text>
<rect x="651.85" y="516.6" width="2.3" height="2.3" rx="0.5" fill="#C77CFF"/>
<text x="659.6" y="520.2" font-size="6.8" font-weight="bold" fill="#000" stroke="#000" stroke-width="0.12" font-family="Liberation Sans, sans-serif">AD</text>
<line x1="433" y1="284" x2="433" y2="319" stroke="#E2E2E2" stroke-width="0.7"/>
<line x1="433" y1="476.5" x2="433" y2="521.5" stroke="#E0E0E0" stroke-width="0.7"/>
<line x1="433" y1="476.5" x2="433" y2="482" stroke="#B8B8B8" stroke-width="0.8"/>
</svg>
</body></html>
